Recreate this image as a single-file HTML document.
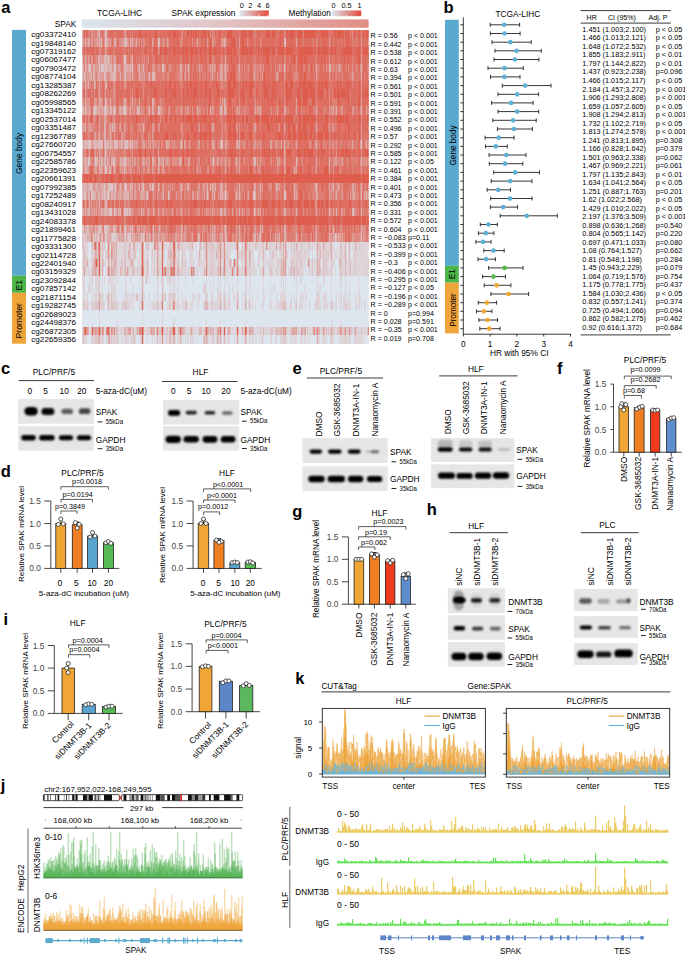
<!DOCTYPE html>
<html><head><meta charset="utf-8"><style>
html,body{margin:0;padding:0;background:#fff;}
svg{display:block;font-family:"Liberation Sans",sans-serif;}
</style></head><body>
<svg width="685" height="955" viewBox="0 0 685 955">
<defs><linearGradient id="gexp"><stop offset="0" stop-color="#dce6ee"/><stop offset="1" stop-color="#e2493a"/></linearGradient>
<linearGradient id="gspak"><stop offset="0" stop-color="#d9e5ee"/><stop offset="0.5" stop-color="#e2c2c4"/><stop offset="1" stop-color="#e08c82"/></linearGradient>
<filter id="bl" x="-30%" y="-80%" width="160%" height="260%"><feGaussianBlur stdDeviation="0.85"/></filter>
<filter id="bl2" x="-30%" y="-80%" width="160%" height="260%"><feGaussianBlur stdDeviation="1.3"/></filter></defs>
<text x="1.2" y="12.7" font-size="16.5" font-weight="bold" fill="#000">a</text>
<text x="97" y="15.8" font-size="8.4">TCGA-LIHC</text>
<text x="171.5" y="15.6" font-size="8.3">SPAK expression</text>
<text x="288.5" y="15.6" font-size="8.3">Methylation</text>
<rect x="239.5" y="10.4" width="29.2" height="5.8" fill="url(#gexp)"/>
<rect x="332" y="10.4" width="29.2" height="5.8" fill="url(#gexp)"/>
<path d="M250.1 16.2v-1.4M258.7 16.2v-1.4M267.3 16.2v-1.4M346.5 16.2v-1.4" stroke="#fff" stroke-width="0.8" fill="none"/>
<text x="241.8" y="7.9" font-size="7.3" text-anchor="middle">0</text>
<text x="250.4" y="7.9" font-size="7.3" text-anchor="middle">2</text>
<text x="259" y="7.9" font-size="7.3" text-anchor="middle">4</text>
<text x="267.6" y="7.9" font-size="7.3" text-anchor="middle">6</text>
<text x="333.5" y="7.9" font-size="7.3" text-anchor="middle">0</text>
<text x="346.5" y="7.9" font-size="7.3" text-anchor="middle">0.5</text>
<text x="359.5" y="7.9" font-size="7.3" text-anchor="middle">1</text>
<text x="76.3" y="27.3" font-size="8.3" text-anchor="end">SPAK</text>
<rect x="82" y="19.4" width="286.6" height="8.3" fill="url(#gspak)"/>
<g shape-rendering="crispEdges">
<rect x="82" y="30" width="286.6" height="8" fill="#de6e61"/>
<path d="M105 30h1v8h-1z" fill="#ddc4c6"/>
<path d="M82 30h1v8h-1zM99 30h1v8h-1zM106 30h1v8h-1z" fill="#ddb3b2"/>
<path d="M91 30h1v8h-1zM97 30h2v8h-2zM125 30h1v8h-1z" fill="#dea29e"/>
<path d="M92 30h1v8h-1zM94 30h1v8h-1zM104 30h1v8h-1zM124 30h1v8h-1zM182 30h1v8h-1zM210 30h1v8h-1zM212 30h1v8h-1zM284 30h1v8h-1zM352 30h1v8h-1zM361 30h1v8h-1z" fill="#de9089"/>
<path d="M83 30h1v8h-1zM85 30h1v8h-1zM88 30h2v8h-2zM93 30h1v8h-1zM95 30h2v8h-2zM100 30h2v8h-2zM103 30h1v8h-1zM107 30h2v8h-2zM114 30h1v8h-1zM116 30h1v8h-1zM123 30h1v8h-1zM126 30h1v8h-1zM130 30h1v8h-1zM132 30h1v8h-1zM158 30h1v8h-1zM181 30h1v8h-1zM185 30h1v8h-1zM213 30h2v8h-2zM217 30h1v8h-1zM222 30h1v8h-1zM225 30h1v8h-1zM239 30h1v8h-1zM253 30h3v8h-3zM262 30h1v8h-1zM277 30h1v8h-1zM303 30h1v8h-1zM329 30h1v8h-1zM331 30h1v8h-1zM350 30h1v8h-1zM368 30h1v8h-1z" fill="#de7f75"/>
<path d="M139 30h2v8h-2zM145 30h1v8h-1zM155 30h2v8h-2zM169 30h1v8h-1zM173 30h3v8h-3zM177 30h1v8h-1zM187 30h2v8h-2zM191 30h1v8h-1zM193 30h1v8h-1zM195 30h2v8h-2zM201 30h1v8h-1zM203 30h3v8h-3zM208 30h1v8h-1zM219 30h1v8h-1zM227 30h5v8h-5zM242 30h2v8h-2zM245 30h1v8h-1zM249 30h3v8h-3zM266 30h4v8h-4zM272 30h3v8h-3zM280 30h1v8h-1zM282 30h1v8h-1zM287 30h1v8h-1zM289 30h5v8h-5zM298 30h4v8h-4zM304 30h11v8h-11zM321 30h4v8h-4zM326 30h2v8h-2zM335 30h1v8h-1zM337 30h5v8h-5zM343 30h1v8h-1zM346 30h1v8h-1zM348 30h1v8h-1zM354 30h1v8h-1zM359 30h1v8h-1zM363 30h1v8h-1zM366 30h2v8h-2z" fill="#de5d4d"/>
<rect x="82" y="38" width="286.6" height="9" fill="#de6e61"/>
<path d="M105 38h1v9h-1zM125 38h1v9h-1zM158 38h1v9h-1zM285 38h1v9h-1z" fill="#ddc4c6"/>
<path d="M82 38h1v9h-1zM85 38h1v9h-1zM88 38h1v9h-1zM97 38h1v9h-1zM99 38h1v9h-1zM101 38h1v9h-1zM106 38h2v9h-2zM114 38h1v9h-1zM124 38h1v9h-1zM126 38h1v9h-1zM130 38h1v9h-1zM132 38h1v9h-1zM136 38h1v9h-1zM159 38h1v9h-1zM224 38h1v9h-1zM284 38h1v9h-1z" fill="#ddb3b2"/>
<path d="M83 38h1v9h-1zM89 38h1v9h-1zM92 38h1v9h-1zM100 38h1v9h-1zM110 38h1v9h-1zM115 38h1v9h-1zM122 38h1v9h-1zM127 38h1v9h-1zM152 38h1v9h-1zM163 38h1v9h-1zM167 38h1v9h-1zM197 38h1v9h-1zM207 38h1v9h-1zM212 38h1v9h-1zM222 38h1v9h-1zM225 38h1v9h-1zM239 38h1v9h-1zM296 38h1v9h-1zM329 38h1v9h-1zM361 38h1v9h-1zM368 38h1v9h-1z" fill="#dea29e"/>
<path d="M86 38h2v9h-2zM91 38h1v9h-1zM94 38h3v9h-3zM98 38h1v9h-1zM102 38h1v9h-1zM104 38h1v9h-1zM108 38h2v9h-2zM116 38h1v9h-1zM119 38h3v9h-3zM123 38h1v9h-1zM128 38h1v9h-1zM131 38h1v9h-1zM133 38h1v9h-1zM135 38h1v9h-1zM139 38h1v9h-1zM141 38h1v9h-1zM143 38h2v9h-2zM153 38h1v9h-1zM168 38h1v9h-1zM180 38h2v9h-2zM192 38h1v9h-1zM213 38h1v9h-1zM221 38h1v9h-1zM223 38h1v9h-1zM247 38h1v9h-1zM260 38h1v9h-1zM316 38h1v9h-1z" fill="#de9089"/>
<path d="M84 38h1v9h-1zM90 38h1v9h-1zM93 38h1v9h-1zM111 38h1v9h-1zM113 38h1v9h-1zM129 38h1v9h-1zM134 38h1v9h-1zM137 38h2v9h-2zM142 38h1v9h-1zM146 38h1v9h-1zM148 38h1v9h-1zM157 38h1v9h-1zM160 38h3v9h-3zM164 38h3v9h-3zM182 38h1v9h-1zM188 38h1v9h-1zM195 38h2v9h-2zM198 38h3v9h-3zM203 38h1v9h-1zM208 38h1v9h-1zM214 38h2v9h-2zM226 38h1v9h-1zM236 38h1v9h-1zM248 38h1v9h-1zM254 38h2v9h-2zM261 38h1v9h-1zM275 38h1v9h-1zM297 38h1v9h-1zM303 38h1v9h-1zM312 38h2v9h-2zM317 38h1v9h-1zM320 38h1v9h-1zM330 38h1v9h-1zM333 38h1v9h-1zM338 38h1v9h-1zM341 38h1v9h-1zM344 38h1v9h-1zM352 38h2v9h-2zM355 38h3v9h-3zM364 38h1v9h-1z" fill="#de7f75"/>
<path d="M210 38h1v9h-1zM231 38h4v9h-4zM242 38h2v9h-2zM280 38h1v9h-1zM291 38h1v9h-1zM299 38h1v9h-1zM324 38h1v9h-1zM346 38h1v9h-1zM348 38h1v9h-1z" fill="#de5d4d"/>
<rect x="82" y="47" width="286.6" height="8" fill="#de5d4d"/>
<path d="M105 47h1v8h-1z" fill="#dea29e"/>
<path d="M82 47h1v8h-1zM99 47h1v8h-1zM106 47h1v8h-1zM158 47h1v8h-1zM361 47h1v8h-1z" fill="#de9089"/>
<path d="M85 47h1v8h-1zM95 47h1v8h-1zM100 47h2v8h-2zM104 47h1v8h-1zM107 47h1v8h-1zM113 47h2v8h-2zM123 47h3v8h-3zM128 47h1v8h-1zM130 47h1v8h-1zM132 47h1v8h-1zM141 47h1v8h-1zM143 47h1v8h-1zM152 47h1v8h-1zM159 47h1v8h-1zM225 47h1v8h-1zM238 47h2v8h-2zM276 47h1v8h-1zM316 47h1v8h-1zM368 47h1v8h-1z" fill="#de7f75"/>
<path d="M83 47h2v8h-2zM86 47h6v8h-6zM93 47h2v8h-2zM96 47h3v8h-3zM102 47h2v8h-2zM108 47h5v8h-5zM115 47h8v8h-8zM126 47h2v8h-2zM129 47h1v8h-1zM131 47h1v8h-1zM133 47h8v8h-8zM142 47h1v8h-1zM144 47h1v8h-1zM146 47h6v8h-6zM153 47h1v8h-1zM157 47h1v8h-1zM162 47h2v8h-2zM167 47h3v8h-3zM171 47h2v8h-2zM176 47h1v8h-1zM178 47h1v8h-1zM180 47h2v8h-2zM184 47h1v8h-1zM188 47h2v8h-2zM194 47h1v8h-1zM197 47h3v8h-3zM202 47h2v8h-2zM206 47h3v8h-3zM212 47h2v8h-2zM217 47h2v8h-2zM220 47h3v8h-3zM224 47h1v8h-1zM226 47h1v8h-1zM232 47h1v8h-1zM236 47h2v8h-2zM240 47h1v8h-1zM248 47h1v8h-1zM253 47h5v8h-5zM259 47h2v8h-2zM262 47h1v8h-1zM270 47h2v8h-2zM275 47h1v8h-1zM277 47h1v8h-1zM284 47h2v8h-2zM293 47h6v8h-6zM313 47h2v8h-2zM317 47h1v8h-1zM321 47h1v8h-1zM328 47h2v8h-2zM333 47h1v8h-1zM336 47h5v8h-5zM342 47h1v8h-1zM352 47h4v8h-4zM357 47h1v8h-1zM360 47h1v8h-1zM362 47h1v8h-1z" fill="#de6e61"/>
<rect x="82" y="55" width="286.6" height="9" fill="#de6e61"/>
<path d="M82 55h1v9h-1zM105 55h1v9h-1zM108 55h1v9h-1zM124 55h2v9h-2z" fill="#ddc4c6"/>
<path d="M85 55h1v9h-1zM98 55h2v9h-2zM104 55h1v9h-1zM107 55h1v9h-1zM114 55h1v9h-1zM132 55h1v9h-1z" fill="#ddb3b2"/>
<path d="M88 55h1v9h-1zM91 55h1v9h-1zM101 55h2v9h-2zM106 55h1v9h-1zM109 55h1v9h-1zM111 55h1v9h-1zM225 55h1v9h-1zM329 55h1v9h-1zM361 55h1v9h-1z" fill="#dea29e"/>
<path d="M86 55h1v9h-1zM89 55h1v9h-1zM92 55h1v9h-1zM96 55h1v9h-1zM100 55h1v9h-1zM103 55h1v9h-1zM110 55h1v9h-1zM113 55h1v9h-1zM115 55h1v9h-1zM123 55h1v9h-1zM126 55h1v9h-1zM130 55h2v9h-2zM144 55h1v9h-1zM148 55h1v9h-1zM212 55h1v9h-1zM222 55h1v9h-1zM239 55h1v9h-1zM284 55h1v9h-1zM296 55h1v9h-1z" fill="#de9089"/>
<path d="M83 55h2v9h-2zM87 55h1v9h-1zM94 55h2v9h-2zM97 55h1v9h-1zM112 55h1v9h-1zM116 55h1v9h-1zM119 55h1v9h-1zM121 55h2v9h-2zM127 55h2v9h-2zM136 55h1v9h-1zM138 55h2v9h-2zM141 55h3v9h-3zM146 55h2v9h-2zM152 55h3v9h-3zM162 55h2v9h-2zM167 55h1v9h-1zM180 55h2v9h-2zM189 55h1v9h-1zM199 55h1v9h-1zM207 55h2v9h-2zM213 55h2v9h-2zM220 55h2v9h-2zM224 55h1v9h-1zM226 55h1v9h-1zM244 55h1v9h-1zM253 55h3v9h-3zM260 55h1v9h-1zM270 55h1v9h-1zM275 55h1v9h-1zM281 55h1v9h-1zM285 55h1v9h-1zM289 55h1v9h-1zM315 55h2v9h-2zM332 55h2v9h-2zM338 55h1v9h-1zM352 55h2v9h-2zM368 55h1v9h-1z" fill="#de7f75"/>
<path d="M156 55h1v9h-1zM183 55h1v9h-1zM187 55h1v9h-1zM191 55h1v9h-1zM201 55h1v9h-1zM209 55h2v9h-2zM231 55h1v9h-1zM266 55h3v9h-3zM282 55h1v9h-1zM293 55h2v9h-2zM299 55h4v9h-4zM304 55h3v9h-3zM321 55h1v9h-1zM324 55h1v9h-1zM344 55h1v9h-1zM348 55h1v9h-1zM358 55h2v9h-2z" fill="#de5d4d"/>
<rect x="82" y="64" width="286.6" height="8" fill="#de7f75"/>
<path d="M82 64h1v8h-1zM89 64h2v8h-2zM99 64h1v8h-1zM101 64h3v8h-3zM106 64h1v8h-1zM114 64h2v8h-2zM132 64h1v8h-1zM163 64h1v8h-1zM284 64h1v8h-1z" fill="#ddc4c6"/>
<path d="M85 64h1v8h-1zM88 64h1v8h-1zM93 64h2v8h-2zM104 64h2v8h-2zM107 64h1v8h-1zM109 64h3v8h-3zM124 64h2v8h-2zM127 64h1v8h-1zM130 64h1v8h-1zM139 64h1v8h-1zM143 64h1v8h-1zM162 64h1v8h-1zM180 64h2v8h-2zM188 64h1v8h-1zM225 64h1v8h-1zM239 64h1v8h-1zM316 64h1v8h-1zM329 64h2v8h-2zM339 64h1v8h-1zM361 64h1v8h-1z" fill="#ddb3b2"/>
<path d="M83 64h1v8h-1zM86 64h1v8h-1zM96 64h1v8h-1zM98 64h1v8h-1zM100 64h1v8h-1zM108 64h1v8h-1zM113 64h1v8h-1zM118 64h2v8h-2zM126 64h1v8h-1zM128 64h2v8h-2zM131 64h1v8h-1zM138 64h1v8h-1zM153 64h1v8h-1zM185 64h1v8h-1zM199 64h1v8h-1zM210 64h1v8h-1zM212 64h1v8h-1zM214 64h1v8h-1zM220 64h3v8h-3zM224 64h1v8h-1zM260 64h1v8h-1zM279 64h1v8h-1z" fill="#dea29e"/>
<path d="M87 64h1v8h-1zM91 64h2v8h-2zM95 64h1v8h-1zM97 64h1v8h-1zM112 64h1v8h-1zM116 64h2v8h-2zM120 64h1v8h-1zM123 64h1v8h-1zM137 64h1v8h-1zM141 64h2v8h-2zM144 64h1v8h-1zM146 64h1v8h-1zM152 64h1v8h-1zM154 64h1v8h-1zM158 64h2v8h-2zM164 64h2v8h-2zM169 64h2v8h-2zM187 64h1v8h-1zM189 64h1v8h-1zM201 64h1v8h-1zM208 64h1v8h-1zM211 64h1v8h-1zM213 64h1v8h-1zM215 64h1v8h-1zM226 64h2v8h-2zM238 64h1v8h-1zM244 64h1v8h-1zM248 64h1v8h-1zM253 64h3v8h-3zM257 64h1v8h-1zM263 64h1v8h-1zM275 64h1v8h-1zM281 64h1v8h-1zM285 64h1v8h-1zM296 64h1v8h-1zM309 64h1v8h-1zM323 64h1v8h-1zM326 64h1v8h-1zM333 64h1v8h-1zM336 64h1v8h-1zM338 64h1v8h-1zM340 64h1v8h-1zM348 64h1v8h-1zM352 64h1v8h-1zM356 64h1v8h-1zM360 64h1v8h-1zM368 64h1v8h-1z" fill="#de9089"/>
<path d="M136 64h1v8h-1zM145 64h1v8h-1zM148 64h2v8h-2zM151 64h1v8h-1zM166 64h2v8h-2zM173 64h1v8h-1zM175 64h1v8h-1zM190 64h2v8h-2zM194 64h2v8h-2zM203 64h1v8h-1zM205 64h2v8h-2zM216 64h2v8h-2zM229 64h4v8h-4zM234 64h2v8h-2zM243 64h1v8h-1zM245 64h1v8h-1zM250 64h3v8h-3zM264 64h6v8h-6zM272 64h3v8h-3zM276 64h1v8h-1zM282 64h1v8h-1zM286 64h1v8h-1zM289 64h3v8h-3zM294 64h1v8h-1zM297 64h4v8h-4zM302 64h1v8h-1zM305 64h3v8h-3zM310 64h1v8h-1zM312 64h1v8h-1zM314 64h1v8h-1zM320 64h3v8h-3zM324 64h2v8h-2zM343 64h2v8h-2zM347 64h1v8h-1zM349 64h1v8h-1zM351 64h1v8h-1zM354 64h1v8h-1zM358 64h2v8h-2zM363 64h4v8h-4z" fill="#de6e61"/>
<path d="M233 64h1v8h-1zM301 64h1v8h-1zM311 64h1v8h-1z" fill="#de5d4d"/>
<rect x="82" y="72" width="286.6" height="9" fill="#de6e61"/>
<path d="M82 72h1v9h-1zM104 72h1v9h-1zM114 72h1v9h-1zM153 72h1v9h-1z" fill="#ddc4c6"/>
<path d="M84 72h2v9h-2zM89 72h1v9h-1zM91 72h1v9h-1zM93 72h2v9h-2zM99 72h1v9h-1zM105 72h1v9h-1zM111 72h3v9h-3zM120 72h1v9h-1zM124 72h2v9h-2zM132 72h1v9h-1zM139 72h1v9h-1zM149 72h1v9h-1zM152 72h1v9h-1zM154 72h1v9h-1zM212 72h1v9h-1zM220 72h1v9h-1zM225 72h1v9h-1zM277 72h1v9h-1zM361 72h1v9h-1z" fill="#ddb3b2"/>
<path d="M83 72h1v9h-1zM87 72h1v9h-1zM90 72h1v9h-1zM97 72h2v9h-2zM101 72h2v9h-2zM106 72h1v9h-1zM110 72h1v9h-1zM115 72h2v9h-2zM126 72h1v9h-1zM129 72h2v9h-2zM142 72h1v9h-1zM144 72h1v9h-1zM148 72h1v9h-1zM180 72h2v9h-2zM185 72h1v9h-1zM188 72h1v9h-1zM217 72h1v9h-1zM221 72h2v9h-2zM239 72h1v9h-1zM254 72h1v9h-1zM262 72h1v9h-1zM284 72h1v9h-1zM316 72h1v9h-1zM329 72h1v9h-1zM352 72h1v9h-1z" fill="#dea29e"/>
<path d="M86 72h1v9h-1zM88 72h1v9h-1zM92 72h1v9h-1zM95 72h1v9h-1zM100 72h1v9h-1zM103 72h1v9h-1zM107 72h3v9h-3zM119 72h1v9h-1zM122 72h2v9h-2zM127 72h2v9h-2zM133 72h1v9h-1zM138 72h1v9h-1zM140 72h2v9h-2zM143 72h1v9h-1zM150 72h1v9h-1zM155 72h1v9h-1zM163 72h1v9h-1zM167 72h2v9h-2zM178 72h1v9h-1zM184 72h1v9h-1zM189 72h1v9h-1zM199 72h1v9h-1zM210 72h1v9h-1zM224 72h1v9h-1zM226 72h1v9h-1zM237 72h1v9h-1zM253 72h1v9h-1zM255 72h1v9h-1zM257 72h1v9h-1zM260 72h1v9h-1zM276 72h1v9h-1zM295 72h2v9h-2zM336 72h1v9h-1zM342 72h1v9h-1zM353 72h1v9h-1zM368 72h1v9h-1z" fill="#de9089"/>
<path d="M96 72h1v9h-1zM117 72h2v9h-2zM121 72h1v9h-1zM131 72h1v9h-1zM134 72h3v9h-3zM145 72h3v9h-3zM151 72h1v9h-1zM156 72h7v9h-7zM164 72h2v9h-2zM169 72h1v9h-1zM172 72h1v9h-1zM175 72h3v9h-3zM179 72h1v9h-1zM182 72h1v9h-1zM186 72h1v9h-1zM192 72h1v9h-1zM197 72h1v9h-1zM200 72h1v9h-1zM202 72h4v9h-4zM207 72h2v9h-2zM211 72h1v9h-1zM213 72h3v9h-3zM218 72h2v9h-2zM223 72h1v9h-1zM236 72h1v9h-1zM238 72h1v9h-1zM240 72h3v9h-3zM244 72h5v9h-5zM256 72h1v9h-1zM258 72h1v9h-1zM261 72h1v9h-1zM270 72h1v9h-1zM275 72h1v9h-1zM278 72h1v9h-1zM285 72h1v9h-1zM293 72h2v9h-2zM297 72h2v9h-2zM307 72h1v9h-1zM309 72h1v9h-1zM314 72h1v9h-1zM317 72h2v9h-2zM330 72h1v9h-1zM332 72h2v9h-2zM335 72h1v9h-1zM338 72h2v9h-2zM341 72h1v9h-1zM348 72h1v9h-1zM350 72h2v9h-2zM355 72h1v9h-1zM357 72h2v9h-2zM360 72h1v9h-1zM364 72h1v9h-1z" fill="#de7f75"/>
<path d="M230 72h2v9h-2zM233 72h2v9h-2zM264 72h1v9h-1zM282 72h1v9h-1zM289 72h1v9h-1zM300 72h1v9h-1zM304 72h2v9h-2z" fill="#de5d4d"/>
<rect x="82" y="81" width="286.6" height="8" fill="#de6e61"/>
<path d="M82 81h1v8h-1zM85 81h1v8h-1zM88 81h1v8h-1zM94 81h1v8h-1zM105 81h2v8h-2z" fill="#ddb3b2"/>
<path d="M95 81h1v8h-1zM99 81h1v8h-1zM124 81h1v8h-1z" fill="#dea29e"/>
<path d="M86 81h2v8h-2zM90 81h1v8h-1zM113 81h2v8h-2zM125 81h1v8h-1zM222 81h1v8h-1zM361 81h1v8h-1z" fill="#de9089"/>
<path d="M83 81h2v8h-2zM89 81h1v8h-1zM92 81h2v8h-2zM97 81h2v8h-2zM100 81h2v8h-2zM104 81h1v8h-1zM107 81h1v8h-1zM110 81h1v8h-1zM115 81h1v8h-1zM120 81h1v8h-1zM126 81h1v8h-1zM130 81h1v8h-1zM134 81h1v8h-1zM141 81h4v8h-4zM160 81h1v8h-1zM180 81h3v8h-3zM210 81h1v8h-1zM220 81h2v8h-2zM223 81h4v8h-4zM239 81h1v8h-1zM255 81h1v8h-1zM260 81h1v8h-1zM284 81h1v8h-1zM294 81h1v8h-1zM316 81h1v8h-1zM329 81h1v8h-1zM331 81h1v8h-1zM352 81h1v8h-1zM368 81h1v8h-1z" fill="#de7f75"/>
<path d="M151 81h1v8h-1zM169 81h2v8h-2zM175 81h1v8h-1zM187 81h1v8h-1zM190 81h2v8h-2zM193 81h1v8h-1zM195 81h2v8h-2zM201 81h1v8h-1zM205 81h2v8h-2zM216 81h2v8h-2zM228 81h3v8h-3zM233 81h3v8h-3zM243 81h1v8h-1zM245 81h2v8h-2zM249 81h4v8h-4zM263 81h3v8h-3zM267 81h1v8h-1zM269 81h1v8h-1zM272 81h1v8h-1zM274 81h1v8h-1zM286 81h2v8h-2zM290 81h3v8h-3zM299 81h2v8h-2zM302 81h4v8h-4zM307 81h6v8h-6zM319 81h1v8h-1zM321 81h2v8h-2zM324 81h4v8h-4zM337 81h1v8h-1zM340 81h1v8h-1zM346 81h1v8h-1zM348 81h2v8h-2zM359 81h1v8h-1z" fill="#de5d4d"/>
<rect x="82" y="89" width="286.6" height="9" fill="#de6e61"/>
<path d="M82 89h1v9h-1zM85 89h1v9h-1zM99 89h1v9h-1zM105 89h1v9h-1z" fill="#dea29e"/>
<path d="M94 89h1v9h-1zM98 89h1v9h-1zM113 89h3v9h-3zM132 89h1v9h-1zM143 89h1v9h-1zM329 89h1v9h-1zM361 89h1v9h-1z" fill="#de9089"/>
<path d="M86 89h2v9h-2zM91 89h2v9h-2zM100 89h2v9h-2zM104 89h1v9h-1zM107 89h2v9h-2zM110 89h3v9h-3zM124 89h1v9h-1zM130 89h1v9h-1zM148 89h1v9h-1zM181 89h1v9h-1zM212 89h1v9h-1zM220 89h1v9h-1zM225 89h1v9h-1zM239 89h1v9h-1zM253 89h3v9h-3zM260 89h1v9h-1zM281 89h1v9h-1zM284 89h1v9h-1zM316 89h1v9h-1zM325 89h1v9h-1zM332 89h1v9h-1zM350 89h1v9h-1zM368 89h1v9h-1z" fill="#de7f75"/>
<path d="M136 89h2v9h-2zM154 89h3v9h-3zM165 89h2v9h-2zM171 89h1v9h-1zM173 89h3v9h-3zM183 89h1v9h-1zM187 89h2v9h-2zM191 89h1v9h-1zM193 89h4v9h-4zM201 89h1v9h-1zM205 89h2v9h-2zM209 89h2v9h-2zM217 89h3v9h-3zM228 89h6v9h-6zM241 89h3v9h-3zM249 89h3v9h-3zM256 89h1v9h-1zM264 89h4v9h-4zM272 89h3v9h-3zM276 89h1v9h-1zM286 89h6v9h-6zM297 89h3v9h-3zM303 89h6v9h-6zM310 89h5v9h-5zM318 89h5v9h-5zM327 89h1v9h-1zM334 89h2v9h-2zM337 89h3v9h-3zM341 89h5v9h-5zM347 89h2v9h-2zM359 89h1v9h-1zM363 89h1v9h-1zM365 89h3v9h-3z" fill="#de5d4d"/>
<rect x="82" y="98" width="286.6" height="8" fill="#de6e61"/>
<path d="M105 98h1v8h-1z" fill="#ddc4c6"/>
<path d="M82 98h1v8h-1zM85 98h1v8h-1zM99 98h1v8h-1zM110 98h1v8h-1zM125 98h1v8h-1zM132 98h1v8h-1zM152 98h2v8h-2zM224 98h1v8h-1z" fill="#ddb3b2"/>
<path d="M89 98h1v8h-1zM95 98h1v8h-1zM100 98h2v8h-2zM106 98h1v8h-1zM114 98h1v8h-1zM124 98h1v8h-1zM139 98h1v8h-1zM222 98h1v8h-1zM225 98h1v8h-1zM296 98h1v8h-1zM361 98h1v8h-1z" fill="#dea29e"/>
<path d="M83 98h1v8h-1zM86 98h3v8h-3zM94 98h1v8h-1zM96 98h1v8h-1zM102 98h1v8h-1zM107 98h1v8h-1zM123 98h1v8h-1zM126 98h1v8h-1zM130 98h1v8h-1zM135 98h1v8h-1zM148 98h1v8h-1zM160 98h1v8h-1zM220 98h1v8h-1zM239 98h1v8h-1zM255 98h1v8h-1zM284 98h1v8h-1zM329 98h1v8h-1z" fill="#de9089"/>
<path d="M84 98h1v8h-1zM93 98h1v8h-1zM97 98h2v8h-2zM104 98h1v8h-1zM108 98h2v8h-2zM111 98h3v8h-3zM115 98h1v8h-1zM119 98h2v8h-2zM122 98h1v8h-1zM131 98h1v8h-1zM133 98h2v8h-2zM136 98h1v8h-1zM138 98h1v8h-1zM141 98h1v8h-1zM143 98h1v8h-1zM154 98h2v8h-2zM159 98h1v8h-1zM161 98h3v8h-3zM181 98h1v8h-1zM199 98h1v8h-1zM202 98h1v8h-1zM207 98h1v8h-1zM212 98h2v8h-2zM221 98h1v8h-1zM223 98h1v8h-1zM226 98h1v8h-1zM232 98h1v8h-1zM234 98h1v8h-1zM246 98h1v8h-1zM254 98h1v8h-1zM257 98h1v8h-1zM260 98h1v8h-1zM277 98h1v8h-1zM309 98h2v8h-2zM315 98h2v8h-2zM332 98h5v8h-5zM342 98h1v8h-1zM350 98h1v8h-1zM368 98h1v8h-1z" fill="#de7f75"/>
<path d="M145 98h1v8h-1zM170 98h1v8h-1zM193 98h1v8h-1zM209 98h1v8h-1zM216 98h1v8h-1zM229 98h2v8h-2zM243 98h1v8h-1zM268 98h1v8h-1zM271 98h2v8h-2zM279 98h1v8h-1zM287 98h1v8h-1zM289 98h1v8h-1zM298 98h3v8h-3zM303 98h4v8h-4zM312 98h3v8h-3zM338 98h1v8h-1zM348 98h1v8h-1zM358 98h2v8h-2z" fill="#de5d4d"/>
<rect x="82" y="106" width="286.6" height="9" fill="#de7f75"/>
<path d="M82 106h1v9h-1zM94 106h2v9h-2zM104 106h2v9h-2zM114 106h1v9h-1zM124 106h2v9h-2zM158 106h1v9h-1zM221 106h1v9h-1z" fill="#ddc4c6"/>
<path d="M83 106h1v9h-1zM85 106h2v9h-2zM93 106h1v9h-1zM96 106h1v9h-1zM99 106h1v9h-1zM102 106h1v9h-1zM106 106h2v9h-2zM110 106h2v9h-2zM113 106h1v9h-1zM115 106h1v9h-1zM120 106h1v9h-1zM123 106h1v9h-1zM130 106h1v9h-1zM137 106h3v9h-3zM149 106h1v9h-1zM152 106h1v9h-1zM159 106h1v9h-1zM197 106h1v9h-1zM210 106h1v9h-1zM220 106h1v9h-1zM224 106h2v9h-2zM260 106h1v9h-1zM284 106h1v9h-1zM336 106h1v9h-1zM361 106h1v9h-1z" fill="#ddb3b2"/>
<path d="M88 106h3v9h-3zM97 106h2v9h-2zM101 106h1v9h-1zM109 106h1v9h-1zM119 106h1v9h-1zM122 106h1v9h-1zM126 106h1v9h-1zM148 106h1v9h-1zM153 106h1v9h-1zM160 106h2v9h-2zM181 106h1v9h-1zM187 106h1v9h-1zM212 106h1v9h-1zM226 106h1v9h-1zM237 106h1v9h-1zM239 106h1v9h-1zM255 106h1v9h-1zM257 106h1v9h-1zM277 106h1v9h-1zM285 106h1v9h-1zM296 106h1v9h-1zM316 106h1v9h-1zM329 106h1v9h-1zM331 106h1v9h-1zM333 106h1v9h-1zM342 106h1v9h-1zM353 106h1v9h-1zM366 106h1v9h-1z" fill="#dea29e"/>
<path d="M84 106h1v9h-1zM87 106h1v9h-1zM100 106h1v9h-1zM103 106h1v9h-1zM108 106h1v9h-1zM112 106h1v9h-1zM121 106h1v9h-1zM127 106h1v9h-1zM129 106h1v9h-1zM132 106h3v9h-3zM136 106h1v9h-1zM141 106h3v9h-3zM155 106h1v9h-1zM163 106h1v9h-1zM168 106h2v9h-2zM176 106h1v9h-1zM180 106h1v9h-1zM182 106h1v9h-1zM185 106h1v9h-1zM188 106h1v9h-1zM192 106h1v9h-1zM198 106h3v9h-3zM207 106h1v9h-1zM213 106h1v9h-1zM222 106h1v9h-1zM236 106h1v9h-1zM244 106h1v9h-1zM254 106h1v9h-1zM258 106h2v9h-2zM271 106h1v9h-1zM301 106h1v9h-1zM317 106h1v9h-1zM332 106h1v9h-1zM335 106h1v9h-1zM341 106h1v9h-1zM352 106h1v9h-1zM360 106h1v9h-1zM368 106h1v9h-1z" fill="#de9089"/>
<path d="M91 106h1v9h-1zM145 106h1v9h-1zM156 106h1v9h-1zM166 106h2v9h-2zM171 106h1v9h-1zM173 106h2v9h-2zM183 106h1v9h-1zM191 106h1v9h-1zM194 106h2v9h-2zM201 106h1v9h-1zM205 106h1v9h-1zM208 106h2v9h-2zM215 106h1v9h-1zM217 106h1v9h-1zM227 106h5v9h-5zM233 106h2v9h-2zM249 106h5v9h-5zM262 106h8v9h-8zM272 106h1v9h-1zM274 106h1v9h-1zM279 106h5v9h-5zM289 106h6v9h-6zM298 106h3v9h-3zM302 106h1v9h-1zM305 106h2v9h-2zM308 106h2v9h-2zM311 106h2v9h-2zM318 106h5v9h-5zM327 106h2v9h-2zM338 106h1v9h-1zM343 106h1v9h-1zM345 106h7v9h-7zM354 106h1v9h-1zM358 106h2v9h-2zM363 106h2v9h-2z" fill="#de6e61"/>
<path d="M310 106h1v9h-1z" fill="#de5d4d"/>
<rect x="82" y="115" width="286.6" height="8" fill="#de6e61"/>
<path d="M105 115h1v8h-1z" fill="#ddb3b2"/>
<path d="M94 115h1v8h-1zM99 115h1v8h-1zM104 115h1v8h-1z" fill="#dea29e"/>
<path d="M82 115h1v8h-1zM85 115h1v8h-1zM88 115h1v8h-1zM106 115h1v8h-1zM113 115h2v8h-2zM160 115h1v8h-1zM361 115h1v8h-1z" fill="#de9089"/>
<path d="M86 115h1v8h-1zM89 115h1v8h-1zM93 115h1v8h-1zM95 115h1v8h-1zM100 115h4v8h-4zM107 115h3v8h-3zM112 115h1v8h-1zM116 115h1v8h-1zM120 115h2v8h-2zM124 115h3v8h-3zM130 115h1v8h-1zM141 115h1v8h-1zM144 115h1v8h-1zM146 115h1v8h-1zM163 115h1v8h-1zM168 115h1v8h-1zM220 115h3v8h-3zM225 115h1v8h-1zM244 115h1v8h-1zM260 115h1v8h-1zM294 115h1v8h-1zM316 115h1v8h-1zM329 115h1v8h-1zM368 115h1v8h-1z" fill="#de7f75"/>
<path d="M91 115h1v8h-1zM136 115h2v8h-2zM150 115h2v8h-2zM155 115h2v8h-2zM165 115h2v8h-2zM170 115h1v8h-1zM175 115h1v8h-1zM183 115h1v8h-1zM186 115h6v8h-6zM194 115h3v8h-3zM201 115h1v8h-1zM203 115h4v8h-4zM209 115h1v8h-1zM215 115h1v8h-1zM227 115h5v8h-5zM233 115h3v8h-3zM242 115h2v8h-2zM246 115h2v8h-2zM251 115h1v8h-1zM256 115h3v8h-3zM262 115h7v8h-7zM271 115h2v8h-2zM274 115h1v8h-1zM276 115h1v8h-1zM278 115h3v8h-3zM286 115h7v8h-7zM299 115h2v8h-2zM303 115h7v8h-7zM311 115h4v8h-4zM318 115h1v8h-1zM321 115h1v8h-1zM325 115h3v8h-3zM337 115h7v8h-7zM345 115h4v8h-4zM354 115h1v8h-1zM358 115h2v8h-2zM367 115h1v8h-1z" fill="#de5d4d"/>
<rect x="82" y="123" width="286.6" height="9" fill="#de6e61"/>
<path d="M85 123h1v9h-1zM104 123h2v9h-2zM112 123h1v9h-1zM114 123h1v9h-1zM143 123h1v9h-1z" fill="#ddb3b2"/>
<path d="M82 123h2v9h-2zM89 123h1v9h-1zM91 123h1v9h-1zM99 123h1v9h-1zM109 123h2v9h-2zM113 123h1v9h-1zM120 123h1v9h-1zM124 123h1v9h-1zM153 123h1v9h-1zM199 123h1v9h-1zM212 123h2v9h-2zM254 123h2v9h-2zM284 123h1v9h-1zM316 123h1v9h-1zM329 123h1v9h-1zM361 123h1v9h-1z" fill="#dea29e"/>
<path d="M84 123h1v9h-1zM88 123h1v9h-1zM90 123h1v9h-1zM93 123h1v9h-1zM111 123h1v9h-1zM115 123h1v9h-1zM119 123h1v9h-1zM125 123h1v9h-1zM130 123h1v9h-1zM132 123h1v9h-1zM139 123h1v9h-1zM141 123h1v9h-1zM144 123h1v9h-1zM152 123h1v9h-1zM158 123h2v9h-2zM181 123h2v9h-2zM222 123h1v9h-1zM225 123h1v9h-1zM236 123h2v9h-2zM239 123h1v9h-1zM279 123h1v9h-1zM296 123h1v9h-1zM332 123h2v9h-2zM368 123h1v9h-1z" fill="#de9089"/>
<path d="M86 123h2v9h-2zM92 123h1v9h-1zM94 123h3v9h-3zM98 123h1v9h-1zM100 123h4v9h-4zM106 123h3v9h-3zM116 123h2v9h-2zM121 123h1v9h-1zM123 123h1v9h-1zM126 123h2v9h-2zM131 123h1v9h-1zM137 123h2v9h-2zM140 123h1v9h-1zM142 123h1v9h-1zM150 123h1v9h-1zM154 123h1v9h-1zM165 123h1v9h-1zM180 123h1v9h-1zM185 123h1v9h-1zM188 123h1v9h-1zM198 123h1v9h-1zM202 123h2v9h-2zM211 123h1v9h-1zM214 123h1v9h-1zM221 123h1v9h-1zM224 123h1v9h-1zM226 123h1v9h-1zM241 123h1v9h-1zM244 123h1v9h-1zM247 123h1v9h-1zM253 123h1v9h-1zM256 123h1v9h-1zM260 123h1v9h-1zM278 123h1v9h-1zM285 123h1v9h-1zM315 123h1v9h-1zM317 123h1v9h-1zM328 123h1v9h-1zM331 123h1v9h-1zM334 123h3v9h-3zM342 123h1v9h-1z" fill="#de7f75"/>
<path d="M191 123h2v9h-2zM201 123h1v9h-1zM209 123h1v9h-1zM229 123h2v9h-2zM233 123h2v9h-2zM250 123h1v9h-1zM267 123h3v9h-3zM281 123h1v9h-1zM288 123h2v9h-2zM293 123h2v9h-2zM299 123h2v9h-2zM303 123h3v9h-3zM311 123h2v9h-2zM324 123h2v9h-2zM327 123h1v9h-1zM338 123h1v9h-1zM348 123h2v9h-2zM359 123h1v9h-1z" fill="#de5d4d"/>
<rect x="82" y="132" width="286.6" height="8" fill="#de6e61"/>
<path d="M99 132h1v8h-1zM104 132h2v8h-2z" fill="#ddb3b2"/>
<path d="M82 132h1v8h-1zM95 132h1v8h-1zM110 132h1v8h-1zM122 132h1v8h-1zM152 132h1v8h-1zM361 132h1v8h-1z" fill="#dea29e"/>
<path d="M88 132h1v8h-1zM94 132h1v8h-1zM98 132h1v8h-1zM103 132h1v8h-1zM108 132h2v8h-2zM111 132h1v8h-1zM114 132h1v8h-1zM121 132h1v8h-1zM124 132h1v8h-1zM141 132h1v8h-1zM143 132h1v8h-1zM148 132h1v8h-1zM182 132h1v8h-1zM222 132h1v8h-1zM239 132h1v8h-1z" fill="#de9089"/>
<path d="M85 132h1v8h-1zM87 132h1v8h-1zM89 132h2v8h-2zM93 132h1v8h-1zM96 132h2v8h-2zM100 132h3v8h-3zM106 132h2v8h-2zM113 132h1v8h-1zM115 132h1v8h-1zM117 132h1v8h-1zM123 132h1v8h-1zM125 132h1v8h-1zM130 132h3v8h-3zM134 132h1v8h-1zM137 132h2v8h-2zM142 132h1v8h-1zM149 132h2v8h-2zM153 132h1v8h-1zM181 132h1v8h-1zM212 132h1v8h-1zM214 132h1v8h-1zM220 132h2v8h-2zM225 132h2v8h-2zM237 132h1v8h-1zM246 132h1v8h-1zM253 132h3v8h-3zM284 132h1v8h-1zM316 132h1v8h-1zM329 132h1v8h-1zM357 132h1v8h-1zM364 132h1v8h-1zM366 132h1v8h-1zM368 132h1v8h-1z" fill="#de7f75"/>
<path d="M145 132h1v8h-1zM156 132h1v8h-1zM165 132h3v8h-3zM173 132h1v8h-1zM175 132h1v8h-1zM187 132h2v8h-2zM194 132h2v8h-2zM200 132h2v8h-2zM203 132h4v8h-4zM209 132h2v8h-2zM228 132h4v8h-4zM233 132h3v8h-3zM241 132h3v8h-3zM249 132h3v8h-3zM263 132h2v8h-2zM276 132h1v8h-1zM278 132h3v8h-3zM282 132h1v8h-1zM288 132h3v8h-3zM293 132h3v8h-3zM299 132h4v8h-4zM304 132h3v8h-3zM310 132h2v8h-2zM314 132h1v8h-1zM318 132h5v8h-5zM325 132h3v8h-3zM335 132h1v8h-1zM338 132h1v8h-1zM345 132h1v8h-1zM348 132h1v8h-1zM354 132h1v8h-1zM359 132h1v8h-1z" fill="#de5d4d"/>
<rect x="82" y="140" width="286.6" height="9" fill="#de7f75"/>
<path d="M82 140h1v9h-1z" fill="#ddd5da"/>
<path d="M85 140h1v9h-1zM88 140h3v9h-3zM94 140h1v9h-1zM99 140h1v9h-1zM101 140h1v9h-1zM105 140h1v9h-1zM114 140h1v9h-1zM116 140h1v9h-1zM125 140h1v9h-1zM127 140h1v9h-1zM130 140h1v9h-1zM181 140h1v9h-1zM221 140h1v9h-1zM361 140h1v9h-1z" fill="#ddc4c6"/>
<path d="M83 140h1v9h-1zM86 140h2v9h-2zM95 140h4v9h-4zM100 140h1v9h-1zM102 140h1v9h-1zM104 140h1v9h-1zM106 140h3v9h-3zM110 140h2v9h-2zM115 140h1v9h-1zM117 140h1v9h-1zM121 140h2v9h-2zM124 140h1v9h-1zM126 140h1v9h-1zM132 140h1v9h-1zM153 140h1v9h-1zM166 140h1v9h-1zM212 140h1v9h-1zM220 140h1v9h-1zM222 140h1v9h-1zM225 140h1v9h-1zM237 140h1v9h-1zM239 140h1v9h-1zM281 140h1v9h-1zM284 140h1v9h-1zM316 140h1v9h-1zM366 140h1v9h-1z" fill="#ddb3b2"/>
<path d="M84 140h1v9h-1zM91 140h3v9h-3zM109 140h1v9h-1zM112 140h1v9h-1zM119 140h2v9h-2zM128 140h1v9h-1zM131 140h1v9h-1zM134 140h1v9h-1zM136 140h1v9h-1zM143 140h2v9h-2zM150 140h1v9h-1zM167 140h2v9h-2zM174 140h1v9h-1zM180 140h1v9h-1zM184 140h2v9h-2zM199 140h1v9h-1zM213 140h1v9h-1zM236 140h1v9h-1zM255 140h1v9h-1zM260 140h1v9h-1zM270 140h2v9h-2zM275 140h1v9h-1zM296 140h1v9h-1zM329 140h1v9h-1zM352 140h1v9h-1zM360 140h1v9h-1zM368 140h1v9h-1z" fill="#dea29e"/>
<path d="M113 140h1v9h-1zM118 140h1v9h-1zM123 140h1v9h-1zM129 140h1v9h-1zM133 140h1v9h-1zM135 140h1v9h-1zM137 140h1v9h-1zM141 140h2v9h-2zM146 140h1v9h-1zM148 140h2v9h-2zM152 140h1v9h-1zM155 140h2v9h-2zM158 140h2v9h-2zM161 140h1v9h-1zM169 140h1v9h-1zM172 140h1v9h-1zM182 140h1v9h-1zM188 140h2v9h-2zM198 140h1v9h-1zM207 140h1v9h-1zM214 140h1v9h-1zM226 140h2v9h-2zM238 140h1v9h-1zM243 140h2v9h-2zM253 140h2v9h-2zM257 140h1v9h-1zM276 140h2v9h-2zM285 140h1v9h-1zM287 140h2v9h-2zM309 140h2v9h-2zM315 140h1v9h-1zM323 140h1v9h-1zM332 140h2v9h-2zM336 140h1v9h-1zM353 140h1v9h-1z" fill="#de9089"/>
<path d="M140 140h1v9h-1zM160 140h1v9h-1zM164 140h1v9h-1zM183 140h1v9h-1zM186 140h2v9h-2zM191 140h2v9h-2zM194 140h2v9h-2zM200 140h1v9h-1zM205 140h2v9h-2zM209 140h2v9h-2zM216 140h1v9h-1zM229 140h7v9h-7zM246 140h2v9h-2zM250 140h3v9h-3zM262 140h3v9h-3zM266 140h2v9h-2zM269 140h1v9h-1zM274 140h1v9h-1zM282 140h1v9h-1zM290 140h1v9h-1zM293 140h1v9h-1zM298 140h11v9h-11zM312 140h2v9h-2zM320 140h3v9h-3zM327 140h2v9h-2zM338 140h1v9h-1zM343 140h1v9h-1zM345 140h2v9h-2zM354 140h1v9h-1zM358 140h2v9h-2zM363 140h1v9h-1z" fill="#de6e61"/>
<rect x="82" y="149" width="286.6" height="8" fill="#de6e61"/>
<path d="M82 149h1v8h-1zM105 149h1v8h-1z" fill="#ddc4c6"/>
<path d="M284 149h1v8h-1z" fill="#ddb3b2"/>
<path d="M89 149h1v8h-1zM95 149h1v8h-1zM99 149h1v8h-1zM106 149h1v8h-1zM158 149h1v8h-1z" fill="#dea29e"/>
<path d="M84 149h2v8h-2zM97 149h1v8h-1zM100 149h2v8h-2zM104 149h1v8h-1zM107 149h1v8h-1zM109 149h2v8h-2zM112 149h1v8h-1zM114 149h1v8h-1zM124 149h1v8h-1zM132 149h1v8h-1zM336 149h1v8h-1zM361 149h1v8h-1z" fill="#de9089"/>
<path d="M83 149h1v8h-1zM88 149h1v8h-1zM94 149h1v8h-1zM96 149h1v8h-1zM98 149h1v8h-1zM102 149h1v8h-1zM108 149h1v8h-1zM111 149h1v8h-1zM113 149h1v8h-1zM115 149h6v8h-6zM122 149h2v8h-2zM125 149h2v8h-2zM130 149h2v8h-2zM143 149h1v8h-1zM148 149h1v8h-1zM152 149h2v8h-2zM210 149h1v8h-1zM212 149h2v8h-2zM215 149h1v8h-1zM222 149h1v8h-1zM225 149h2v8h-2zM239 149h1v8h-1zM254 149h1v8h-1zM260 149h1v8h-1zM276 149h1v8h-1zM285 149h1v8h-1zM293 149h1v8h-1zM316 149h1v8h-1zM329 149h1v8h-1zM333 149h1v8h-1zM368 149h1v8h-1z" fill="#de7f75"/>
<path d="M92 149h1v8h-1zM139 149h2v8h-2zM145 149h1v8h-1zM155 149h1v8h-1zM169 149h3v8h-3zM175 149h1v8h-1zM177 149h1v8h-1zM183 149h1v8h-1zM187 149h2v8h-2zM191 149h2v8h-2zM194 149h1v8h-1zM219 149h1v8h-1zM228 149h1v8h-1zM230 149h3v8h-3zM234 149h1v8h-1zM242 149h2v8h-2zM251 149h1v8h-1zM263 149h3v8h-3zM268 149h2v8h-2zM272 149h1v8h-1zM274 149h1v8h-1zM280 149h1v8h-1zM282 149h1v8h-1zM287 149h4v8h-4zM298 149h3v8h-3zM302 149h1v8h-1zM304 149h2v8h-2zM307 149h6v8h-6zM318 149h1v8h-1zM321 149h2v8h-2zM324 149h1v8h-1zM338 149h1v8h-1zM341 149h3v8h-3zM345 149h5v8h-5zM354 149h1v8h-1zM359 149h1v8h-1zM365 149h3v8h-3z" fill="#de5d4d"/>
<rect x="82" y="157" width="286.6" height="9" fill="#de7f75"/>
<path d="M82 157h1v9h-1zM88 157h2v9h-2zM95 157h1v9h-1zM105 157h1v9h-1zM113 157h2v9h-2zM125 157h1v9h-1zM213 157h1v9h-1zM254 157h1v9h-1z" fill="#ddc4c6"/>
<path d="M84 157h2v9h-2zM96 157h2v9h-2zM99 157h1v9h-1zM101 157h2v9h-2zM104 157h1v9h-1zM107 157h1v9h-1zM111 157h1v9h-1zM120 157h1v9h-1zM123 157h2v9h-2zM143 157h1v9h-1zM152 157h2v9h-2zM158 157h2v9h-2zM163 157h1v9h-1zM180 157h1v9h-1zM188 157h1v9h-1zM217 157h1v9h-1zM236 157h1v9h-1zM255 157h1v9h-1zM284 157h1v9h-1zM296 157h1v9h-1zM329 157h1v9h-1zM361 157h1v9h-1z" fill="#ddb3b2"/>
<path d="M86 157h2v9h-2zM94 157h1v9h-1zM100 157h1v9h-1zM108 157h1v9h-1zM112 157h1v9h-1zM121 157h2v9h-2zM126 157h1v9h-1zM128 157h1v9h-1zM130 157h1v9h-1zM132 157h1v9h-1zM135 157h1v9h-1zM144 157h1v9h-1zM146 157h1v9h-1zM149 157h1v9h-1zM161 157h2v9h-2zM166 157h2v9h-2zM179 157h1v9h-1zM181 157h1v9h-1zM212 157h1v9h-1zM225 157h1v9h-1zM229 157h1v9h-1zM239 157h1v9h-1zM257 157h1v9h-1zM260 157h1v9h-1zM277 157h1v9h-1zM279 157h1v9h-1zM316 157h1v9h-1zM335 157h2v9h-2zM342 157h1v9h-1zM366 157h1v9h-1zM368 157h1v9h-1z" fill="#dea29e"/>
<path d="M83 157h1v9h-1zM90 157h2v9h-2zM98 157h1v9h-1zM103 157h1v9h-1zM106 157h1v9h-1zM109 157h1v9h-1zM115 157h2v9h-2zM119 157h1v9h-1zM127 157h1v9h-1zM129 157h1v9h-1zM133 157h2v9h-2zM137 157h2v9h-2zM141 157h2v9h-2zM147 157h2v9h-2zM154 157h2v9h-2zM160 157h1v9h-1zM165 157h1v9h-1zM168 157h2v9h-2zM172 157h5v9h-5zM178 157h1v9h-1zM185 157h1v9h-1zM189 157h1v9h-1zM197 157h1v9h-1zM199 157h1v9h-1zM210 157h1v9h-1zM214 157h1v9h-1zM218 157h1v9h-1zM220 157h3v9h-3zM224 157h1v9h-1zM226 157h1v9h-1zM235 157h1v9h-1zM237 157h1v9h-1zM244 157h1v9h-1zM253 157h1v9h-1zM271 157h1v9h-1zM278 157h1v9h-1zM285 157h1v9h-1zM297 157h1v9h-1zM302 157h1v9h-1zM333 157h2v9h-2zM338 157h1v9h-1zM341 157h1v9h-1zM360 157h1v9h-1zM363 157h2v9h-2z" fill="#de9089"/>
<path d="M140 157h1v9h-1zM150 157h2v9h-2zM157 157h1v9h-1zM171 157h1v9h-1zM182 157h1v9h-1zM191 157h2v9h-2zM194 157h3v9h-3zM200 157h2v9h-2zM203 157h1v9h-1zM205 157h1v9h-1zM208 157h2v9h-2zM230 157h5v9h-5zM241 157h2v9h-2zM246 157h1v9h-1zM249 157h2v9h-2zM265 157h5v9h-5zM272 157h1v9h-1zM274 157h1v9h-1zM282 157h1v9h-1zM286 157h6v9h-6zM293 157h2v9h-2zM299 157h2v9h-2zM303 157h3v9h-3zM307 157h8v9h-8zM318 157h1v9h-1zM320 157h4v9h-4zM325 157h3v9h-3zM344 157h2v9h-2zM349 157h2v9h-2zM358 157h2v9h-2z" fill="#de6e61"/>
<path d="M183 157h1v9h-1z" fill="#de5d4d"/>
<rect x="82" y="166" width="286.6" height="8" fill="#de6e61"/>
<path d="M82 166h1v8h-1zM105 166h2v8h-2z" fill="#ddc4c6"/>
<path d="M85 166h2v8h-2zM99 166h1v8h-1zM101 166h1v8h-1zM109 166h2v8h-2zM114 166h1v8h-1zM124 166h1v8h-1zM158 166h1v8h-1zM329 166h1v8h-1z" fill="#ddb3b2"/>
<path d="M87 166h1v8h-1zM95 166h2v8h-2zM100 166h1v8h-1zM104 166h1v8h-1zM120 166h1v8h-1zM122 166h1v8h-1zM125 166h1v8h-1zM130 166h1v8h-1zM148 166h1v8h-1zM152 166h1v8h-1zM163 166h1v8h-1zM197 166h1v8h-1zM225 166h1v8h-1zM239 166h1v8h-1zM284 166h1v8h-1zM294 166h1v8h-1zM296 166h1v8h-1zM316 166h1v8h-1zM361 166h1v8h-1z" fill="#dea29e"/>
<path d="M83 166h2v8h-2zM88 166h2v8h-2zM94 166h1v8h-1zM102 166h1v8h-1zM107 166h2v8h-2zM111 166h1v8h-1zM113 166h1v8h-1zM115 166h1v8h-1zM123 166h1v8h-1zM126 166h1v8h-1zM128 166h1v8h-1zM131 166h1v8h-1zM134 166h1v8h-1zM137 166h1v8h-1zM139 166h1v8h-1zM143 166h2v8h-2zM147 166h1v8h-1zM153 166h1v8h-1zM159 166h1v8h-1zM162 166h1v8h-1zM200 166h1v8h-1zM207 166h2v8h-2zM212 166h1v8h-1zM236 166h1v8h-1zM254 166h1v8h-1zM258 166h2v8h-2zM277 166h1v8h-1zM285 166h1v8h-1zM295 166h1v8h-1zM333 166h1v8h-1z" fill="#de9089"/>
<path d="M93 166h1v8h-1zM97 166h2v8h-2zM103 166h1v8h-1zM119 166h1v8h-1zM121 166h1v8h-1zM127 166h1v8h-1zM129 166h1v8h-1zM132 166h2v8h-2zM138 166h1v8h-1zM141 166h2v8h-2zM146 166h1v8h-1zM149 166h2v8h-2zM154 166h2v8h-2zM157 166h1v8h-1zM161 166h1v8h-1zM164 166h2v8h-2zM168 166h2v8h-2zM180 166h2v8h-2zM187 166h3v8h-3zM193 166h1v8h-1zM196 166h1v8h-1zM198 166h2v8h-2zM213 166h2v8h-2zM221 166h2v8h-2zM224 166h1v8h-1zM226 166h1v8h-1zM229 166h1v8h-1zM237 166h2v8h-2zM241 166h1v8h-1zM248 166h1v8h-1zM253 166h1v8h-1zM255 166h1v8h-1zM257 166h1v8h-1zM260 166h1v8h-1zM275 166h1v8h-1zM278 166h1v8h-1zM293 166h1v8h-1zM303 166h1v8h-1zM312 166h1v8h-1zM315 166h1v8h-1zM332 166h1v8h-1zM339 166h3v8h-3zM347 166h1v8h-1zM352 166h2v8h-2zM357 166h1v8h-1zM360 166h1v8h-1zM364 166h2v8h-2zM368 166h1v8h-1z" fill="#de7f75"/>
<path d="M91 166h1v8h-1zM219 166h1v8h-1zM231 166h1v8h-1zM250 166h2v8h-2zM263 166h1v8h-1zM267 166h1v8h-1zM282 166h1v8h-1zM287 166h3v8h-3zM300 166h1v8h-1zM308 166h2v8h-2zM324 166h4v8h-4zM337 166h1v8h-1z" fill="#de5d4d"/>
<rect x="82" y="174" width="286.6" height="9" fill="#de5d4d"/>
<path d="M82 174h1v9h-1zM99 174h1v9h-1z" fill="#de7f75"/>
<path d="M83 174h1v9h-1zM85 174h1v9h-1zM88 174h1v9h-1zM92 174h2v9h-2zM96 174h3v9h-3zM100 174h3v9h-3zM104 174h2v9h-2zM108 174h2v9h-2zM114 174h4v9h-4zM122 174h5v9h-5zM130 174h3v9h-3zM137 174h1v9h-1zM141 174h3v9h-3zM153 174h2v9h-2zM221 174h2v9h-2zM225 174h1v9h-1zM260 174h1v9h-1zM284 174h1v9h-1zM329 174h1v9h-1zM333 174h1v9h-1zM361 174h1v9h-1zM368 174h1v9h-1z" fill="#de6e61"/>
<rect x="82" y="183" width="286.6" height="8" fill="#de7f75"/>
<path d="M82 183h1v8h-1zM90 183h2v8h-2zM104 183h1v8h-1zM109 183h4v8h-4zM115 183h1v8h-1zM125 183h2v8h-2zM143 183h1v8h-1zM152 183h1v8h-1z" fill="#ddc4c6"/>
<path d="M83 183h4v8h-4zM88 183h2v8h-2zM92 183h1v8h-1zM96 183h2v8h-2zM101 183h1v8h-1zM103 183h1v8h-1zM105 183h1v8h-1zM107 183h2v8h-2zM114 183h1v8h-1zM120 183h1v8h-1zM124 183h1v8h-1zM130 183h1v8h-1zM132 183h1v8h-1zM139 183h1v8h-1zM142 183h1v8h-1zM150 183h1v8h-1zM153 183h1v8h-1zM158 183h1v8h-1zM181 183h1v8h-1zM188 183h1v8h-1zM207 183h1v8h-1zM210 183h1v8h-1zM212 183h1v8h-1zM215 183h1v8h-1zM220 183h2v8h-2zM225 183h1v8h-1zM239 183h1v8h-1zM254 183h1v8h-1zM260 183h1v8h-1zM276 183h2v8h-2zM294 183h1v8h-1zM315 183h2v8h-2zM333 183h1v8h-1zM338 183h1v8h-1zM353 183h1v8h-1zM361 183h1v8h-1z" fill="#ddb3b2"/>
<path d="M87 183h1v8h-1zM94 183h2v8h-2zM99 183h2v8h-2zM102 183h1v8h-1zM113 183h1v8h-1zM116 183h1v8h-1zM119 183h1v8h-1zM121 183h1v8h-1zM131 183h1v8h-1zM135 183h1v8h-1zM149 183h1v8h-1zM163 183h1v8h-1zM180 183h1v8h-1zM187 183h1v8h-1zM199 183h1v8h-1zM203 183h2v8h-2zM213 183h1v8h-1zM222 183h1v8h-1zM255 183h1v8h-1zM262 183h1v8h-1zM279 183h1v8h-1zM284 183h1v8h-1zM329 183h1v8h-1zM332 183h1v8h-1zM342 183h1v8h-1zM352 183h1v8h-1zM368 183h1v8h-1z" fill="#dea29e"/>
<path d="M93 183h1v8h-1zM98 183h1v8h-1zM106 183h1v8h-1zM123 183h1v8h-1zM127 183h3v8h-3zM134 183h1v8h-1zM137 183h2v8h-2zM141 183h1v8h-1zM144 183h1v8h-1zM146 183h1v8h-1zM151 183h1v8h-1zM154 183h1v8h-1zM159 183h1v8h-1zM162 183h1v8h-1zM168 183h1v8h-1zM170 183h1v8h-1zM172 183h1v8h-1zM174 183h1v8h-1zM182 183h1v8h-1zM185 183h1v8h-1zM189 183h1v8h-1zM198 183h1v8h-1zM202 183h1v8h-1zM206 183h1v8h-1zM211 183h1v8h-1zM214 183h1v8h-1zM226 183h1v8h-1zM237 183h1v8h-1zM242 183h1v8h-1zM259 183h1v8h-1zM268 183h1v8h-1zM270 183h2v8h-2zM275 183h1v8h-1zM295 183h2v8h-2zM317 183h1v8h-1zM331 183h1v8h-1zM336 183h2v8h-2zM339 183h1v8h-1zM355 183h1v8h-1zM360 183h1v8h-1zM365 183h1v8h-1z" fill="#de9089"/>
<path d="M156 183h1v8h-1zM160 183h1v8h-1zM175 183h3v8h-3zM191 183h1v8h-1zM193 183h1v8h-1zM195 183h1v8h-1zM201 183h1v8h-1zM227 183h2v8h-2zM230 183h4v8h-4zM245 183h1v8h-1zM249 183h1v8h-1zM251 183h2v8h-2zM263 183h5v8h-5zM272 183h3v8h-3zM282 183h1v8h-1zM286 183h4v8h-4zM291 183h2v8h-2zM298 183h8v8h-8zM307 183h1v8h-1zM309 183h1v8h-1zM318 183h1v8h-1zM321 183h1v8h-1zM323 183h1v8h-1zM325 183h3v8h-3zM343 183h6v8h-6zM358 183h2v8h-2zM363 183h1v8h-1zM366 183h2v8h-2z" fill="#de6e61"/>
<path d="M322 183h1v8h-1z" fill="#de5d4d"/>
<rect x="82" y="191" width="286.6" height="9" fill="#de7f75"/>
<path d="M82 191h1v9h-1zM84 191h2v9h-2zM91 191h2v9h-2zM104 191h1v9h-1zM107 191h2v9h-2zM147 191h1v9h-1zM168 191h1v9h-1zM207 191h1v9h-1zM225 191h1v9h-1zM253 191h2v9h-2zM284 191h2v9h-2z" fill="#ddc4c6"/>
<path d="M88 191h2v9h-2zM93 191h3v9h-3zM98 191h2v9h-2zM101 191h3v9h-3zM105 191h1v9h-1zM109 191h1v9h-1zM111 191h2v9h-2zM114 191h2v9h-2zM120 191h1v9h-1zM124 191h5v9h-5zM141 191h1v9h-1zM146 191h1v9h-1zM163 191h1v9h-1zM197 191h1v9h-1zM214 191h1v9h-1zM220 191h1v9h-1zM222 191h1v9h-1zM236 191h1v9h-1zM239 191h1v9h-1zM255 191h1v9h-1zM294 191h1v9h-1zM316 191h1v9h-1zM336 191h1v9h-1zM353 191h1v9h-1zM361 191h1v9h-1zM366 191h1v9h-1zM368 191h1v9h-1z" fill="#ddb3b2"/>
<path d="M83 191h1v9h-1zM86 191h1v9h-1zM97 191h1v9h-1zM106 191h1v9h-1zM113 191h1v9h-1zM118 191h2v9h-2zM122 191h2v9h-2zM130 191h3v9h-3zM134 191h2v9h-2zM142 191h3v9h-3zM153 191h1v9h-1zM169 191h1v9h-1zM176 191h1v9h-1zM181 191h1v9h-1zM192 191h2v9h-2zM204 191h1v9h-1zM208 191h1v9h-1zM212 191h1v9h-1zM221 191h1v9h-1zM224 191h1v9h-1zM226 191h1v9h-1zM248 191h1v9h-1zM260 191h1v9h-1zM296 191h1v9h-1zM317 191h1v9h-1zM329 191h1v9h-1zM350 191h1v9h-1zM354 191h1v9h-1zM364 191h1v9h-1z" fill="#dea29e"/>
<path d="M87 191h1v9h-1zM96 191h1v9h-1zM100 191h1v9h-1zM110 191h1v9h-1zM116 191h2v9h-2zM121 191h1v9h-1zM129 191h1v9h-1zM136 191h1v9h-1zM139 191h2v9h-2zM148 191h1v9h-1zM157 191h2v9h-2zM161 191h2v9h-2zM180 191h1v9h-1zM184 191h1v9h-1zM188 191h1v9h-1zM198 191h2v9h-2zM202 191h1v9h-1zM206 191h1v9h-1zM213 191h1v9h-1zM218 191h1v9h-1zM223 191h1v9h-1zM227 191h1v9h-1zM235 191h1v9h-1zM237 191h2v9h-2zM240 191h1v9h-1zM244 191h1v9h-1zM247 191h1v9h-1zM258 191h1v9h-1zM276 191h2v9h-2zM295 191h1v9h-1zM297 191h1v9h-1zM313 191h1v9h-1zM330 191h2v9h-2zM333 191h1v9h-1zM335 191h1v9h-1zM341 191h2v9h-2zM352 191h1v9h-1zM355 191h1v9h-1zM357 191h1v9h-1zM360 191h1v9h-1zM365 191h1v9h-1zM367 191h1v9h-1z" fill="#de9089"/>
<path d="M149 191h3v9h-3zM156 191h1v9h-1zM171 191h1v9h-1zM173 191h2v9h-2zM182 191h2v9h-2zM191 191h1v9h-1zM209 191h2v9h-2zM216 191h1v9h-1zM229 191h6v9h-6zM243 191h1v9h-1zM245 191h2v9h-2zM250 191h2v9h-2zM263 191h4v9h-4zM268 191h2v9h-2zM272 191h1v9h-1zM274 191h1v9h-1zM279 191h1v9h-1zM282 191h1v9h-1zM287 191h6v9h-6zM298 191h2v9h-2zM302 191h1v9h-1zM304 191h4v9h-4zM311 191h1v9h-1zM324 191h1v9h-1zM326 191h3v9h-3zM344 191h2v9h-2zM349 191h1v9h-1zM359 191h1v9h-1zM362 191h1v9h-1z" fill="#de6e61"/>
<path d="M300 191h2v9h-2z" fill="#de5d4d"/>
<rect x="82" y="200" width="286.6" height="8" fill="#de6e61"/>
<path d="M89 200h1v8h-1zM99 200h1v8h-1zM105 200h2v8h-2z" fill="#ddb3b2"/>
<path d="M82 200h1v8h-1zM85 200h1v8h-1zM91 200h1v8h-1z" fill="#dea29e"/>
<path d="M94 200h1v8h-1zM96 200h2v8h-2zM104 200h1v8h-1zM107 200h1v8h-1zM114 200h1v8h-1zM119 200h1v8h-1zM124 200h2v8h-2zM128 200h1v8h-1zM315 200h2v8h-2zM361 200h1v8h-1z" fill="#de9089"/>
<path d="M84 200h1v8h-1zM86 200h1v8h-1zM88 200h1v8h-1zM90 200h1v8h-1zM92 200h2v8h-2zM95 200h1v8h-1zM98 200h1v8h-1zM100 200h2v8h-2zM110 200h2v8h-2zM115 200h1v8h-1zM126 200h2v8h-2zM129 200h2v8h-2zM141 200h1v8h-1zM144 200h1v8h-1zM146 200h1v8h-1zM152 200h2v8h-2zM158 200h1v8h-1zM181 200h1v8h-1zM210 200h1v8h-1zM212 200h2v8h-2zM224 200h2v8h-2zM235 200h1v8h-1zM239 200h1v8h-1zM254 200h2v8h-2zM260 200h1v8h-1zM284 200h1v8h-1zM329 200h1v8h-1zM338 200h1v8h-1zM352 200h1v8h-1zM354 200h1v8h-1zM368 200h1v8h-1z" fill="#de7f75"/>
<path d="M136 200h1v8h-1zM150 200h1v8h-1zM156 200h1v8h-1zM166 200h2v8h-2zM170 200h2v8h-2zM191 200h1v8h-1zM193 200h4v8h-4zM201 200h1v8h-1zM204 200h2v8h-2zM209 200h1v8h-1zM219 200h1v8h-1zM228 200h4v8h-4zM243 200h1v8h-1zM245 200h1v8h-1zM249 200h4v8h-4zM262 200h6v8h-6zM272 200h3v8h-3zM278 200h2v8h-2zM286 200h1v8h-1zM289 200h4v8h-4zM298 200h3v8h-3zM304 200h5v8h-5zM311 200h3v8h-3zM318 200h2v8h-2zM321 200h2v8h-2zM326 200h2v8h-2zM331 200h1v8h-1zM340 200h1v8h-1zM349 200h2v8h-2zM359 200h1v8h-1zM366 200h1v8h-1z" fill="#de5d4d"/>
<rect x="82" y="208" width="286.6" height="8" fill="#de7f75"/>
<path d="M82 208h1v8h-1zM109 208h3v8h-3zM114 208h1v8h-1zM124 208h2v8h-2zM127 208h1v8h-1zM129 208h1v8h-1zM254 208h1v8h-1zM353 208h1v8h-1z" fill="#ddc4c6"/>
<path d="M85 208h1v8h-1zM88 208h2v8h-2zM101 208h1v8h-1zM104 208h4v8h-4zM115 208h1v8h-1zM118 208h1v8h-1zM120 208h1v8h-1zM126 208h1v8h-1zM130 208h1v8h-1zM141 208h1v8h-1zM153 208h1v8h-1zM220 208h2v8h-2zM225 208h1v8h-1zM239 208h1v8h-1zM284 208h2v8h-2zM296 208h1v8h-1zM329 208h1v8h-1zM336 208h1v8h-1zM352 208h1v8h-1zM361 208h1v8h-1z" fill="#ddb3b2"/>
<path d="M83 208h1v8h-1zM87 208h1v8h-1zM92 208h1v8h-1zM94 208h1v8h-1zM96 208h1v8h-1zM99 208h1v8h-1zM102 208h2v8h-2zM108 208h1v8h-1zM116 208h1v8h-1zM119 208h1v8h-1zM128 208h1v8h-1zM132 208h1v8h-1zM143 208h1v8h-1zM148 208h1v8h-1zM158 208h1v8h-1zM163 208h1v8h-1zM172 208h1v8h-1zM181 208h1v8h-1zM206 208h1v8h-1zM212 208h1v8h-1zM222 208h1v8h-1zM224 208h1v8h-1zM232 208h1v8h-1zM236 208h1v8h-1zM242 208h1v8h-1zM255 208h1v8h-1zM258 208h1v8h-1zM260 208h1v8h-1zM316 208h1v8h-1zM333 208h1v8h-1zM341 208h1v8h-1z" fill="#dea29e"/>
<path d="M84 208h1v8h-1zM86 208h1v8h-1zM90 208h2v8h-2zM93 208h1v8h-1zM95 208h1v8h-1zM98 208h1v8h-1zM100 208h1v8h-1zM112 208h2v8h-2zM117 208h1v8h-1zM123 208h1v8h-1zM131 208h1v8h-1zM138 208h2v8h-2zM142 208h1v8h-1zM144 208h1v8h-1zM147 208h1v8h-1zM149 208h1v8h-1zM154 208h1v8h-1zM159 208h1v8h-1zM162 208h1v8h-1zM166 208h1v8h-1zM176 208h1v8h-1zM180 208h1v8h-1zM182 208h1v8h-1zM188 208h1v8h-1zM197 208h3v8h-3zM202 208h1v8h-1zM207 208h2v8h-2zM210 208h1v8h-1zM213 208h2v8h-2zM217 208h1v8h-1zM244 208h1v8h-1zM247 208h2v8h-2zM257 208h1v8h-1zM259 208h1v8h-1zM263 208h1v8h-1zM275 208h2v8h-2zM289 208h1v8h-1zM303 208h1v8h-1zM330 208h1v8h-1zM342 208h1v8h-1zM344 208h1v8h-1zM354 208h2v8h-2zM368 208h1v8h-1z" fill="#de9089"/>
<path d="M122 208h1v8h-1zM145 208h1v8h-1zM156 208h1v8h-1zM174 208h2v8h-2zM183 208h1v8h-1zM187 208h1v8h-1zM190 208h3v8h-3zM194 208h1v8h-1zM200 208h2v8h-2zM203 208h1v8h-1zM230 208h2v8h-2zM234 208h2v8h-2zM245 208h1v8h-1zM250 208h3v8h-3zM261 208h1v8h-1zM264 208h2v8h-2zM267 208h3v8h-3zM271 208h4v8h-4zM278 208h3v8h-3zM290 208h2v8h-2zM298 208h5v8h-5zM304 208h2v8h-2zM308 208h2v8h-2zM311 208h4v8h-4zM318 208h1v8h-1zM320 208h2v8h-2zM323 208h2v8h-2zM326 208h2v8h-2zM339 208h2v8h-2zM345 208h5v8h-5zM351 208h1v8h-1zM359 208h1v8h-1zM366 208h1v8h-1z" fill="#de6e61"/>
<rect x="82" y="216" width="286.6" height="9" fill="#de5d4d"/>
<path d="M82 216h1v9h-1zM124 216h1v9h-1z" fill="#de9089"/>
<path d="M99 216h1v9h-1zM105 216h1v9h-1zM125 216h1v9h-1zM361 216h1v9h-1z" fill="#de7f75"/>
<path d="M83 216h1v9h-1zM85 216h10v9h-10zM98 216h1v9h-1zM100 216h5v9h-5zM106 216h10v9h-10zM117 216h1v9h-1zM119 216h5v9h-5zM126 216h3v9h-3zM130 216h3v9h-3zM135 216h2v9h-2zM141 216h1v9h-1zM147 216h2v9h-2zM157 216h4v9h-4zM163 216h1v9h-1zM167 216h2v9h-2zM181 216h2v9h-2zM188 216h1v9h-1zM210 216h1v9h-1zM212 216h1v9h-1zM220 216h3v9h-3zM225 216h2v9h-2zM236 216h2v9h-2zM239 216h1v9h-1zM242 216h1v9h-1zM247 216h1v9h-1zM253 216h3v9h-3zM260 216h3v9h-3zM275 216h1v9h-1zM277 216h1v9h-1zM284 216h2v9h-2zM294 216h3v9h-3zM316 216h1v9h-1zM318 216h1v9h-1zM328 216h5v9h-5zM336 216h1v9h-1zM340 216h3v9h-3zM353 216h1v9h-1zM366 216h1v9h-1zM368 216h1v9h-1z" fill="#de6e61"/>
<rect x="82" y="225" width="286.6" height="8" fill="#de7f75"/>
<path d="M82 225h2v8h-2zM87 225h1v8h-1zM99 225h2v8h-2zM104 225h4v8h-4zM114 225h1v8h-1zM125 225h1v8h-1zM225 225h1v8h-1z" fill="#ddc4c6"/>
<path d="M85 225h1v8h-1zM88 225h1v8h-1zM91 225h1v8h-1zM95 225h1v8h-1zM98 225h1v8h-1zM101 225h1v8h-1zM108 225h1v8h-1zM113 225h1v8h-1zM120 225h1v8h-1zM124 225h1v8h-1zM130 225h1v8h-1zM132 225h1v8h-1zM153 225h1v8h-1zM159 225h1v8h-1zM181 225h1v8h-1zM214 225h1v8h-1zM239 225h1v8h-1zM260 225h1v8h-1zM284 225h2v8h-2zM333 225h1v8h-1zM361 225h1v8h-1z" fill="#ddb3b2"/>
<path d="M86 225h1v8h-1zM89 225h1v8h-1zM96 225h2v8h-2zM109 225h2v8h-2zM115 225h2v8h-2zM126 225h1v8h-1zM128 225h1v8h-1zM131 225h1v8h-1zM137 225h1v8h-1zM139 225h1v8h-1zM144 225h1v8h-1zM182 225h1v8h-1zM185 225h1v8h-1zM210 225h1v8h-1zM212 225h1v8h-1zM224 225h1v8h-1zM244 225h1v8h-1zM255 225h1v8h-1zM262 225h1v8h-1zM316 225h1v8h-1zM329 225h1v8h-1z" fill="#dea29e"/>
<path d="M84 225h1v8h-1zM90 225h1v8h-1zM92 225h3v8h-3zM102 225h1v8h-1zM111 225h2v8h-2zM119 225h1v8h-1zM121 225h1v8h-1zM123 225h1v8h-1zM127 225h1v8h-1zM129 225h1v8h-1zM133 225h2v8h-2zM138 225h1v8h-1zM141 225h3v8h-3zM145 225h2v8h-2zM148 225h2v8h-2zM152 225h1v8h-1zM155 225h1v8h-1zM158 225h1v8h-1zM160 225h1v8h-1zM166 225h1v8h-1zM176 225h1v8h-1zM178 225h1v8h-1zM180 225h1v8h-1zM184 225h1v8h-1zM197 225h1v8h-1zM199 225h1v8h-1zM202 225h3v8h-3zM207 225h1v8h-1zM213 225h1v8h-1zM215 225h1v8h-1zM217 225h1v8h-1zM221 225h2v8h-2zM226 225h1v8h-1zM236 225h2v8h-2zM254 225h1v8h-1zM261 225h1v8h-1zM270 225h1v8h-1zM277 225h1v8h-1zM281 225h1v8h-1zM294 225h1v8h-1zM296 225h1v8h-1zM301 225h1v8h-1zM315 225h1v8h-1zM332 225h1v8h-1zM340 225h2v8h-2zM358 225h1v8h-1zM362 225h4v8h-4zM368 225h1v8h-1z" fill="#de9089"/>
<path d="M122 225h1v8h-1zM135 225h1v8h-1zM150 225h2v8h-2zM169 225h5v8h-5zM175 225h1v8h-1zM183 225h1v8h-1zM191 225h1v8h-1zM194 225h3v8h-3zM201 225h1v8h-1zM208 225h2v8h-2zM216 225h1v8h-1zM219 225h1v8h-1zM227 225h2v8h-2zM230 225h1v8h-1zM232 225h3v8h-3zM242 225h2v8h-2zM246 225h1v8h-1zM250 225h3v8h-3zM258 225h1v8h-1zM264 225h6v8h-6zM272 225h3v8h-3zM280 225h1v8h-1zM288 225h3v8h-3zM298 225h3v8h-3zM304 225h3v8h-3zM308 225h4v8h-4zM314 225h1v8h-1zM319 225h6v8h-6zM326 225h1v8h-1zM328 225h1v8h-1zM331 225h1v8h-1zM335 225h1v8h-1zM338 225h1v8h-1zM343 225h1v8h-1zM345 225h2v8h-2zM348 225h2v8h-2zM351 225h1v8h-1zM354 225h1v8h-1zM359 225h1v8h-1zM366 225h2v8h-2z" fill="#de6e61"/>
<path d="M231 225h1v8h-1zM307 225h1v8h-1zM327 225h1v8h-1z" fill="#de5d4d"/>
<rect x="82" y="233" width="286.6" height="9" fill="#de7f75"/>
<path d="M112 233h1v9h-1zM114 233h1v9h-1zM129 233h1v9h-1z" fill="#ddd5da"/>
<path d="M82 233h5v9h-5zM93 233h1v9h-1zM95 233h1v9h-1zM97 233h2v9h-2zM101 233h1v9h-1zM105 233h2v9h-2zM111 233h1v9h-1zM113 233h1v9h-1zM115 233h2v9h-2zM124 233h2v9h-2zM128 233h1v9h-1zM130 233h1v9h-1zM141 233h1v9h-1zM143 233h1v9h-1zM335 233h1v9h-1z" fill="#ddc4c6"/>
<path d="M87 233h4v9h-4zM94 233h1v9h-1zM96 233h1v9h-1zM99 233h1v9h-1zM102 233h1v9h-1zM107 233h1v9h-1zM109 233h1v9h-1zM117 233h2v9h-2zM120 233h1v9h-1zM122 233h1v9h-1zM126 233h2v9h-2zM132 233h1v9h-1zM134 233h1v9h-1zM142 233h1v9h-1zM144 233h1v9h-1zM147 233h1v9h-1zM149 233h1v9h-1zM153 233h1v9h-1zM158 233h1v9h-1zM163 233h1v9h-1zM181 233h1v9h-1zM198 233h2v9h-2zM212 233h1v9h-1zM214 233h1v9h-1zM220 233h1v9h-1zM222 233h1v9h-1zM225 233h2v9h-2zM239 233h1v9h-1zM254 233h2v9h-2zM259 233h2v9h-2zM275 233h1v9h-1zM279 233h1v9h-1zM284 233h2v9h-2zM296 233h1v9h-1zM316 233h1v9h-1zM329 233h1v9h-1zM336 233h1v9h-1zM338 233h1v9h-1zM361 233h1v9h-1z" fill="#ddb3b2"/>
<path d="M92 233h1v9h-1zM104 233h1v9h-1zM108 233h1v9h-1zM110 233h1v9h-1zM119 233h1v9h-1zM121 233h1v9h-1zM131 233h1v9h-1zM133 233h1v9h-1zM136 233h1v9h-1zM138 233h3v9h-3zM146 233h1v9h-1zM150 233h1v9h-1zM152 233h1v9h-1zM154 233h1v9h-1zM159 233h1v9h-1zM161 233h1v9h-1zM175 233h2v9h-2zM178 233h1v9h-1zM180 233h1v9h-1zM184 233h2v9h-2zM192 233h1v9h-1zM197 233h1v9h-1zM202 233h1v9h-1zM210 233h1v9h-1zM213 233h1v9h-1zM221 233h1v9h-1zM236 233h1v9h-1zM253 233h1v9h-1zM257 233h1v9h-1zM270 233h1v9h-1zM277 233h1v9h-1zM301 233h1v9h-1zM331 233h1v9h-1zM333 233h2v9h-2zM340 233h1v9h-1zM342 233h1v9h-1zM352 233h1v9h-1zM360 233h1v9h-1zM363 233h1v9h-1zM368 233h1v9h-1z" fill="#dea29e"/>
<path d="M100 233h1v9h-1zM103 233h1v9h-1zM123 233h1v9h-1zM135 233h1v9h-1zM137 233h1v9h-1zM148 233h1v9h-1zM155 233h3v9h-3zM160 233h1v9h-1zM162 233h1v9h-1zM164 233h4v9h-4zM169 233h1v9h-1zM172 233h1v9h-1zM174 233h1v9h-1zM177 233h1v9h-1zM182 233h2v9h-2zM191 233h1v9h-1zM207 233h2v9h-2zM211 233h1v9h-1zM215 233h1v9h-1zM217 233h1v9h-1zM224 233h1v9h-1zM232 233h2v9h-2zM237 233h1v9h-1zM240 233h1v9h-1zM244 233h1v9h-1zM248 233h1v9h-1zM258 233h1v9h-1zM261 233h1v9h-1zM278 233h1v9h-1zM286 233h1v9h-1zM295 233h1v9h-1zM297 233h1v9h-1zM310 233h2v9h-2zM315 233h1v9h-1zM330 233h1v9h-1zM332 233h1v9h-1zM337 233h1v9h-1zM339 233h1v9h-1zM341 233h1v9h-1zM344 233h1v9h-1zM353 233h3v9h-3zM357 233h1v9h-1zM359 233h1v9h-1zM364 233h2v9h-2z" fill="#de9089"/>
<path d="M194 233h3v9h-3zM201 233h1v9h-1zM205 233h1v9h-1zM229 233h3v9h-3zM245 233h2v9h-2zM249 233h3v9h-3zM262 233h3v9h-3zM266 233h4v9h-4zM271 233h1v9h-1zM299 233h2v9h-2zM308 233h2v9h-2zM312 233h1v9h-1zM321 233h2v9h-2zM324 233h4v9h-4zM345 233h2v9h-2zM348 233h2v9h-2z" fill="#de6e61"/>
<rect x="82" y="242" width="286.6" height="8" fill="#ddd5da"/>
<path d="M88 242h3v8h-3zM106 242h1v8h-1zM144 242h1v8h-1zM150 242h1v8h-1zM194 242h1v8h-1zM197 242h2v8h-2zM239 242h2v8h-2zM287 242h1v8h-1zM289 242h1v8h-1zM335 242h2v8h-2zM338 242h1v8h-1zM347 242h1v8h-1zM351 242h1v8h-1z" fill="#dde6ee"/>
<path d="M82 242h3v8h-3zM93 242h1v8h-1zM97 242h1v8h-1zM100 242h1v8h-1zM104 242h1v8h-1zM107 242h1v8h-1zM109 242h1v8h-1zM115 242h1v8h-1zM124 242h2v8h-2zM130 242h1v8h-1zM146 242h3v8h-3zM156 242h1v8h-1zM161 242h1v8h-1zM169 242h4v8h-4zM175 242h1v8h-1zM177 242h1v8h-1zM179 242h2v8h-2zM182 242h1v8h-1zM189 242h1v8h-1zM191 242h1v8h-1zM199 242h1v8h-1zM204 242h2v8h-2zM207 242h2v8h-2zM210 242h4v8h-4zM217 242h1v8h-1zM219 242h1v8h-1zM221 242h1v8h-1zM223 242h1v8h-1zM238 242h1v8h-1zM242 242h1v8h-1zM244 242h1v8h-1zM247 242h1v8h-1zM249 242h1v8h-1zM255 242h2v8h-2zM262 242h2v8h-2zM270 242h1v8h-1zM279 242h1v8h-1zM281 242h1v8h-1zM284 242h1v8h-1zM286 242h1v8h-1zM291 242h1v8h-1zM294 242h1v8h-1zM297 242h1v8h-1zM301 242h1v8h-1zM308 242h2v8h-2zM318 242h3v8h-3zM324 242h1v8h-1zM326 242h1v8h-1zM340 242h2v8h-2zM356 242h1v8h-1zM359 242h1v8h-1z" fill="#ddc4c6"/>
<path d="M92 242h1v8h-1zM102 242h1v8h-1zM112 242h3v8h-3zM129 242h1v8h-1zM133 242h1v8h-1zM141 242h1v8h-1zM143 242h1v8h-1zM158 242h1v8h-1zM163 242h1v8h-1zM192 242h1v8h-1zM200 242h1v8h-1zM218 242h1v8h-1zM236 242h1v8h-1zM267 242h1v8h-1zM280 242h1v8h-1zM283 242h1v8h-1zM296 242h1v8h-1zM330 242h2v8h-2zM345 242h1v8h-1zM349 242h1v8h-1zM355 242h1v8h-1z" fill="#ddb3b2"/>
<path d="M96 242h1v8h-1zM111 242h1v8h-1zM116 242h1v8h-1zM134 242h1v8h-1zM178 242h1v8h-1zM246 242h1v8h-1zM276 242h1v8h-1zM285 242h1v8h-1zM317 242h1v8h-1zM323 242h1v8h-1z" fill="#dea29e"/>
<path d="M94 242h1v8h-1zM98 242h1v8h-1zM154 242h2v8h-2zM157 242h1v8h-1zM206 242h1v8h-1zM220 242h1v8h-1zM224 242h1v8h-1zM266 242h1v8h-1z" fill="#de9089"/>
<path d="M108 242h1v8h-1zM173 242h1v8h-1zM245 242h1v8h-1z" fill="#de7f75"/>
<path d="M95 242h1v8h-1zM237 242h1v8h-1z" fill="#de6e61"/>
<path d="M99 242h1v8h-1zM142 242h1v8h-1zM162 242h1v8h-1zM174 242h1v8h-1z" fill="#de5d4d"/>
<rect x="82" y="250" width="286.6" height="9" fill="#ddd5da"/>
<path d="M82 250h1v9h-1zM88 250h3v9h-3zM104 250h1v9h-1zM137 250h2v9h-2zM145 250h1v9h-1zM149 250h2v9h-2zM165 250h2v9h-2zM180 250h1v9h-1zM186 250h3v9h-3zM194 250h2v9h-2zM197 250h1v9h-1zM202 250h1v9h-1zM231 250h5v9h-5zM254 250h4v9h-4zM266 250h3v9h-3zM278 250h1v9h-1zM288 250h2v9h-2zM310 250h2v9h-2zM313 250h3v9h-3zM333 250h1v9h-1zM338 250h1v9h-1zM347 250h1v9h-1zM351 250h2v9h-2zM368 250h1v9h-1z" fill="#dde6ee"/>
<path d="M83 250h1v9h-1zM92 250h1v9h-1zM94 250h1v9h-1zM97 250h1v9h-1zM100 250h1v9h-1zM102 250h1v9h-1zM106 250h2v9h-2zM109 250h1v9h-1zM113 250h1v9h-1zM115 250h1v9h-1zM124 250h2v9h-2zM130 250h1v9h-1zM133 250h3v9h-3zM152 250h1v9h-1zM158 250h1v9h-1zM161 250h1v9h-1zM163 250h1v9h-1zM169 250h1v9h-1zM172 250h1v9h-1zM178 250h1v9h-1zM182 250h1v9h-1zM205 250h1v9h-1zM207 250h1v9h-1zM211 250h1v9h-1zM213 250h1v9h-1zM217 250h3v9h-3zM221 250h1v9h-1zM223 250h1v9h-1zM225 250h1v9h-1zM227 250h1v9h-1zM238 250h1v9h-1zM241 250h2v9h-2zM244 250h1v9h-1zM272 250h2v9h-2zM281 250h1v9h-1zM284 250h1v9h-1zM294 250h1v9h-1zM296 250h1v9h-1zM298 250h2v9h-2zM301 250h1v9h-1zM305 250h1v9h-1zM319 250h1v9h-1zM323 250h2v9h-2zM326 250h1v9h-1zM328 250h1v9h-1zM340 250h2v9h-2zM344 250h1v9h-1zM349 250h1v9h-1zM355 250h1v9h-1zM361 250h1v9h-1z" fill="#ddc4c6"/>
<path d="M84 250h1v9h-1zM96 250h1v9h-1zM114 250h1v9h-1zM116 250h1v9h-1zM128 250h2v9h-2zM141 250h1v9h-1zM143 250h1v9h-1zM168 250h1v9h-1zM170 250h2v9h-2zM175 250h1v9h-1zM199 250h1v9h-1zM216 250h1v9h-1zM246 250h1v9h-1zM249 250h2v9h-2zM263 250h1v9h-1zM283 250h1v9h-1zM285 250h2v9h-2zM317 250h1v9h-1zM320 250h1v9h-1zM345 250h1v9h-1z" fill="#ddb3b2"/>
<path d="M95 250h1v9h-1zM98 250h1v9h-1zM112 250h1v9h-1zM157 250h1v9h-1zM331 250h1v9h-1z" fill="#dea29e"/>
<path d="M108 250h1v9h-1zM111 250h1v9h-1zM173 250h1v9h-1zM206 250h1v9h-1zM220 250h1v9h-1zM224 250h1v9h-1zM237 250h1v9h-1zM245 250h1v9h-1z" fill="#de9089"/>
<path d="M174 250h1v9h-1z" fill="#de7f75"/>
<path d="M99 250h1v9h-1zM162 250h1v9h-1z" fill="#de6e61"/>
<path d="M142 250h1v9h-1z" fill="#de5d4d"/>
<rect x="82" y="259" width="286.6" height="8" fill="#ddd5da"/>
<path d="M89 259h2v8h-2zM106 259h1v8h-1zM135 259h2v8h-2zM149 259h2v8h-2zM164 259h2v8h-2zM180 259h1v8h-1zM187 259h2v8h-2zM195 259h2v8h-2zM222 259h1v8h-1zM232 259h1v8h-1zM239 259h2v8h-2zM255 259h2v8h-2zM260 259h2v8h-2zM265 259h1v8h-1zM275 259h1v8h-1zM287 259h3v8h-3zM306 259h1v8h-1zM321 259h1v8h-1zM329 259h1v8h-1zM335 259h3v8h-3z" fill="#dde6ee"/>
<path d="M83 259h4v8h-4zM92 259h2v8h-2zM100 259h1v8h-1zM103 259h1v8h-1zM109 259h1v8h-1zM112 259h2v8h-2zM116 259h1v8h-1zM121 259h2v8h-2zM124 259h2v8h-2zM130 259h1v8h-1zM132 259h2v8h-2zM158 259h1v8h-1zM161 259h1v8h-1zM163 259h1v8h-1zM171 259h2v8h-2zM175 259h1v8h-1zM177 259h2v8h-2zM185 259h1v8h-1zM199 259h1v8h-1zM207 259h1v8h-1zM211 259h1v8h-1zM213 259h1v8h-1zM218 259h2v8h-2zM223 259h1v8h-1zM225 259h1v8h-1zM229 259h1v8h-1zM233 259h1v8h-1zM235 259h2v8h-2zM250 259h1v8h-1zM263 259h1v8h-1zM278 259h1v8h-1zM282 259h1v8h-1zM284 259h1v8h-1zM291 259h2v8h-2zM294 259h1v8h-1zM296 259h1v8h-1zM300 259h2v8h-2zM309 259h1v8h-1zM312 259h1v8h-1zM316 259h1v8h-1zM318 259h1v8h-1zM323 259h2v8h-2zM326 259h1v8h-1zM331 259h1v8h-1zM339 259h1v8h-1zM341 259h1v8h-1zM349 259h2v8h-2zM355 259h1v8h-1zM368 259h1v8h-1z" fill="#ddc4c6"/>
<path d="M87 259h1v8h-1zM98 259h1v8h-1zM102 259h1v8h-1zM111 259h1v8h-1zM114 259h1v8h-1zM141 259h1v8h-1zM143 259h1v8h-1zM147 259h1v8h-1zM170 259h1v8h-1zM182 259h1v8h-1zM246 259h1v8h-1zM249 259h1v8h-1zM281 259h1v8h-1zM317 259h1v8h-1zM319 259h1v8h-1zM340 259h1v8h-1zM345 259h1v8h-1z" fill="#ddb3b2"/>
<path d="M94 259h1v8h-1zM97 259h1v8h-1zM108 259h1v8h-1zM115 259h1v8h-1zM131 259h1v8h-1zM157 259h1v8h-1zM230 259h1v8h-1zM283 259h1v8h-1z" fill="#dea29e"/>
<path d="M95 259h1v8h-1zM173 259h2v8h-2zM206 259h1v8h-1zM220 259h1v8h-1zM237 259h1v8h-1zM245 259h1v8h-1zM285 259h1v8h-1zM308 259h1v8h-1z" fill="#de9089"/>
<path d="M224 259h1v8h-1z" fill="#de7f75"/>
<path d="M162 259h1v8h-1zM234 259h1v8h-1z" fill="#de6e61"/>
<path d="M96 259h1v8h-1zM99 259h1v8h-1zM142 259h1v8h-1z" fill="#de5d4d"/>
<rect x="82" y="267" width="286.6" height="9" fill="#ddd5da"/>
<path d="M104 267h2v9h-2zM149 267h2v9h-2zM199 267h1v9h-1zM201 267h1v9h-1zM257 267h2v9h-2zM266 267h2v9h-2zM274 267h1v9h-1zM287 267h1v9h-1zM304 267h1v9h-1zM306 267h2v9h-2zM314 267h1v9h-1zM333 267h2v9h-2zM336 267h3v9h-3z" fill="#dde6ee"/>
<path d="M83 267h1v9h-1zM97 267h1v9h-1zM100 267h1v9h-1zM107 267h1v9h-1zM115 267h2v9h-2zM121 267h2v9h-2zM124 267h1v9h-1zM126 267h1v9h-1zM128 267h1v9h-1zM132 267h1v9h-1zM134 267h1v9h-1zM137 267h1v9h-1zM140 267h1v9h-1zM154 267h1v9h-1zM161 267h1v9h-1zM166 267h4v9h-4zM175 267h1v9h-1zM179 267h2v9h-2zM182 267h1v9h-1zM190 267h1v9h-1zM194 267h1v9h-1zM205 267h1v9h-1zM207 267h1v9h-1zM210 267h2v9h-2zM213 267h1v9h-1zM217 267h1v9h-1zM219 267h1v9h-1zM221 267h1v9h-1zM225 267h1v9h-1zM231 267h1v9h-1zM233 267h2v9h-2zM236 267h1v9h-1zM242 267h1v9h-1zM244 267h1v9h-1zM249 267h1v9h-1zM270 267h2v9h-2zM276 267h1v9h-1zM280 267h1v9h-1zM290 267h4v9h-4zM296 267h3v9h-3zM301 267h1v9h-1zM312 267h1v9h-1zM318 267h1v9h-1zM320 267h1v9h-1zM323 267h2v9h-2zM326 267h1v9h-1zM331 267h1v9h-1zM340 267h2v9h-2zM349 267h2v9h-2zM355 267h1v9h-1zM366 267h1v9h-1z" fill="#ddc4c6"/>
<path d="M92 267h3v9h-3zM96 267h1v9h-1zM98 267h1v9h-1zM102 267h1v9h-1zM112 267h3v9h-3zM120 267h1v9h-1zM125 267h1v9h-1zM133 267h1v9h-1zM147 267h1v9h-1zM158 267h1v9h-1zM163 267h1v9h-1zM177 267h2v9h-2zM192 267h1v9h-1zM204 267h1v9h-1zM218 267h1v9h-1zM223 267h1v9h-1zM238 267h1v9h-1zM281 267h4v9h-4zM294 267h1v9h-1zM319 267h1v9h-1zM345 267h1v9h-1z" fill="#ddb3b2"/>
<path d="M84 267h1v9h-1zM95 267h1v9h-1zM109 267h1v9h-1zM111 267h1v9h-1zM127 267h1v9h-1zM141 267h1v9h-1zM157 267h1v9h-1zM164 267h1v9h-1zM170 267h1v9h-1zM172 267h1v9h-1zM246 267h1v9h-1zM263 267h1v9h-1zM285 267h1v9h-1zM317 267h1v9h-1z" fill="#dea29e"/>
<path d="M143 267h1v9h-1zM220 267h1v9h-1zM224 267h1v9h-1z" fill="#de9089"/>
<path d="M108 267h1v9h-1zM174 267h1v9h-1zM191 267h1v9h-1zM193 267h1v9h-1zM206 267h1v9h-1zM232 267h1v9h-1zM237 267h1v9h-1zM245 267h1v9h-1z" fill="#de7f75"/>
<path d="M165 267h1v9h-1zM171 267h1v9h-1zM173 267h1v9h-1z" fill="#de6e61"/>
<path d="M99 267h1v9h-1zM142 267h1v9h-1zM162 267h1v9h-1z" fill="#de5d4d"/>
<rect x="82" y="276" width="286.6" height="8" fill="#dde6ee"/>
<path d="M82 276h3v8h-3zM89 276h1v8h-1zM91 276h2v8h-2zM95 276h4v8h-4zM102 276h1v8h-1zM104 276h1v8h-1zM108 276h5v8h-5zM114 276h1v8h-1zM116 276h1v8h-1zM118 276h1v8h-1zM125 276h1v8h-1zM130 276h1v8h-1zM139 276h1v8h-1zM141 276h1v8h-1zM143 276h1v8h-1zM145 276h1v8h-1zM147 276h1v8h-1zM149 276h1v8h-1zM157 276h2v8h-2zM161 276h1v8h-1zM163 276h1v8h-1zM167 276h5v8h-5zM173 276h2v8h-2zM178 276h1v8h-1zM185 276h1v8h-1zM192 276h1v8h-1zM206 276h1v8h-1zM213 276h1v8h-1zM218 276h1v8h-1zM220 276h1v8h-1zM224 276h1v8h-1zM227 276h1v8h-1zM237 276h1v8h-1zM245 276h2v8h-2zM249 276h2v8h-2zM263 276h1v8h-1zM281 276h1v8h-1zM283 276h1v8h-1zM285 276h1v8h-1zM294 276h1v8h-1zM296 276h1v8h-1zM300 276h2v8h-2zM317 276h1v8h-1zM323 276h2v8h-2zM331 276h1v8h-1zM340 276h2v8h-2zM345 276h1v8h-1zM358 276h1v8h-1z" fill="#ddd5da"/>
<path d="M99 276h1v8h-1zM146 276h1v8h-1zM162 276h1v8h-1z" fill="#ddc4c6"/>
<path d="M142 276h1v8h-1z" fill="#ddb3b2"/>
<rect x="82" y="284" width="286.6" height="9" fill="#dde6ee"/>
<path d="M83 284h2v9h-2zM88 284h3v9h-3zM92 284h1v9h-1zM95 284h4v9h-4zM102 284h1v9h-1zM108 284h1v9h-1zM111 284h5v9h-5zM125 284h2v9h-2zM133 284h1v9h-1zM141 284h1v9h-1zM143 284h1v9h-1zM157 284h1v9h-1zM163 284h1v9h-1zM170 284h1v9h-1zM173 284h2v9h-2zM177 284h1v9h-1zM203 284h1v9h-1zM205 284h2v9h-2zM210 284h1v9h-1zM213 284h1v9h-1zM217 284h2v9h-2zM220 284h1v9h-1zM224 284h1v9h-1zM229 284h1v9h-1zM232 284h1v9h-1zM237 284h1v9h-1zM245 284h2v9h-2zM249 284h1v9h-1zM263 284h1v9h-1zM270 284h1v9h-1zM273 284h2v9h-2zM281 284h1v9h-1zM283 284h1v9h-1zM285 284h1v9h-1zM296 284h1v9h-1zM304 284h1v9h-1zM317 284h1v9h-1zM319 284h2v9h-2zM331 284h1v9h-1zM340 284h1v9h-1zM345 284h1v9h-1zM349 284h1v9h-1zM359 284h1v9h-1z" fill="#ddd5da"/>
<path d="M99 284h1v9h-1zM162 284h1v9h-1zM204 284h1v9h-1z" fill="#ddc4c6"/>
<path d="M142 284h1v9h-1z" fill="#ddb3b2"/>
<rect x="82" y="293" width="286.6" height="8" fill="#dde6ee"/>
<path d="M83 293h2v8h-2zM86 293h2v8h-2zM92 293h1v8h-1zM94 293h5v8h-5zM101 293h3v8h-3zM106 293h2v8h-2zM109 293h2v8h-2zM112 293h5v8h-5zM124 293h5v8h-5zM130 293h4v8h-4zM135 293h1v8h-1zM138 293h1v8h-1zM140 293h2v8h-2zM143 293h2v8h-2zM149 293h1v8h-1zM154 293h1v8h-1zM157 293h2v8h-2zM161 293h1v8h-1zM163 293h1v8h-1zM168 293h2v8h-2zM171 293h2v8h-2zM175 293h1v8h-1zM178 293h1v8h-1zM182 293h1v8h-1zM185 293h1v8h-1zM192 293h2v8h-2zM195 293h1v8h-1zM198 293h2v8h-2zM205 293h1v8h-1zM207 293h1v8h-1zM211 293h3v8h-3zM217 293h3v8h-3zM221 293h1v8h-1zM223 293h1v8h-1zM225 293h1v8h-1zM228 293h2v8h-2zM233 293h2v8h-2zM236 293h1v8h-1zM238 293h1v8h-1zM242 293h1v8h-1zM244 293h1v8h-1zM246 293h1v8h-1zM249 293h1v8h-1zM252 293h1v8h-1zM257 293h1v8h-1zM263 293h2v8h-2zM270 293h1v8h-1zM276 293h1v8h-1zM280 293h6v8h-6zM291 293h1v8h-1zM294 293h1v8h-1zM296 293h1v8h-1zM300 293h4v8h-4zM305 293h2v8h-2zM316 293h1v8h-1zM318 293h2v8h-2zM322 293h5v8h-5zM331 293h1v8h-1zM336 293h1v8h-1zM338 293h1v8h-1zM340 293h2v8h-2zM343 293h3v8h-3zM348 293h2v8h-2zM355 293h1v8h-1zM358 293h3v8h-3z" fill="#ddd5da"/>
<path d="M100 293h1v8h-1zM111 293h1v8h-1zM136 293h2v8h-2zM164 293h2v8h-2zM170 293h1v8h-1zM173 293h2v8h-2zM206 293h1v8h-1zM220 293h1v8h-1zM224 293h1v8h-1zM237 293h1v8h-1zM245 293h1v8h-1zM317 293h1v8h-1z" fill="#ddc4c6"/>
<path d="M99 293h1v8h-1zM108 293h1v8h-1zM162 293h1v8h-1z" fill="#ddb3b2"/>
<path d="M142 293h1v8h-1z" fill="#dea29e"/>
<rect x="82" y="301" width="286.6" height="9" fill="#ddd5da"/>
<path d="M82 301h1v9h-1zM89 301h2v9h-2zM105 301h2v9h-2zM119 301h2v9h-2zM131 301h1v9h-1zM134 301h5v9h-5zM144 301h3v9h-3zM148 301h1v9h-1zM150 301h1v9h-1zM164 301h3v9h-3zM180 301h2v9h-2zM188 301h2v9h-2zM193 301h4v9h-4zM199 301h4v9h-4zM209 301h1v9h-1zM222 301h1v9h-1zM231 301h5v9h-5zM239 301h3v9h-3zM243 301h1v9h-1zM247 301h1v9h-1zM251 301h1v9h-1zM253 301h2v9h-2zM256 301h6v9h-6zM264 301h5v9h-5zM272 301h1v9h-1zM274 301h2v9h-2zM287 301h3v9h-3zM292 301h2v9h-2zM297 301h2v9h-2zM303 301h2v9h-2zM306 301h3v9h-3zM310 301h4v9h-4zM321 301h2v9h-2zM328 301h2v9h-2zM334 301h1v9h-1zM337 301h3v9h-3zM342 301h1v9h-1zM351 301h4v9h-4zM357 301h1v9h-1zM360 301h1v9h-1zM362 301h2v9h-2zM366 301h3v9h-3z" fill="#dde6ee"/>
<path d="M83 301h2v9h-2zM87 301h1v9h-1zM92 301h1v9h-1zM95 301h4v9h-4zM102 301h1v9h-1zM111 301h4v9h-4zM116 301h1v9h-1zM123 301h1v9h-1zM125 301h2v9h-2zM141 301h1v9h-1zM143 301h1v9h-1zM161 301h1v9h-1zM169 301h2v9h-2zM185 301h2v9h-2zM204 301h2v9h-2zM207 301h1v9h-1zM211 301h1v9h-1zM221 301h1v9h-1zM246 301h1v9h-1zM249 301h1v9h-1zM281 301h1v9h-1zM284 301h2v9h-2zM290 301h1v9h-1zM296 301h1v9h-1zM317 301h1v9h-1zM331 301h1v9h-1zM345 301h1v9h-1z" fill="#ddc4c6"/>
<path d="M108 301h1v9h-1zM157 301h1v9h-1zM220 301h1v9h-1zM224 301h1v9h-1zM245 301h1v9h-1zM283 301h1v9h-1z" fill="#ddb3b2"/>
<path d="M174 301h1v9h-1zM206 301h1v9h-1zM237 301h1v9h-1z" fill="#dea29e"/>
<path d="M99 301h1v9h-1z" fill="#de9089"/>
<path d="M162 301h1v9h-1zM173 301h1v9h-1z" fill="#de7f75"/>
<path d="M142 301h1v9h-1z" fill="#de6e61"/>
<rect x="82" y="310" width="286.6" height="8" fill="#dde6ee"/>
<path d="M99 310h1v8h-1zM142 310h1v8h-1zM162 310h1v8h-1z" fill="#ddd5da"/>
<rect x="82" y="318" width="286.6" height="9" fill="#dde6ee"/>
<path d="M99 318h1v9h-1zM117 318h1v9h-1zM142 318h1v9h-1zM162 318h1v9h-1zM173 318h2v9h-2zM206 318h1v9h-1zM220 318h1v9h-1zM245 318h1v9h-1zM331 318h1v9h-1zM340 318h1v9h-1z" fill="#ddd5da"/>
<rect x="82" y="327" width="286.6" height="8" fill="#ddd5da"/>
<path d="M101 327h1v8h-1zM110 327h1v8h-1zM115 327h1v8h-1zM117 327h1v8h-1zM121 327h1v8h-1zM132 327h1v8h-1zM136 327h1v8h-1zM138 327h1v8h-1zM147 327h1v8h-1zM149 327h2v8h-2zM156 327h1v8h-1zM159 327h2v8h-2zM166 327h2v8h-2zM169 327h1v8h-1zM175 327h1v8h-1zM184 327h2v8h-2zM190 327h1v8h-1zM192 327h1v8h-1zM201 327h1v8h-1zM204 327h1v8h-1zM209 327h1v8h-1zM212 327h1v8h-1zM216 327h1v8h-1zM221 327h1v8h-1zM223 327h1v8h-1zM225 327h1v8h-1zM227 327h1v8h-1zM230 327h1v8h-1zM236 327h1v8h-1zM243 327h2v8h-2zM251 327h1v8h-1zM253 327h1v8h-1zM260 327h1v8h-1zM270 327h3v8h-3zM275 327h1v8h-1zM277 327h1v8h-1zM279 327h1v8h-1zM282 327h1v8h-1zM286 327h1v8h-1zM298 327h1v8h-1zM303 327h1v8h-1zM307 327h1v8h-1zM312 327h1v8h-1zM315 327h1v8h-1zM322 327h1v8h-1zM328 327h1v8h-1zM330 327h1v8h-1zM332 327h2v8h-2zM337 327h3v8h-3zM342 327h2v8h-2zM346 327h1v8h-1zM348 327h1v8h-1zM350 327h2v8h-2zM354 327h1v8h-1zM356 327h1v8h-1zM361 327h1v8h-1zM367 327h1v8h-1z" fill="#ddc4c6"/>
<path d="M83 327h1v8h-1zM88 327h1v8h-1zM91 327h1v8h-1zM94 327h1v8h-1zM97 327h1v8h-1zM113 327h1v8h-1zM116 327h1v8h-1zM124 327h1v8h-1zM127 327h1v8h-1zM133 327h1v8h-1zM152 327h1v8h-1zM154 327h1v8h-1zM158 327h1v8h-1zM163 327h1v8h-1zM170 327h3v8h-3zM178 327h2v8h-2zM182 327h2v8h-2zM199 327h2v8h-2zM208 327h1v8h-1zM210 327h2v8h-2zM213 327h1v8h-1zM217 327h1v8h-1zM219 327h1v8h-1zM229 327h1v8h-1zM238 327h1v8h-1zM263 327h1v8h-1zM276 327h1v8h-1zM278 327h1v8h-1zM280 327h2v8h-2zM284 327h1v8h-1zM291 327h2v8h-2zM295 327h1v8h-1zM304 327h1v8h-1zM313 327h1v8h-1zM316 327h1v8h-1zM318 327h2v8h-2zM324 327h1v8h-1zM326 327h1v8h-1zM344 327h1v8h-1z" fill="#ddb3b2"/>
<path d="M86 327h1v8h-1zM93 327h1v8h-1zM96 327h1v8h-1zM100 327h1v8h-1zM103 327h1v8h-1zM109 327h1v8h-1zM112 327h1v8h-1zM125 327h1v8h-1zM128 327h3v8h-3zM137 327h1v8h-1zM153 327h1v8h-1zM161 327h1v8h-1zM191 327h1v8h-1zM205 327h1v8h-1zM207 327h1v8h-1zM228 327h1v8h-1zM242 327h1v8h-1zM249 327h2v8h-2zM252 327h1v8h-1zM293 327h2v8h-2zM296 327h1v8h-1zM301 327h2v8h-2zM305 327h1v8h-1zM323 327h1v8h-1zM331 327h1v8h-1zM341 327h1v8h-1zM355 327h1v8h-1z" fill="#dea29e"/>
<path d="M87 327h1v8h-1zM95 327h1v8h-1zM98 327h1v8h-1zM102 327h1v8h-1zM106 327h1v8h-1zM111 327h1v8h-1zM114 327h1v8h-1zM140 327h2v8h-2zM143 327h1v8h-1zM151 327h1v8h-1zM181 327h1v8h-1zM218 327h1v8h-1zM283 327h1v8h-1zM285 327h1v8h-1zM340 327h1v8h-1zM345 327h1v8h-1zM349 327h1v8h-1zM368 327h1v8h-1z" fill="#de9089"/>
<path d="M84 327h1v8h-1zM139 327h1v8h-1zM157 327h1v8h-1zM246 327h1v8h-1zM314 327h1v8h-1zM317 327h1v8h-1z" fill="#de7f75"/>
<path d="M107 327h1v8h-1zM180 327h1v8h-1zM220 327h1v8h-1z" fill="#de6e61"/>
<path d="M85 327h1v8h-1zM92 327h1v8h-1zM99 327h1v8h-1zM108 327h1v8h-1zM142 327h1v8h-1zM162 327h1v8h-1zM173 327h2v8h-2zM206 327h1v8h-1zM224 327h1v8h-1zM237 327h1v8h-1zM245 327h1v8h-1z" fill="#de5d4d"/>
<rect x="82" y="335" width="286.6" height="9" fill="#ddd5da"/>
<path d="M87 335h4v9h-4zM104 335h2v9h-2zM119 335h2v9h-2zM123 335h1v9h-1zM129 335h1v9h-1zM136 335h4v9h-4zM144 335h3v9h-3zM148 335h4v9h-4zM153 335h1v9h-1zM155 335h1v9h-1zM164 335h1v9h-1zM176 335h1v9h-1zM183 335h2v9h-2zM186 335h1v9h-1zM189 335h1v9h-1zM194 335h3v9h-3zM198 335h5v9h-5zM209 335h1v9h-1zM215 335h1v9h-1zM222 335h1v9h-1zM226 335h1v9h-1zM230 335h4v9h-4zM235 335h1v9h-1zM239 335h3v9h-3zM243 335h1v9h-1zM247 335h2v9h-2zM251 335h1v9h-1zM254 335h1v9h-1zM257 335h2v9h-2zM260 335h1v9h-1zM264 335h6v9h-6zM272 335h3v9h-3zM277 335h3v9h-3zM287 335h3v9h-3zM293 335h1v9h-1zM297 335h3v9h-3zM303 335h1v9h-1zM306 335h1v9h-1zM308 335h1v9h-1zM310 335h6v9h-6zM320 335h2v9h-2zM327 335h3v9h-3zM334 335h4v9h-4zM339 335h1v9h-1zM351 335h3v9h-3zM363 335h1v9h-1zM365 335h4v9h-4z" fill="#dde6ee"/>
<path d="M83 335h1v9h-1zM92 335h1v9h-1zM95 335h4v9h-4zM102 335h1v9h-1zM111 335h1v9h-1zM114 335h1v9h-1zM117 335h1v9h-1zM133 335h2v9h-2zM141 335h1v9h-1zM143 335h1v9h-1zM157 335h1v9h-1zM169 335h1v9h-1zM203 335h1v9h-1zM205 335h1v9h-1zM207 335h1v9h-1zM213 335h1v9h-1zM218 335h1v9h-1zM246 335h1v9h-1zM283 335h1v9h-1zM285 335h1v9h-1zM331 335h1v9h-1zM345 335h1v9h-1z" fill="#ddc4c6"/>
<path d="M108 335h1v9h-1zM170 335h1v9h-1zM173 335h2v9h-2zM180 335h1v9h-1zM204 335h1v9h-1zM206 335h1v9h-1zM217 335h1v9h-1zM220 335h1v9h-1zM224 335h1v9h-1zM237 335h1v9h-1zM245 335h1v9h-1zM317 335h1v9h-1z" fill="#ddb3b2"/>
<path d="M99 335h1v9h-1zM109 335h1v9h-1z" fill="#dea29e"/>
<path d="M162 335h1v9h-1z" fill="#de9089"/>
<path d="M142 335h1v9h-1z" fill="#de6e61"/>
</g>
<text x="76" y="37" font-size="8.1" text-anchor="end" textLength="44.7" lengthAdjust="spacingAndGlyphs">cg03372410</text>
<text x="370.6" y="38.4" font-size="7.1">R = 0.56</text>
<text x="408" y="38.4" font-size="7.1">p &lt; 0.001</text>
<text x="76" y="45.5" font-size="8.1" text-anchor="end" textLength="44.7" lengthAdjust="spacingAndGlyphs">cg19848140</text>
<text x="370.6" y="46.8" font-size="7.1">R = 0.442</text>
<text x="408" y="46.8" font-size="7.1">p &lt; 0.001</text>
<text x="76" y="54" font-size="8.1" text-anchor="end" textLength="44.7" lengthAdjust="spacingAndGlyphs">cg07319162</text>
<text x="370.6" y="55.2" font-size="7.1">R = 0.538</text>
<text x="408" y="55.2" font-size="7.1">p &lt; 0.001</text>
<text x="76" y="62.4" font-size="8.1" text-anchor="end" textLength="44.7" lengthAdjust="spacingAndGlyphs">cg06067477</text>
<text x="370.6" y="63.6" font-size="7.1">R = 0.612</text>
<text x="408" y="63.6" font-size="7.1">p &lt; 0.001</text>
<text x="76" y="70.9" font-size="8.1" text-anchor="end" textLength="44.7" lengthAdjust="spacingAndGlyphs">cg07903472</text>
<text x="370.6" y="72" font-size="7.1">R = 0.63</text>
<text x="408" y="72" font-size="7.1">p &lt; 0.001</text>
<text x="76" y="79.4" font-size="8.1" text-anchor="end" textLength="44.7" lengthAdjust="spacingAndGlyphs">cg08774104</text>
<text x="370.6" y="80.4" font-size="7.1">R = 0.394</text>
<text x="408" y="80.4" font-size="7.1">p &lt; 0.001</text>
<text x="76" y="87.9" font-size="8.1" text-anchor="end" textLength="44.7" lengthAdjust="spacingAndGlyphs">cg13285387</text>
<text x="370.6" y="88.8" font-size="7.1">R = 0.561</text>
<text x="408" y="88.8" font-size="7.1">p &lt; 0.001</text>
<text x="76" y="96.4" font-size="8.1" text-anchor="end" textLength="44.7" lengthAdjust="spacingAndGlyphs">cg08262269</text>
<text x="370.6" y="97.2" font-size="7.1">R = 0.501</text>
<text x="408" y="97.2" font-size="7.1">p &lt; 0.001</text>
<text x="76" y="104.8" font-size="8.1" text-anchor="end" textLength="44.7" lengthAdjust="spacingAndGlyphs">cg05998565</text>
<text x="370.6" y="105.6" font-size="7.1">R = 0.591</text>
<text x="408" y="105.6" font-size="7.1">p &lt; 0.001</text>
<text x="76" y="113.3" font-size="8.1" text-anchor="end" textLength="44.7" lengthAdjust="spacingAndGlyphs">cg13345122</text>
<text x="370.6" y="114" font-size="7.1">R = 0.391</text>
<text x="408" y="114" font-size="7.1">p &lt; 0.001</text>
<text x="76" y="121.8" font-size="8.1" text-anchor="end" textLength="44.7" lengthAdjust="spacingAndGlyphs">cg02537014</text>
<text x="370.6" y="122.4" font-size="7.1">R = 0.552</text>
<text x="408" y="122.4" font-size="7.1">p &lt; 0.001</text>
<text x="76" y="130.3" font-size="8.1" text-anchor="end" textLength="44.7" lengthAdjust="spacingAndGlyphs">cg03351487</text>
<text x="370.6" y="130.8" font-size="7.1">R = 0.496</text>
<text x="408" y="130.8" font-size="7.1">p &lt; 0.001</text>
<text x="76" y="138.8" font-size="8.1" text-anchor="end" textLength="44.7" lengthAdjust="spacingAndGlyphs">cg12367789</text>
<text x="370.6" y="139.2" font-size="7.1">R = 0.57</text>
<text x="408" y="139.2" font-size="7.1">p &lt; 0.001</text>
<text x="76" y="147.2" font-size="8.1" text-anchor="end" textLength="44.7" lengthAdjust="spacingAndGlyphs">cg27660720</text>
<text x="370.6" y="147.6" font-size="7.1">R = 0.292</text>
<text x="408" y="147.6" font-size="7.1">p &lt; 0.001</text>
<text x="76" y="155.7" font-size="8.1" text-anchor="end" textLength="44.7" lengthAdjust="spacingAndGlyphs">cg06754557</text>
<text x="370.6" y="156" font-size="7.1">R = 0.585</text>
<text x="408" y="156" font-size="7.1">p &lt; 0.001</text>
<text x="76" y="164.2" font-size="8.1" text-anchor="end" textLength="44.7" lengthAdjust="spacingAndGlyphs">cg22585786</text>
<text x="370.6" y="164.4" font-size="7.1">R = 0.122</text>
<text x="408" y="164.4" font-size="7.1">p &lt; 0.05</text>
<text x="76" y="172.7" font-size="8.1" text-anchor="end" textLength="44.7" lengthAdjust="spacingAndGlyphs">cg22359623</text>
<text x="370.6" y="172.8" font-size="7.1">R = 0.461</text>
<text x="408" y="172.8" font-size="7.1">p &lt; 0.001</text>
<text x="76" y="181.2" font-size="8.1" text-anchor="end" textLength="44.7" lengthAdjust="spacingAndGlyphs">cg20661391</text>
<text x="370.6" y="181.2" font-size="7.1">R = 0.384</text>
<text x="408" y="181.2" font-size="7.1">p &lt; 0.001</text>
<text x="76" y="189.6" font-size="8.1" text-anchor="end" textLength="44.7" lengthAdjust="spacingAndGlyphs">cg07992385</text>
<text x="370.6" y="189.6" font-size="7.1">R = 0.401</text>
<text x="408" y="189.6" font-size="7.1">p &lt; 0.001</text>
<text x="76" y="198.1" font-size="8.1" text-anchor="end" textLength="44.7" lengthAdjust="spacingAndGlyphs">cg17252489</text>
<text x="370.6" y="198" font-size="7.1">R = 0.473</text>
<text x="408" y="198" font-size="7.1">p &lt; 0.001</text>
<text x="76" y="206.6" font-size="8.1" text-anchor="end" textLength="44.7" lengthAdjust="spacingAndGlyphs">cg08240917</text>
<text x="370.6" y="206.4" font-size="7.1">R = 0.356</text>
<text x="408" y="206.4" font-size="7.1">p &lt; 0.001</text>
<text x="76" y="215.1" font-size="8.1" text-anchor="end" textLength="44.7" lengthAdjust="spacingAndGlyphs">cg13431028</text>
<text x="370.6" y="214.8" font-size="7.1">R = 0.331</text>
<text x="408" y="214.8" font-size="7.1">p &lt; 0.001</text>
<text x="76" y="223.6" font-size="8.1" text-anchor="end" textLength="44.7" lengthAdjust="spacingAndGlyphs">cg24083378</text>
<text x="370.6" y="223.2" font-size="7.1">R = 0.572</text>
<text x="408" y="223.2" font-size="7.1">p &lt; 0.001</text>
<text x="76" y="232" font-size="8.1" text-anchor="end" textLength="44.7" lengthAdjust="spacingAndGlyphs">cg21899461</text>
<text x="370.6" y="231.6" font-size="7.1">R = 0.604</text>
<text x="408" y="231.6" font-size="7.1">p &lt; 0.001</text>
<text x="76" y="240.5" font-size="8.1" text-anchor="end" textLength="44.7" lengthAdjust="spacingAndGlyphs">cg11775828</text>
<text x="370.6" y="240" font-size="7.1">R = −0.083</text>
<text x="408" y="240" font-size="7.1">p=0.11</text>
<text x="76" y="249" font-size="8.1" text-anchor="end" textLength="44.7" lengthAdjust="spacingAndGlyphs">cg03331300</text>
<text x="370.6" y="248.4" font-size="7.1">R = −0.533</text>
<text x="408" y="248.4" font-size="7.1">p &lt; 0.001</text>
<text x="76" y="257.5" font-size="8.1" text-anchor="end" textLength="44.7" lengthAdjust="spacingAndGlyphs">cg02114728</text>
<text x="370.6" y="256.8" font-size="7.1">R = −0.399</text>
<text x="408" y="256.8" font-size="7.1">p &lt; 0.001</text>
<text x="76" y="266" font-size="8.1" text-anchor="end" textLength="44.7" lengthAdjust="spacingAndGlyphs">cg22401940</text>
<text x="370.6" y="265.2" font-size="7.1">R = −0.3</text>
<text x="408" y="265.2" font-size="7.1">p &lt; 0.001</text>
<text x="76" y="274.4" font-size="8.1" text-anchor="end" textLength="44.7" lengthAdjust="spacingAndGlyphs">cg03159329</text>
<text x="370.6" y="273.6" font-size="7.1">R = −0.406</text>
<text x="408" y="273.6" font-size="7.1">p &lt; 0.001</text>
<text x="76" y="282.9" font-size="8.1" text-anchor="end" textLength="44.7" lengthAdjust="spacingAndGlyphs">cg23092844</text>
<text x="370.6" y="282" font-size="7.1">R = −0.295</text>
<text x="408" y="282" font-size="7.1">p &lt; 0.001</text>
<text x="76" y="291.4" font-size="8.1" text-anchor="end" textLength="44.7" lengthAdjust="spacingAndGlyphs">cg07857142</text>
<text x="370.6" y="290.4" font-size="7.1">R = −0.127</text>
<text x="408" y="290.4" font-size="7.1">p &lt; 0.05</text>
<text x="76" y="299.9" font-size="8.1" text-anchor="end" textLength="44.7" lengthAdjust="spacingAndGlyphs">cg21871154</text>
<text x="370.6" y="298.8" font-size="7.1">R = −0.196</text>
<text x="408" y="298.8" font-size="7.1">p &lt; 0.001</text>
<text x="76" y="308.4" font-size="8.1" text-anchor="end" textLength="44.7" lengthAdjust="spacingAndGlyphs">cg19282745</text>
<text x="370.6" y="307.2" font-size="7.1">R = −0.289</text>
<text x="408" y="307.2" font-size="7.1">p &lt; 0.001</text>
<text x="76" y="316.8" font-size="8.1" text-anchor="end" textLength="44.7" lengthAdjust="spacingAndGlyphs">cg02689023</text>
<text x="370.6" y="315.6" font-size="7.1">R = 0</text>
<text x="408" y="315.6" font-size="7.1">p=0.994</text>
<text x="76" y="325.3" font-size="8.1" text-anchor="end" textLength="44.7" lengthAdjust="spacingAndGlyphs">cg24498376</text>
<text x="370.6" y="324" font-size="7.1">R = 0.028</text>
<text x="408" y="324" font-size="7.1">p=0.591</text>
<text x="76" y="333.8" font-size="8.1" text-anchor="end" textLength="44.7" lengthAdjust="spacingAndGlyphs">cg26872305</text>
<text x="370.6" y="332.4" font-size="7.1">R = −0.35</text>
<text x="408" y="332.4" font-size="7.1">p &lt; 0.001</text>
<text x="76" y="342.3" font-size="8.1" text-anchor="end" textLength="44.7" lengthAdjust="spacingAndGlyphs">cg22659356</text>
<text x="370.6" y="340.8" font-size="7.1">R = 0.019</text>
<text x="408" y="340.8" font-size="7.1">p=0.708</text>
<rect x="12" y="29.9" width="14" height="245.9" fill="#5aaad0"/>
<rect x="12" y="275.8" width="14" height="17" fill="#4cb648"/>
<rect x="12" y="292.8" width="14" height="50.9" fill="#f0a53a"/>
<text x="22.4" y="153.4" font-size="8.4" text-anchor="middle" transform="rotate(-90 22.4 153.4)">Gene body</text>
<text x="22.4" y="285.3" font-size="8.5" text-anchor="middle" transform="rotate(-90 22.4 285.3)">E1</text>
<text x="22.4" y="320.7" font-size="8.6" text-anchor="middle" transform="rotate(-90 22.4 320.7)">Promoter</text>
<text x="443.5" y="12.8" font-size="16.5" font-weight="bold" fill="#000">b</text>
<text x="495.5" y="17.2" font-size="8.3">TCGA-LIHC</text>
<rect x="445" y="19.8" width="13.8" height="246" fill="#5aaad0"/>
<rect x="445" y="265.8" width="13.8" height="16.9" fill="#4cb648"/>
<rect x="445" y="282.7" width="13.8" height="50.7" fill="#f0a53a"/>
<text x="455.5" y="145.5" font-size="8.2" text-anchor="middle" transform="rotate(-90 455.5 145.5)">Gene body</text>
<text x="455.5" y="274.2" font-size="8.2" text-anchor="middle" transform="rotate(-90 455.5 274.2)">E1</text>
<text x="455.5" y="310" font-size="8.2" text-anchor="middle" transform="rotate(-90 455.5 310)">Promoter</text>
<path d="M463.3 17.3V334.2H570.8M460.3 24.8h3M460.3 33.5h3M460.3 42.2h3M460.3 50.8h3M460.3 59.5h3M460.3 68.2h3M460.3 76.9h3M460.3 85.6h3M460.3 94.3h3M460.3 102.9h3M460.3 111.6h3M460.3 120.3h3M460.3 129h3M460.3 137.7h3M460.3 146.4h3M460.3 155h3M460.3 163.7h3M460.3 172.4h3M460.3 181.1h3M460.3 189.8h3M460.3 198.5h3M460.3 207.1h3M460.3 215.8h3M460.3 224.5h3M460.3 233.2h3M460.3 241.9h3M460.3 250.6h3M460.3 259.2h3M460.3 267.9h3M460.3 276.6h3M460.3 285.3h3M460.3 294h3M460.3 302.7h3M460.3 311.3h3M460.3 320h3M460.3 328.7h3M463.3 334.2v2.3M490.1 334.2v2.3M516.9 334.2v2.3M543.7 334.2v2.3M570.5 334.2v2.3" stroke="#222" stroke-width="0.9" fill="none"/>
<text x="463.3" y="346.9" font-size="8.3" text-anchor="middle">0</text>
<text x="490.1" y="346.9" font-size="8.3" text-anchor="middle">1</text>
<text x="516.9" y="346.9" font-size="8.3" text-anchor="middle">2</text>
<text x="543.7" y="346.9" font-size="8.3" text-anchor="middle">3</text>
<text x="570.5" y="346.9" font-size="8.3" text-anchor="middle">4</text>
<text x="519.2" y="356.4" font-size="8.3" text-anchor="middle">HR with 95% CI</text>
<path d="M490.2 24.8H519.6M490.2 22.8v4M519.6 22.8v4M490.4 33.5H520.1M490.4 31.5v4M520.1 31.5v4M492 42.2H531.2M492 40.2v4M531.2 40.2v4M495 50.8H541.3M495 48.8v4M541.3 48.8v4M494 59.5H538.9M494 57.5v4M538.9 57.5v4M488 68.2H523.3M488 66.2v4M523.3 66.2v4M490.5 76.9H520M490.5 74.9v4M520 74.9v4M502.3 85.6H551M502.3 83.6v4M551 83.6v4M498 94.3H538.6M498 92.3v4M538.6 92.3v4M491.6 102.9H533.1M491.6 100.9v4M533.1 100.9v4M498 111.6H538.7M498 109.6v4M538.7 109.6v4M492.8 120.3H536.2M492.8 118.3v4M536.2 118.3v4M497.4 129H532.4M497.4 127v4M532.4 127v4M485.1 137.7H514.1M485.1 135.7v4M514.1 135.7v4M485.5 146.4H507.3M485.5 144.4v4M507.3 144.4v4M489.1 155H526M489.1 153v4M526 153v4M489.3 163.7H522.8M489.3 161.7v4M522.8 161.7v4M493.7 172.4H539.5M493.7 170.4v4M539.5 170.4v4M491.2 181.1H532M491.2 179.1v4M532 179.1v4M487.1 189.8H510.5M487.1 187.8v4M510.5 187.8v4M490.7 198.5H532.1M490.7 196.5v4M532.1 196.5v4M490.4 207.1H517.5M490.4 205.1v4M517.5 205.1v4M500.2 215.8H557.3M500.2 213.8v4M557.3 213.8v4M480.3 224.5H497.3M480.3 222.5v4M497.3 222.5v4M478.4 233.2H493.9M478.4 231.2v4M493.9 231.2v4M475.9 241.9H491M475.9 239.9v4M491 239.9v4M483.8 250.6H504.2M483.8 248.6v4M504.2 248.6v4M478 259.2H495.4M478 257.2v4M495.4 257.2v4M488.6 267.9H523M488.6 265.9v4M523 265.9v4M482.6 276.6H505.5M482.6 274.6v4M505.5 274.6v4M484.2 285.3H510.9M484.2 283.3v4M510.9 283.3v4M490.9 294H528.6M490.9 292v4M528.6 292v4M478.2 302.7H496.6M478.2 300.7v4M496.6 300.7v4M476.5 311.3H491.9M476.5 309.3v4M491.9 309.3v4M478.9 320H497.5M478.9 318v4M497.5 318v4M479.8 328.7H500.1M479.8 326.7v4M500.1 326.7v4" stroke="#2a2a2a" stroke-width="0.95" fill="none"/>
<circle cx="504.1" cy="24.8" r="2.35" fill="#5fb0d6"/>
<circle cx="504.5" cy="33.5" r="2.35" fill="#5fb0d6"/>
<circle cx="510.4" cy="42.2" r="2.35" fill="#5fb0d6"/>
<circle cx="516.6" cy="50.8" r="2.35" fill="#5fb0d6"/>
<circle cx="514.9" cy="59.5" r="2.35" fill="#5fb0d6"/>
<circle cx="504.5" cy="68.2" r="2.35" fill="#5fb0d6"/>
<circle cx="504.5" cy="76.9" r="2.35" fill="#5fb0d6"/>
<circle cx="525.2" cy="85.6" r="2.35" fill="#5fb0d6"/>
<circle cx="517.1" cy="94.3" r="2.35" fill="#5fb0d6"/>
<circle cx="511" cy="102.9" r="2.35" fill="#5fb0d6"/>
<circle cx="517.2" cy="111.6" r="2.35" fill="#5fb0d6"/>
<circle cx="513.1" cy="120.3" r="2.35" fill="#5fb0d6"/>
<circle cx="514" cy="129" r="2.35" fill="#5fb0d6"/>
<circle cx="498.7" cy="137.7" r="2.35" fill="#5fb0d6"/>
<circle cx="495.8" cy="146.4" r="2.35" fill="#5fb0d6"/>
<circle cx="506.3" cy="155" r="2.35" fill="#5fb0d6"/>
<circle cx="505" cy="163.7" r="2.35" fill="#5fb0d6"/>
<circle cx="515.1" cy="172.4" r="2.35" fill="#5fb0d6"/>
<circle cx="510.3" cy="181.1" r="2.35" fill="#5fb0d6"/>
<circle cx="498.2" cy="189.8" r="2.35" fill="#5fb0d6"/>
<circle cx="510" cy="198.5" r="2.35" fill="#5fb0d6"/>
<circle cx="503.2" cy="207.1" r="2.35" fill="#5fb0d6"/>
<circle cx="526.8" cy="215.8" r="2.35" fill="#5fb0d6"/>
<circle cx="488.4" cy="224.5" r="2.35" fill="#5fb0d6"/>
<circle cx="485.8" cy="233.2" r="2.35" fill="#5fb0d6"/>
<circle cx="483" cy="241.9" r="2.35" fill="#5fb0d6"/>
<circle cx="493.5" cy="250.6" r="2.35" fill="#5fb0d6"/>
<circle cx="486.2" cy="259.2" r="2.35" fill="#5fb0d6"/>
<circle cx="504.7" cy="267.9" r="2.35" fill="#55bb4f"/>
<circle cx="493.4" cy="276.6" r="2.35" fill="#55bb4f"/>
<circle cx="496.7" cy="285.3" r="2.35" fill="#f0a834"/>
<circle cx="508.5" cy="294" r="2.35" fill="#f0a834"/>
<circle cx="486.9" cy="302.7" r="2.35" fill="#f0a834"/>
<circle cx="483.8" cy="311.3" r="2.35" fill="#f0a834"/>
<circle cx="487.6" cy="320" r="2.35" fill="#f0a834"/>
<circle cx="489.3" cy="328.7" r="2.35" fill="#f0a834"/>
<path d="M580.6 10.6H670.7M580.6 23.1H670.7M580.6 334.9H670.7" stroke="#222" stroke-width="0.9" fill="none"/>
<text x="586.6" y="19.6" font-size="7.1">HR</text>
<text x="608" y="19.6" font-size="7.1">CI (95%)</text>
<text x="648.5" y="19.6" font-size="7.1">Adj. P</text>
<text x="582.3" y="31.9" font-size="7.3">1.451 (1.003;2.100)</text>
<text x="655.7" y="31.9" font-size="7.3">p &lt; 0.05</text>
<text x="582.3" y="40.4" font-size="7.3">1.466 (1.013;2.121)</text>
<text x="655.7" y="40.4" font-size="7.3">p &lt; 0.05</text>
<text x="582.3" y="48.9" font-size="7.3">1.648 (1.072;2.532)</text>
<text x="655.7" y="48.9" font-size="7.3">p &lt; 0.05</text>
<text x="582.3" y="57.4" font-size="7.3">1.855 (1.183;2.911)</text>
<text x="655.7" y="57.4" font-size="7.3">p &lt; 0.01</text>
<text x="582.3" y="65.9" font-size="7.3">1.797 (1.144;2.822)</text>
<text x="655.7" y="65.9" font-size="7.3">p &lt; 0.01</text>
<text x="582.3" y="74.4" font-size="7.3">1.437 (0.923;2.238)</text>
<text x="655.7" y="74.4" font-size="7.3">p=0.096</text>
<text x="582.3" y="83" font-size="7.3">1.466 (1.015;2.117)</text>
<text x="655.7" y="83" font-size="7.3">p &lt; 0.05</text>
<text x="582.3" y="91.5" font-size="7.3">2.184 (1.457;3.272)</text>
<text x="655.7" y="91.5" font-size="7.3">p &lt; 0.001</text>
<text x="582.3" y="100" font-size="7.3">1.906 (1.293;2.808)</text>
<text x="655.7" y="100" font-size="7.3">p &lt; 0.001</text>
<text x="582.3" y="108.5" font-size="7.3">1.659 (1.057;2.605)</text>
<text x="655.7" y="108.5" font-size="7.3">p &lt; 0.05</text>
<text x="582.3" y="117" font-size="7.3">1.908 (1.294;2.813)</text>
<text x="655.7" y="117" font-size="7.3">p &lt; 0.001</text>
<text x="582.3" y="125.5" font-size="7.3">1.732 (1.102;2.719)</text>
<text x="655.7" y="125.5" font-size="7.3">p &lt; 0.05</text>
<text x="582.3" y="134" font-size="7.3">1.813 (1.274;2.578)</text>
<text x="655.7" y="134" font-size="7.3">p &lt; 0.001</text>
<text x="582.3" y="142.5" font-size="7.3">1.241 (0.813;1.895)</text>
<text x="655.7" y="142.5" font-size="7.3">p=0.308</text>
<text x="582.3" y="151" font-size="7.3">1.166 (0.828;1.642)</text>
<text x="655.7" y="151" font-size="7.3">p=0.379</text>
<text x="582.3" y="159.5" font-size="7.3">1.501 (0.963;2.338)</text>
<text x="655.7" y="159.5" font-size="7.3">p=0.062</text>
<text x="582.3" y="168.1" font-size="7.3">1.467 (0.969;2.221)</text>
<text x="655.7" y="168.1" font-size="7.3">p=0.061</text>
<text x="582.3" y="176.6" font-size="7.3">1.797 (1.135;2.843)</text>
<text x="655.7" y="176.6" font-size="7.3">p &lt; 0.01</text>
<text x="582.3" y="185.1" font-size="7.3">1.634 (1.041;2.564)</text>
<text x="655.7" y="185.1" font-size="7.3">p &lt; 0.05</text>
<text x="582.3" y="193.6" font-size="7.3">1.251 (0.887;1.763)</text>
<text x="655.7" y="193.6" font-size="7.3">p=0.201</text>
<text x="582.3" y="202.1" font-size="7.3">1.62 (1.022;2.568)</text>
<text x="655.7" y="202.1" font-size="7.3">p &lt; 0.05</text>
<text x="582.3" y="210.6" font-size="7.3">1.429 (1.010;2.022)</text>
<text x="655.7" y="210.6" font-size="7.3">p &lt; 0.05</text>
<text x="582.3" y="219.1" font-size="7.3">2.197 (1.376;3.509)</text>
<text x="655.7" y="219.1" font-size="7.3">p &lt; 0.001</text>
<text x="582.3" y="227.6" font-size="7.3">0.898 (0.636;1.268)</text>
<text x="655.7" y="227.6" font-size="7.3">p=0.540</text>
<text x="582.3" y="236.1" font-size="7.3">0.804 (0.565;1.142)</text>
<text x="655.7" y="236.1" font-size="7.3">p=0.220</text>
<text x="582.3" y="244.7" font-size="7.3">0.697 (0.471;1.033)</text>
<text x="655.7" y="244.7" font-size="7.3">p=0.080</text>
<text x="582.3" y="253.2" font-size="7.3">1.08 (0.764;1.527)</text>
<text x="655.7" y="253.2" font-size="7.3">p=0.662</text>
<text x="582.3" y="261.7" font-size="7.3">0.81 (0.548;1.198)</text>
<text x="655.7" y="261.7" font-size="7.3">p=0.284</text>
<text x="582.3" y="270.2" font-size="7.3">1.45 (0.943;2.229)</text>
<text x="655.7" y="270.2" font-size="7.3">p=0.079</text>
<text x="582.3" y="278.7" font-size="7.3">1.064 (0.719;1.576)</text>
<text x="655.7" y="278.7" font-size="7.3">p=0.754</text>
<text x="582.3" y="287.2" font-size="7.3">1.175 (0.778;1.775)</text>
<text x="655.7" y="287.2" font-size="7.3">p=0.437</text>
<text x="582.3" y="295.7" font-size="7.3">1.584 (1.030;2.436)</text>
<text x="655.7" y="295.7" font-size="7.3">p &lt; 0.05</text>
<text x="582.3" y="304.2" font-size="7.3">0.832 (0.557;1.241)</text>
<text x="655.7" y="304.2" font-size="7.3">p=0.374</text>
<text x="582.3" y="312.7" font-size="7.3">0.725 (0.494;1.066)</text>
<text x="655.7" y="312.7" font-size="7.3">p=0.094</text>
<text x="582.3" y="321.2" font-size="7.3">0.862 (0.582;1.275)</text>
<text x="655.7" y="321.2" font-size="7.3">p=0.462</text>
<text x="582.3" y="329.8" font-size="7.3">0.92 (0.616;1.372)</text>
<text x="655.7" y="329.8" font-size="7.3">p=0.684</text>
<text x="1" y="374" font-size="16.5" font-weight="bold" fill="#000">c</text>
<text x="32.7" y="374.6" font-size="8.4">PLC/PRF/5</text>
<path d="M18.7 380.6L94.1 380.6" stroke="#222" stroke-width="0.9"/>
<text x="29.9" y="394" font-size="8.3" text-anchor="middle">0</text>
<text x="45.5" y="394" font-size="8.3" text-anchor="middle">5</text>
<text x="64.2" y="394" font-size="8.3" text-anchor="middle">10</text>
<text x="81.8" y="394" font-size="8.3" text-anchor="middle">20</text>
<text x="95.8" y="394" font-size="8.3">5-aza-dC(uM)</text>
<rect x="18.1" y="398.9" width="75.7" height="24.8" fill="#e6e6e6"/>
<rect x="24.4" y="407.1" width="13.4" height="8.4" rx="4.2" fill="#000" opacity="1" filter="url(#bl)"/>
<rect x="41.4" y="407.9" width="13" height="7.2" rx="3.6" fill="#000" opacity="0.97" filter="url(#bl)"/>
<rect x="61.4" y="408.7" width="11.6" height="5.4" rx="2.7" fill="#000" opacity="0.6" filter="url(#bl)"/>
<rect x="78.8" y="408.3" width="11.6" height="5.8" rx="2.9" fill="#000" opacity="0.7" filter="url(#bl)"/>
<rect x="18.1" y="426.2" width="75.7" height="24.3" fill="#e6e6e6"/>
<rect x="21.2" y="435" width="14.6" height="5.4" rx="2.7" fill="#000" opacity="1" filter="url(#bl)"/>
<rect x="39.1" y="435" width="15.6" height="5.4" rx="2.7" fill="#000" opacity="1" filter="url(#bl)"/>
<rect x="58.9" y="435.2" width="14.2" height="5" rx="2.5" fill="#000" opacity="1" filter="url(#bl)"/>
<rect x="76.9" y="435.2" width="14.2" height="5" rx="2.5" fill="#000" opacity="1" filter="url(#bl)"/>
<text x="95.8" y="414.7" font-size="9" textLength="21.5" lengthAdjust="spacingAndGlyphs">SPAK</text>
<path d="M97.6 421.9L102.4 421.9" stroke="#222" stroke-width="1.0"/>
<text x="105.7" y="424.1" font-size="6.4" textLength="17.3" lengthAdjust="spacingAndGlyphs">55kDa</text>
<text x="95.8" y="442.7" font-size="9" textLength="29.6" lengthAdjust="spacingAndGlyphs">GAPDH</text>
<path d="M97.6 448.7L102.4 448.7" stroke="#222" stroke-width="1.0"/>
<text x="105.7" y="450.9" font-size="6.4" textLength="17.3" lengthAdjust="spacingAndGlyphs">35kDa</text>
<text x="192.6" y="374.6" font-size="8.4">HLF</text>
<path d="M162.1 381.5L237.6 381.5" stroke="#222" stroke-width="0.9"/>
<text x="173.4" y="394.4" font-size="8.3" text-anchor="middle">0</text>
<text x="189" y="394.4" font-size="8.3" text-anchor="middle">5</text>
<text x="206" y="394.4" font-size="8.3" text-anchor="middle">10</text>
<text x="225.9" y="394.4" font-size="8.3" text-anchor="middle">20</text>
<text x="240.6" y="394.4" font-size="8.3">5-aza-dC(uM)</text>
<rect x="163" y="399.9" width="76.3" height="24.6" fill="#e6e6e6"/>
<rect x="168" y="410.1" width="12.2" height="5.6" rx="2.8" fill="#000" opacity="1" filter="url(#bl)"/>
<rect x="185.7" y="410.8" width="11.2" height="3.6" rx="1.8" fill="#000" opacity="0.85" filter="url(#bl)"/>
<rect x="204.6" y="410.9" width="10.6" height="3.7" rx="1.9" fill="#000" opacity="0.85" filter="url(#bl)"/>
<rect x="222" y="411.3" width="10.6" height="3.4" rx="1.7" fill="#000" opacity="0.55" filter="url(#bl)"/>
<rect x="163" y="426.2" width="76.3" height="24.3" fill="#e6e6e6"/>
<rect x="165.5" y="435.7" width="15.4" height="7.2" rx="3.6" fill="#000" opacity="1" filter="url(#bl)"/>
<rect x="183.5" y="436" width="15.4" height="6.6" rx="3.3" fill="#000" opacity="1" filter="url(#bl)"/>
<rect x="202.5" y="435.9" width="14.9" height="6.8" rx="3.4" fill="#000" opacity="1" filter="url(#bl)"/>
<rect x="220.7" y="436" width="14.8" height="6.6" rx="3.3" fill="#000" opacity="1" filter="url(#bl)"/>
<text x="240.6" y="415.2" font-size="9" textLength="21.5" lengthAdjust="spacingAndGlyphs">SPAK</text>
<path d="M242 421.2L246.8 421.2" stroke="#222" stroke-width="1.0"/>
<text x="250.1" y="423.4" font-size="6.4" textLength="17.3" lengthAdjust="spacingAndGlyphs">55kDa</text>
<text x="240.6" y="442.7" font-size="9" textLength="29.6" lengthAdjust="spacingAndGlyphs">GAPDH</text>
<path d="M242 448.5L246.8 448.5" stroke="#222" stroke-width="1.0"/>
<text x="250.1" y="450.7" font-size="6.4" textLength="17.3" lengthAdjust="spacingAndGlyphs">35kDa</text>
<text x="292.5" y="374" font-size="16.5" font-weight="bold" fill="#000">e</text>
<text x="319.7" y="374.1" font-size="8.4">PLC/PRF/5</text>
<path d="M306.8 378L383 378" stroke="#222" stroke-width="0.9"/>
<text x="322.2" y="436.6" font-size="8.4" transform="rotate(-90 322.2 436.6)">DMSO</text>
<text x="339.7" y="436.6" font-size="8.4" transform="rotate(-90 339.7 436.6)">GSK-3685032</text>
<text x="358.9" y="436.6" font-size="8.4" transform="rotate(-90 358.9 436.6)">DNMT3A-IN-1</text>
<text x="377.6" y="436.6" font-size="8.4" transform="rotate(-90 377.6 436.6)">Nanaomycin A</text>
<rect x="302.4" y="438.1" width="85.4" height="24.8" fill="#e6e6e6"/>
<rect x="309.6" y="449.5" width="12.4" height="4.2" rx="2.1" fill="#000" opacity="1" filter="url(#bl)"/>
<rect x="328" y="449.5" width="13.6" height="4.2" rx="2.1" fill="#000" opacity="1" filter="url(#bl)"/>
<rect x="347.8" y="449.5" width="12.8" height="4.2" rx="2.1" fill="#000" opacity="1" filter="url(#bl)"/>
<rect x="371" y="450.3" width="8" height="3" rx="1.5" fill="#000" opacity="0.55" filter="url(#bl)"/>
<rect x="366" y="450.6" width="6" height="2.4" rx="1.2" fill="#000" opacity="0.22" filter="url(#bl)"/>
<rect x="302.4" y="466.3" width="85.4" height="24.8" fill="#e6e6e6"/>
<rect x="308.3" y="475.8" width="16.4" height="6.4" rx="3.2" fill="#000" opacity="1" filter="url(#bl)"/>
<rect x="327.6" y="475.8" width="17.4" height="6.4" rx="3.2" fill="#000" opacity="1" filter="url(#bl)"/>
<rect x="347.9" y="475.8" width="15.4" height="6.4" rx="3.2" fill="#000" opacity="1" filter="url(#bl)"/>
<rect x="366.9" y="475.9" width="15.4" height="6.2" rx="3.1" fill="#000" opacity="1" filter="url(#bl)"/>
<text x="390" y="454.9" font-size="9" textLength="21.5" lengthAdjust="spacingAndGlyphs">SPAK</text>
<path d="M391.5 461.8L396.3 461.8" stroke="#222" stroke-width="1.0"/>
<text x="399.6" y="464" font-size="6.4" textLength="17.3" lengthAdjust="spacingAndGlyphs">55kDa</text>
<text x="390" y="482.4" font-size="9" textLength="29.6" lengthAdjust="spacingAndGlyphs">GAPDH</text>
<path d="M391.5 488.5L396.3 488.5" stroke="#222" stroke-width="1.0"/>
<text x="399.6" y="490.7" font-size="6.4" textLength="17.3" lengthAdjust="spacingAndGlyphs">35kDa</text>
<text x="467.9" y="372.2" font-size="8.4">HLF</text>
<path d="M439.2 375.9L517.6 375.9" stroke="#222" stroke-width="0.9"/>
<text x="450.6" y="434.3" font-size="8.4" transform="rotate(-90 450.6 434.3)">DMSO</text>
<text x="469" y="434.3" font-size="8.4" transform="rotate(-90 469 434.3)">GSK-3685032</text>
<text x="487.2" y="434.3" font-size="8.4" transform="rotate(-90 487.2 434.3)">DNMT3A-IN-1</text>
<text x="505.9" y="434.3" font-size="8.4" transform="rotate(-90 505.9 434.3)">Nanaomycin A</text>
<rect x="431.1" y="438.1" width="83.2" height="23.8" fill="#e6e6e6"/>
<rect x="437.7" y="447.2" width="15" height="4.6" rx="2.3" fill="#000" opacity="1" filter="url(#bl)"/>
<rect x="459" y="447.4" width="13.4" height="4.2" rx="2.1" fill="#000" opacity="0.97" filter="url(#bl)"/>
<rect x="478.6" y="447.6" width="13.2" height="3.8" rx="1.9" fill="#000" opacity="0.95" filter="url(#bl)"/>
<rect x="498.1" y="448.2" width="12" height="2.6" rx="1.3" fill="#000" opacity="0.22" filter="url(#bl)"/>
<rect x="437.7" y="439.8" width="15" height="8" rx="4" fill="#000" opacity="0.2" filter="url(#bl2)"/>
<rect x="458.7" y="440.5" width="14" height="7" rx="3.5" fill="#000" opacity="0.13" filter="url(#bl2)"/>
<rect x="478.2" y="440.5" width="14" height="7" rx="3.5" fill="#000" opacity="0.16" filter="url(#bl2)"/>
<rect x="431.1" y="464.4" width="83.2" height="23.8" fill="#e6e6e6"/>
<rect x="438" y="472.6" width="17" height="6.2" rx="3.1" fill="#000" opacity="1" filter="url(#bl)"/>
<rect x="456.3" y="473" width="16.4" height="5.8" rx="2.9" fill="#000" opacity="1" filter="url(#bl)"/>
<rect x="474.8" y="472.6" width="16.4" height="6.2" rx="3.1" fill="#000" opacity="1" filter="url(#bl)"/>
<rect x="492.8" y="472.2" width="16.4" height="6.6" rx="3.3" fill="#000" opacity="1" filter="url(#bl)"/>
<text x="516.2" y="453.4" font-size="9" textLength="21.5" lengthAdjust="spacingAndGlyphs">SPAK</text>
<path d="M517.6 459.3L522.4 459.3" stroke="#222" stroke-width="1.0"/>
<text x="525.7" y="461.5" font-size="6.4" textLength="17.3" lengthAdjust="spacingAndGlyphs">55kDa</text>
<text x="516.2" y="478.9" font-size="9" textLength="29.6" lengthAdjust="spacingAndGlyphs">GAPDH</text>
<path d="M517.6 486.4L522.4 486.4" stroke="#222" stroke-width="1.0"/>
<text x="525.7" y="488.6" font-size="6.4" textLength="17.3" lengthAdjust="spacingAndGlyphs">35kDa</text>
<text x="557" y="373.5" font-size="16.5" font-weight="bold" fill="#000">f</text>
<text x="645" y="362.8" font-size="8.4" text-anchor="middle">PLC/PRF/5</text>
<text x="589.7" y="418.3" font-size="8.2" text-anchor="middle" transform="rotate(-90 589.7 418.3)">Relative SPAK mRNA level</text>
<text x="606.3" y="455.2" font-size="8.3" text-anchor="end" fill="#444">0.0</text>
<text x="606.3" y="432.5" font-size="8.3" text-anchor="end" fill="#444">0.5</text>
<text x="606.3" y="409.8" font-size="8.3" text-anchor="end" fill="#444">1.0</text>
<text x="606.3" y="387.1" font-size="8.3" text-anchor="end" fill="#444">1.5</text>
<path d="M613.5 384.1V452.2H681.8M610.4 452.2h3.1M610.4 429.5h3.1M610.4 406.8h3.1M610.4 384.1h3.1M623.8 452.2v4.4M639.2 452.2v4.4M655.1 452.2v4.4M671.2 452.2v4.4" stroke="#333" stroke-width="0.9" fill="none"/>
<rect x="619" y="406.8" width="9.5" height="45.4" fill="#f0a535" stroke="#222" stroke-width="0.8"/>
<path d="M623.8 406.8V403.2M621.8 403.2h4M621.8 403.2h4" stroke="#222" stroke-width="0.8" fill="none"/>
<circle cx="621.8" cy="403.6" r="2" fill="#fff" stroke="#222" stroke-width="0.75"/>
<circle cx="625.8" cy="404.5" r="2" fill="#fff" stroke="#222" stroke-width="0.75"/>
<circle cx="623.8" cy="410" r="2" fill="#fff" stroke="#222" stroke-width="0.75"/>
<circle cx="620.8" cy="406.8" r="2" fill="#fff" stroke="#222" stroke-width="0.75"/>
<rect x="634.2" y="407.7" width="9.9" height="44.5" fill="#ef7f22" stroke="#222" stroke-width="0.8"/>
<path d="M639.2 407.7V406.3M637.2 406.3h4M637.2 406.3h4" stroke="#222" stroke-width="0.8" fill="none"/>
<circle cx="636.7" cy="409.1" r="2" fill="#fff" stroke="#222" stroke-width="0.75"/>
<circle cx="639.7" cy="407.3" r="2" fill="#fff" stroke="#222" stroke-width="0.75"/>
<circle cx="642.2" cy="406.3" r="2" fill="#fff" stroke="#222" stroke-width="0.75"/>
<rect x="650.5" y="410" width="9.3" height="42.2" fill="#f03a1c" stroke="#222" stroke-width="0.8"/>
<path d="M655.1 410V409.1M653.1 409.1h4M653.1 409.1h4" stroke="#222" stroke-width="0.8" fill="none"/>
<circle cx="652.6" cy="410" r="2" fill="#fff" stroke="#222" stroke-width="0.75"/>
<circle cx="655.1" cy="410.4" r="2" fill="#fff" stroke="#222" stroke-width="0.75"/>
<circle cx="657.6" cy="410" r="2" fill="#fff" stroke="#222" stroke-width="0.75"/>
<rect x="666.6" y="418.6" width="9.3" height="33.6" fill="#5f8ecf" stroke="#222" stroke-width="0.8"/>
<path d="M671.2 418.6V417.7M669.2 417.7h4M669.2 417.7h4" stroke="#222" stroke-width="0.8" fill="none"/>
<circle cx="668.7" cy="419.5" r="2" fill="#fff" stroke="#222" stroke-width="0.75"/>
<circle cx="671.2" cy="418.1" r="2" fill="#fff" stroke="#222" stroke-width="0.75"/>
<circle cx="673.7" cy="417.7" r="2" fill="#fff" stroke="#222" stroke-width="0.75"/>
<path d="M624.3 379.1V376.1H671.2V379.1" stroke="#333" stroke-width="0.8" fill="none"/>
<text x="645.5" y="371.5" font-size="7.2" text-anchor="middle">p=0.0099</text>
<path d="M624.3 388.6V385.6H656.2V388.6" stroke="#333" stroke-width="0.8" fill="none"/>
<text x="645.5" y="382.3" font-size="7.2" text-anchor="middle">p=0.2682</text>
<path d="M624.3 398.5V395.5H641.4V398.5" stroke="#333" stroke-width="0.8" fill="none"/>
<text x="634" y="392.8" font-size="7.2" text-anchor="middle">p=0.68</text>
<text x="626.7" y="456.8" font-size="8.4" text-anchor="end" transform="rotate(-90 626.7 456.8)">DMSO</text>
<text x="641.5" y="456.8" font-size="8.4" text-anchor="end" transform="rotate(-90 641.5 456.8)">GSK-3685032</text>
<text x="657.6" y="456.8" font-size="8.4" text-anchor="end" transform="rotate(-90 657.6 456.8)">DNMT3A-IN-1</text>
<text x="673.4" y="456.8" font-size="8.4" text-anchor="end" transform="rotate(-90 673.4 456.8)">Nanaomycin A</text>
<text x="0.8" y="477" font-size="16.5" font-weight="bold" fill="#000">d</text>
<text x="82.5" y="476" font-size="8.4" text-anchor="middle">PLC/PRF/5</text>
<text x="24.3" y="534" font-size="8" text-anchor="middle" transform="rotate(-90 24.3 534)">Relative SPAK mRNA level</text>
<text x="40.8" y="571.4" font-size="8.3" text-anchor="end" fill="#444">0.0</text>
<text x="40.8" y="548.9" font-size="8.3" text-anchor="end" fill="#444">0.5</text>
<text x="40.8" y="526.5" font-size="8.3" text-anchor="end" fill="#444">1.0</text>
<text x="40.8" y="504" font-size="8.3" text-anchor="end" fill="#444">1.5</text>
<path d="M50.8 501V568.4H119.3M44.3 568.4h6.5M44.3 545.9h6.5M44.3 523.5h6.5M44.3 501h6.5M60.8 568.4v4.4M77.2 568.4v4.4M92.5 568.4v4.4M108.4 568.4v4.4" stroke="#333" stroke-width="0.9" fill="none"/>
<rect x="55.8" y="523.5" width="9.9" height="44.9" fill="#f0a535" stroke="#222" stroke-width="0.8"/>
<path d="M60.8 523.5V519M58.8 519h4M58.8 519h4" stroke="#222" stroke-width="0.8" fill="none"/>
<circle cx="58.3" cy="524.4" r="2" fill="#fff" stroke="#222" stroke-width="0.75"/>
<circle cx="63.3" cy="523.9" r="2" fill="#fff" stroke="#222" stroke-width="0.75"/>
<circle cx="60.8" cy="519" r="2" fill="#fff" stroke="#222" stroke-width="0.75"/>
<rect x="72.3" y="524.8" width="9.8" height="43.6" fill="#ef7f22" stroke="#222" stroke-width="0.8"/>
<path d="M77.2 524.8V522.2M75.2 522.2h4M75.2 522.2h4" stroke="#222" stroke-width="0.8" fill="none"/>
<circle cx="75.2" cy="522.6" r="2" fill="#fff" stroke="#222" stroke-width="0.75"/>
<circle cx="79.2" cy="524.4" r="2" fill="#fff" stroke="#222" stroke-width="0.75"/>
<circle cx="77.2" cy="528" r="2" fill="#fff" stroke="#222" stroke-width="0.75"/>
<rect x="87.6" y="536.1" width="9.8" height="32.3" fill="#5aa6d2" stroke="#222" stroke-width="0.8"/>
<path d="M92.5 536.1V532.5M90.5 532.5h4M90.5 532.5h4" stroke="#222" stroke-width="0.8" fill="none"/>
<circle cx="90" cy="537" r="2" fill="#fff" stroke="#222" stroke-width="0.75"/>
<circle cx="95" cy="536.1" r="2" fill="#fff" stroke="#222" stroke-width="0.75"/>
<circle cx="92.5" cy="532.5" r="2" fill="#fff" stroke="#222" stroke-width="0.75"/>
<rect x="103.4" y="542.8" width="10" height="25.6" fill="#55b955" stroke="#222" stroke-width="0.8"/>
<path d="M108.4 542.8V541.5M106.4 541.5h4M106.4 541.5h4" stroke="#222" stroke-width="0.8" fill="none"/>
<circle cx="105.9" cy="542.8" r="2" fill="#fff" stroke="#222" stroke-width="0.75"/>
<circle cx="108.4" cy="541.5" r="2" fill="#fff" stroke="#222" stroke-width="0.75"/>
<circle cx="110.9" cy="543.3" r="2" fill="#fff" stroke="#222" stroke-width="0.75"/>
<path d="M60.9 489.7V486.7H108.4V489.7" stroke="#333" stroke-width="0.8" fill="none"/>
<text x="87" y="484.4" font-size="7.2" text-anchor="middle">p=0.0018</text>
<path d="M60.9 502.4V499.4H92.4V502.4" stroke="#333" stroke-width="0.8" fill="none"/>
<text x="77.7" y="497" font-size="7.2" text-anchor="middle">p=0.0194</text>
<path d="M60.9 514V511H77.1V514" stroke="#333" stroke-width="0.8" fill="none"/>
<text x="70" y="508.8" font-size="7.2" text-anchor="middle">p=0.3849</text>
<text x="59.8" y="585.5" font-size="8.3" text-anchor="middle">0</text>
<text x="76.2" y="585.5" font-size="8.3" text-anchor="middle">5</text>
<text x="92" y="585.5" font-size="8.3" text-anchor="middle">10</text>
<text x="108.4" y="585.5" font-size="8.3" text-anchor="middle">20</text>
<text x="83.9" y="596" font-size="8" text-anchor="middle">5-aza-dC incubation (uM)</text>
<text x="227" y="476" font-size="8.4" text-anchor="middle">HLF</text>
<text x="164.6" y="535" font-size="8" text-anchor="middle" transform="rotate(-90 164.6 535)">Relative SPAK mRNA level</text>
<text x="183.1" y="571.4" font-size="8.3" text-anchor="end" fill="#444">0.0</text>
<text x="183.1" y="548.9" font-size="8.3" text-anchor="end" fill="#444">0.5</text>
<text x="183.1" y="526.5" font-size="8.3" text-anchor="end" fill="#444">1.0</text>
<text x="183.1" y="504" font-size="8.3" text-anchor="end" fill="#444">1.5</text>
<path d="M193.1 501V568.4H261.7M186.6 568.4h6.5M186.6 545.9h6.5M186.6 523.5h6.5M186.6 501h6.5M203.5 568.4v4.4M219 568.4v4.4M234.8 568.4v4.4M250.3 568.4v4.4" stroke="#333" stroke-width="0.9" fill="none"/>
<rect x="198.2" y="523.5" width="10.5" height="44.9" fill="#f0a535" stroke="#222" stroke-width="0.8"/>
<path d="M203.5 523.5V519.9M201.5 519.9h4M201.5 519.9h4" stroke="#222" stroke-width="0.8" fill="none"/>
<circle cx="201" cy="523.5" r="2" fill="#fff" stroke="#222" stroke-width="0.75"/>
<circle cx="206" cy="523.5" r="2" fill="#fff" stroke="#222" stroke-width="0.75"/>
<circle cx="203.5" cy="519" r="2" fill="#fff" stroke="#222" stroke-width="0.75"/>
<rect x="213.9" y="540.6" width="10.1" height="27.8" fill="#ef7f22" stroke="#222" stroke-width="0.8"/>
<path d="M219 540.6V538.8M217 538.8h4M217 538.8h4" stroke="#222" stroke-width="0.8" fill="none"/>
<circle cx="216.5" cy="540.1" r="2" fill="#fff" stroke="#222" stroke-width="0.75"/>
<circle cx="221.5" cy="541.5" r="2" fill="#fff" stroke="#222" stroke-width="0.75"/>
<circle cx="219" cy="542.4" r="2" fill="#fff" stroke="#222" stroke-width="0.75"/>
<rect x="229.9" y="563" width="9.9" height="5.4" fill="#5aa6d2" stroke="#222" stroke-width="0.8"/>
<path d="M234.8 563V562.1M232.8 562.1h4M232.8 562.1h4" stroke="#222" stroke-width="0.8" fill="none"/>
<circle cx="232.3" cy="562.6" r="2" fill="#fff" stroke="#222" stroke-width="0.75"/>
<circle cx="234.8" cy="562.1" r="2" fill="#fff" stroke="#222" stroke-width="0.75"/>
<circle cx="237.3" cy="562.6" r="2" fill="#fff" stroke="#222" stroke-width="0.75"/>
<rect x="245.2" y="562.6" width="10.3" height="5.8" fill="#55b955" stroke="#222" stroke-width="0.8"/>
<path d="M250.3 562.6V561.2M248.3 561.2h4M248.3 561.2h4" stroke="#222" stroke-width="0.8" fill="none"/>
<circle cx="247.8" cy="562.1" r="2" fill="#fff" stroke="#222" stroke-width="0.75"/>
<circle cx="250.3" cy="561.7" r="2" fill="#fff" stroke="#222" stroke-width="0.75"/>
<circle cx="252.8" cy="563" r="2" fill="#fff" stroke="#222" stroke-width="0.75"/>
<path d="M203.6 491.9V488.9H250.7V491.9" stroke="#333" stroke-width="0.8" fill="none"/>
<text x="228.2" y="486.6" font-size="7.2" text-anchor="middle">p&lt;0.0001</text>
<path d="M203.6 503V500H235V503" stroke="#333" stroke-width="0.8" fill="none"/>
<text x="222" y="497.6" font-size="7.2" text-anchor="middle">p&lt;0.0001</text>
<path d="M203.6 514.9V511.9H219.6V514.9" stroke="#333" stroke-width="0.8" fill="none"/>
<text x="213.2" y="509.2" font-size="7.2" text-anchor="middle">p=0.0012</text>
<text x="203" y="585.5" font-size="8.3" text-anchor="middle">0</text>
<text x="218.5" y="585.5" font-size="8.3" text-anchor="middle">5</text>
<text x="235" y="585.5" font-size="8.3" text-anchor="middle">10</text>
<text x="250.3" y="585.5" font-size="8.3" text-anchor="middle">20</text>
<text x="235.4" y="596" font-size="8" text-anchor="middle">5-aza-dC incubation (uM)</text>
<text x="292.2" y="517" font-size="16.5" font-weight="bold" fill="#000">g</text>
<text x="379.5" y="516.2" font-size="8.4" text-anchor="middle">HLF</text>
<text x="319.2" y="569" font-size="8.2" text-anchor="middle" transform="rotate(-90 319.2 569)">Relative SPAK mRNA level</text>
<text x="338.4" y="607.2" font-size="8.3" text-anchor="end" fill="#444">0.0</text>
<text x="338.4" y="584.8" font-size="8.3" text-anchor="end" fill="#444">0.5</text>
<text x="338.4" y="562.3" font-size="8.3" text-anchor="end" fill="#444">1.0</text>
<text x="338.4" y="539.9" font-size="8.3" text-anchor="end" fill="#444">1.5</text>
<path d="M348.4 536.9V604.2H415.8M341.9 604.2h6.5M341.9 581.8h6.5M341.9 559.3h6.5M341.9 536.9h6.5M358.9 604.2v4.4M374.4 604.2v4.4M390.2 604.2v4.4M405.8 604.2v4.4" stroke="#333" stroke-width="0.9" fill="none"/>
<rect x="354.1" y="559.3" width="9.6" height="44.9" fill="#f0a535" stroke="#222" stroke-width="0.8"/>
<path d="M358.9 559.3V558.9M356.9 558.9h4M356.9 558.9h4" stroke="#222" stroke-width="0.8" fill="none"/>
<circle cx="356.1" cy="559.3" r="2" fill="#fff" stroke="#222" stroke-width="0.75"/>
<circle cx="358.9" cy="559.3" r="2" fill="#fff" stroke="#222" stroke-width="0.75"/>
<circle cx="361.7" cy="559.3" r="2" fill="#fff" stroke="#222" stroke-width="0.75"/>
<rect x="369.4" y="554.8" width="10" height="49.4" fill="#ef7f22" stroke="#222" stroke-width="0.8"/>
<path d="M374.4 554.8V552.6M372.4 552.6h4M372.4 552.6h4" stroke="#222" stroke-width="0.8" fill="none"/>
<circle cx="371.6" cy="553.9" r="2" fill="#fff" stroke="#222" stroke-width="0.75"/>
<circle cx="374.4" cy="557.1" r="2" fill="#fff" stroke="#222" stroke-width="0.75"/>
<circle cx="377.2" cy="554.8" r="2" fill="#fff" stroke="#222" stroke-width="0.75"/>
<rect x="385.4" y="561.1" width="9.5" height="43.1" fill="#f03a1c" stroke="#222" stroke-width="0.8"/>
<path d="M390.2 561.1V560.2M388.2 560.2h4M388.2 560.2h4" stroke="#222" stroke-width="0.8" fill="none"/>
<circle cx="387.7" cy="560.6" r="2" fill="#fff" stroke="#222" stroke-width="0.75"/>
<circle cx="390.2" cy="562.9" r="2" fill="#fff" stroke="#222" stroke-width="0.75"/>
<circle cx="392.7" cy="560.2" r="2" fill="#fff" stroke="#222" stroke-width="0.75"/>
<rect x="401.1" y="576.4" width="9.4" height="27.8" fill="#5f8ecf" stroke="#222" stroke-width="0.8"/>
<path d="M405.8 576.4V573.2M403.8 573.2h4M403.8 573.2h4" stroke="#222" stroke-width="0.8" fill="none"/>
<circle cx="403.3" cy="574.6" r="2" fill="#fff" stroke="#222" stroke-width="0.75"/>
<circle cx="405.8" cy="578.6" r="2" fill="#fff" stroke="#222" stroke-width="0.75"/>
<circle cx="408.3" cy="573.7" r="2" fill="#fff" stroke="#222" stroke-width="0.75"/>
<path d="M358.6 529.6V526.6H406V529.6" stroke="#333" stroke-width="0.8" fill="none"/>
<text x="388.4" y="524" font-size="7.2" text-anchor="middle">p=0.0023</text>
<path d="M358.6 539.8V536.8H390.3V539.8" stroke="#333" stroke-width="0.8" fill="none"/>
<text x="376" y="534.6" font-size="7.2" text-anchor="middle">p=0.19</text>
<path d="M358.6 550V547H374.9V550" stroke="#333" stroke-width="0.8" fill="none"/>
<text x="374" y="544.8" font-size="7.2" text-anchor="middle">p=0.062</text>
<text x="361.6" y="612.6" font-size="8.4" text-anchor="end" transform="rotate(-90 361.6 612.6)">DMSO</text>
<text x="377.3" y="612.6" font-size="8.4" text-anchor="end" transform="rotate(-90 377.3 612.6)">GSK-3685032</text>
<text x="393.3" y="612.6" font-size="8.4" text-anchor="end" transform="rotate(-90 393.3 612.6)">DNMT3A-IN-1</text>
<text x="409" y="612.6" font-size="8.4" text-anchor="end" transform="rotate(-90 409 612.6)">Nanaomycin A</text>
<text x="426.8" y="515.3" font-size="16.5" font-weight="bold" fill="#000">h</text>
<text x="476.2" y="529" font-size="8.4" text-anchor="middle">HLF</text>
<path d="M449.6 532.7L507.9 532.7" stroke="#222" stroke-width="0.9"/>
<text x="462.3" y="585.8" font-size="8.4" transform="rotate(-90 462.3 585.8)">siNC</text>
<text x="479.8" y="585.8" font-size="8.4" transform="rotate(-90 479.8 585.8)">siDNMT3B-1</text>
<text x="498" y="585.8" font-size="8.4" transform="rotate(-90 498 585.8)">siDNMT3B-2</text>
<rect x="447.9" y="588.3" width="57" height="24.8" fill="#e6e6e6"/>
<rect x="452.9" y="596.7" width="11.5" height="6.6" rx="3.3" fill="#000" opacity="1" filter="url(#bl)"/>
<rect x="453.7" y="590.5" width="10" height="20" rx="5" fill="#000" opacity="0.3" filter="url(#bl2)"/>
<rect x="458" y="598.2" width="8" height="4" rx="2" fill="#000" opacity="0.8" filter="url(#bl)"/>
<rect x="471" y="598.3" width="11" height="4.2" rx="2.1" fill="#000" opacity="0.9" filter="url(#bl)"/>
<rect x="489.3" y="598.3" width="11" height="4.2" rx="2.1" fill="#000" opacity="0.85" filter="url(#bl)"/>
<rect x="471" y="593" width="11" height="14" rx="5.5" fill="#000" opacity="0.08" filter="url(#bl2)"/>
<rect x="489.3" y="593" width="11" height="14" rx="5.5" fill="#000" opacity="0.08" filter="url(#bl2)"/>
<rect x="447.9" y="615.3" width="57" height="24.4" fill="#e6e6e6"/>
<rect x="453.7" y="626.1" width="11.4" height="4.4" rx="2.2" fill="#000" opacity="1" filter="url(#bl)"/>
<rect x="472" y="626.7" width="11.4" height="3.8" rx="1.9" fill="#000" opacity="0.75" filter="url(#bl)"/>
<rect x="489.9" y="626.8" width="10.8" height="3.6" rx="1.8" fill="#000" opacity="0.58" filter="url(#bl)"/>
<rect x="447.9" y="642" width="57" height="24.7" fill="#e6e6e6"/>
<rect x="451.4" y="652.7" width="15" height="7.6" rx="3.8" fill="#000" opacity="1" filter="url(#bl)"/>
<rect x="468.2" y="652.8" width="15.5" height="7.4" rx="3.7" fill="#000" opacity="1" filter="url(#bl)"/>
<rect x="486.6" y="652.6" width="15.5" height="7.4" rx="3.7" fill="#000" opacity="1" filter="url(#bl)"/>
<text x="508.3" y="604.5" font-size="9" textLength="34.3" lengthAdjust="spacingAndGlyphs">DNMT3B</text>
<path d="M507.5 611.4L512.3 611.4" stroke="#222" stroke-width="1.0"/>
<text x="515.6" y="613.6" font-size="6.4" textLength="17.3" lengthAdjust="spacingAndGlyphs">70kDa</text>
<text x="508.3" y="631.6" font-size="9" textLength="21.5" lengthAdjust="spacingAndGlyphs">SPAK</text>
<path d="M507.5 638L512.3 638" stroke="#222" stroke-width="1.0"/>
<text x="515.6" y="640.2" font-size="6.4" textLength="17.3" lengthAdjust="spacingAndGlyphs">55kDa</text>
<text x="508.3" y="659.6" font-size="9" textLength="29.6" lengthAdjust="spacingAndGlyphs">GAPDH</text>
<path d="M507.5 664.5L512.3 664.5" stroke="#222" stroke-width="1.0"/>
<text x="515.6" y="666.7" font-size="6.4" textLength="17.3" lengthAdjust="spacingAndGlyphs">35kDa</text>
<text x="607.3" y="528.4" font-size="8.4" text-anchor="middle">PLC</text>
<path d="M580.8 532.7L638.6 532.7" stroke="#222" stroke-width="0.9"/>
<text x="593.9" y="585.4" font-size="8.4" transform="rotate(-90 593.9 585.4)">siNC</text>
<text x="612.6" y="585.4" font-size="8.4" transform="rotate(-90 612.6 585.4)">siDNMT3B-1</text>
<text x="631.4" y="585.4" font-size="8.4" transform="rotate(-90 631.4 585.4)">siDNMT3B-2</text>
<rect x="574" y="589" width="63.8" height="22.1" fill="#e6e6e6"/>
<rect x="579.2" y="598.2" width="12.6" height="5.6" rx="2.8" fill="#000" opacity="0.6" filter="url(#bl2)"/>
<rect x="597.5" y="599.1" width="12.2" height="4.6" rx="2.3" fill="#000" opacity="0.28" filter="url(#bl2)"/>
<rect x="616" y="599.2" width="14" height="4.4" rx="2.2" fill="#000" opacity="0.32" filter="url(#bl2)"/>
<rect x="626.8" y="598" width="3.6" height="5" rx="1.8" fill="#000" opacity="0.6" filter="url(#bl)"/>
<rect x="574" y="616.1" width="63.8" height="21.7" fill="#e6e6e6"/>
<rect x="579.8" y="625.6" width="12.2" height="4" rx="2" fill="#000" opacity="1" filter="url(#bl)"/>
<rect x="598.1" y="625.9" width="12.8" height="3.5" rx="1.8" fill="#000" opacity="0.72" filter="url(#bl)"/>
<rect x="619.1" y="626" width="11.8" height="3.3" rx="1.6" fill="#000" opacity="0.52" filter="url(#bl)"/>
<rect x="574" y="643.1" width="63.8" height="21.8" fill="#e6e6e6"/>
<rect x="577.3" y="650.5" width="16.4" height="7.4" rx="3.7" fill="#000" opacity="1" filter="url(#bl)"/>
<rect x="596" y="651.5" width="15.4" height="5.8" rx="2.9" fill="#000" opacity="0.9" filter="url(#bl)"/>
<rect x="614.3" y="649.5" width="18.4" height="7.8" rx="3.9" fill="#000" opacity="1" filter="url(#bl)"/>
<text x="639.4" y="604.5" font-size="9" textLength="34.3" lengthAdjust="spacingAndGlyphs">DNMT3B</text>
<path d="M641 609.3L645.8 609.3" stroke="#222" stroke-width="1.0"/>
<text x="649.1" y="611.5" font-size="6.4" textLength="17.3" lengthAdjust="spacingAndGlyphs">70kDa</text>
<text x="639.4" y="631" font-size="9" textLength="21.5" lengthAdjust="spacingAndGlyphs">SPAK</text>
<path d="M641 635.5L645.8 635.5" stroke="#222" stroke-width="1.0"/>
<text x="649.1" y="637.7" font-size="6.4" textLength="17.3" lengthAdjust="spacingAndGlyphs">55kDa</text>
<text x="639.4" y="659.6" font-size="9" textLength="29.6" lengthAdjust="spacingAndGlyphs">GAPDH</text>
<path d="M641 662.9L645.8 662.9" stroke="#222" stroke-width="1.0"/>
<text x="649.1" y="665.1" font-size="6.4" textLength="17.3" lengthAdjust="spacingAndGlyphs">35kDa</text>
<text x="3.5" y="624.5" font-size="16.5" font-weight="bold" fill="#000">i</text>
<text x="77.7" y="626" font-size="8.4" text-anchor="middle">HLF</text>
<text x="28.4" y="681" font-size="8" text-anchor="middle" transform="rotate(-90 28.4 681)">Relative SPAK mRNA level</text>
<text x="44.3" y="716.4" font-size="8.3" text-anchor="end" fill="#444">0.0</text>
<text x="44.3" y="693.8" font-size="8.3" text-anchor="end" fill="#444">0.5</text>
<text x="44.3" y="671.1" font-size="8.3" text-anchor="end" fill="#444">1.0</text>
<text x="44.3" y="648.5" font-size="8.3" text-anchor="end" fill="#444">1.5</text>
<path d="M54.3 645.5V713.4H122.6M47.8 713.4h6.5M47.8 690.8h6.5M47.8 668.1h6.5M47.8 645.5h6.5M68.2 713.4v6.8M88.7 713.4v6.8M109 713.4v6.8" stroke="#333" stroke-width="0.9" fill="none"/>
<rect x="62" y="668.1" width="12.4" height="45.3" fill="#f0a535" stroke="#222" stroke-width="0.8"/>
<path d="M68.2 668.1V662.7M66.2 662.7h4M66.2 662.7h4" stroke="#222" stroke-width="0.8" fill="none"/>
<circle cx="68.2" cy="663.6" r="2" fill="#fff" stroke="#222" stroke-width="0.75"/>
<circle cx="66.7" cy="668.1" r="2" fill="#fff" stroke="#222" stroke-width="0.75"/>
<circle cx="68.2" cy="672.6" r="2" fill="#fff" stroke="#222" stroke-width="0.75"/>
<rect x="82.2" y="704.3" width="13.1" height="9.1" fill="#5aa6d2" stroke="#222" stroke-width="0.8"/>
<path d="M88.7 704.3V703.4M86.7 703.4h4M86.7 703.4h4" stroke="#222" stroke-width="0.8" fill="none"/>
<circle cx="85.7" cy="704.8" r="2" fill="#fff" stroke="#222" stroke-width="0.75"/>
<circle cx="88.7" cy="703.9" r="2" fill="#fff" stroke="#222" stroke-width="0.75"/>
<circle cx="91.7" cy="704.3" r="2" fill="#fff" stroke="#222" stroke-width="0.75"/>
<rect x="102.5" y="706.6" width="13.1" height="6.8" fill="#55b955" stroke="#222" stroke-width="0.8"/>
<path d="M109 706.6V705.7M107 705.7h4M107 705.7h4" stroke="#222" stroke-width="0.8" fill="none"/>
<circle cx="106" cy="707.1" r="2" fill="#fff" stroke="#222" stroke-width="0.75"/>
<circle cx="109" cy="706.2" r="2" fill="#fff" stroke="#222" stroke-width="0.75"/>
<circle cx="112" cy="706.2" r="2" fill="#fff" stroke="#222" stroke-width="0.75"/>
<path d="M68.5 647.9V644.9H109V647.9" stroke="#333" stroke-width="0.8" fill="none"/>
<text x="87.6" y="642.5" font-size="7.2" text-anchor="middle">p=0.0004</text>
<path d="M68.5 657.7V654.7H89.8V657.7" stroke="#333" stroke-width="0.8" fill="none"/>
<text x="84.3" y="652.3" font-size="7.2" text-anchor="middle">p=0.0004</text>
<text x="225.4" y="627" font-size="8.4" text-anchor="middle">PLC/PRF/5</text>
<text x="163.4" y="681" font-size="8" text-anchor="middle" transform="rotate(-90 163.4 681)">Relative SPAK mRNA level</text>
<text x="182.1" y="714.7" font-size="8.3" text-anchor="end" fill="#444">0.0</text>
<text x="182.1" y="692.1" font-size="8.3" text-anchor="end" fill="#444">0.5</text>
<text x="182.1" y="669.4" font-size="8.3" text-anchor="end" fill="#444">1.0</text>
<text x="182.1" y="646.8" font-size="8.3" text-anchor="end" fill="#444">1.5</text>
<path d="M192.1 643.8V711.7H260M185.6 711.7h6.5M185.6 689.1h6.5M185.6 666.4h6.5M185.6 643.8h6.5M205.5 711.7v6.8M225.9 711.7v6.8M246.2 711.7v6.8" stroke="#333" stroke-width="0.9" fill="none"/>
<rect x="199.2" y="666.4" width="12.7" height="45.3" fill="#f0a535" stroke="#222" stroke-width="0.8"/>
<path d="M205.5 666.4V665.9M203.5 665.9h4M203.5 665.9h4" stroke="#222" stroke-width="0.8" fill="none"/>
<circle cx="202.5" cy="666.9" r="2" fill="#fff" stroke="#222" stroke-width="0.75"/>
<circle cx="205.5" cy="665.9" r="2" fill="#fff" stroke="#222" stroke-width="0.75"/>
<circle cx="208.5" cy="666.4" r="2" fill="#fff" stroke="#222" stroke-width="0.75"/>
<rect x="219.3" y="681.3" width="13.1" height="30.4" fill="#5b86c8" stroke="#222" stroke-width="0.8"/>
<path d="M225.9 681.3V680.4M223.9 680.4h4M223.9 680.4h4" stroke="#222" stroke-width="0.8" fill="none"/>
<circle cx="222.9" cy="682.7" r="2" fill="#fff" stroke="#222" stroke-width="0.75"/>
<circle cx="225.9" cy="680.9" r="2" fill="#fff" stroke="#222" stroke-width="0.75"/>
<circle cx="228.9" cy="680.9" r="2" fill="#fff" stroke="#222" stroke-width="0.75"/>
<rect x="239.6" y="685.4" width="13.2" height="26.3" fill="#5cb85c" stroke="#222" stroke-width="0.8"/>
<path d="M246.2 685.4V683.6M244.2 683.6h4M244.2 683.6h4" stroke="#222" stroke-width="0.8" fill="none"/>
<circle cx="243.2" cy="685.9" r="2" fill="#fff" stroke="#222" stroke-width="0.75"/>
<circle cx="246.2" cy="683.6" r="2" fill="#fff" stroke="#222" stroke-width="0.75"/>
<circle cx="249.2" cy="685.4" r="2" fill="#fff" stroke="#222" stroke-width="0.75"/>
<path d="M206.1 642.9V639.9H247.3V642.9" stroke="#333" stroke-width="0.8" fill="none"/>
<text x="226.5" y="637.5" font-size="7.2" text-anchor="middle">p=0.0004</text>
<path d="M206.1 653.4V650.4H228V653.4" stroke="#333" stroke-width="0.8" fill="none"/>
<text x="222.8" y="648.2" font-size="7.2" text-anchor="middle">p&lt;0.0001</text>
<text x="74.4" y="724.7" font-size="8.4" text-anchor="end" transform="rotate(-45 74.4 724.7)">Control</text>
<text x="92" y="726" font-size="8.4" text-anchor="end" transform="rotate(-45 92 726)">siDNMT3B-1</text>
<text x="111.3" y="726" font-size="8.4" text-anchor="end" transform="rotate(-45 111.3 726)">siDNMT3B-2</text>
<text x="211.6" y="725.5" font-size="8.4" text-anchor="end" transform="rotate(-45 211.6 725.5)">Control</text>
<text x="229.3" y="725" font-size="8.4" text-anchor="end" transform="rotate(-45 229.3 725)">siDNMT3B-1</text>
<text x="248.8" y="725" font-size="8.4" text-anchor="end" transform="rotate(-45 248.8 725)">siDNMT3B-2</text>
<text x="0.8" y="790.5" font-size="16.5" font-weight="bold" fill="#000">j</text>
<text x="44.3" y="792.2" font-size="7.8" textLength="107.3" lengthAdjust="spacingAndGlyphs">chr2:167,952,022-168,249,595</text>
<rect x="43.4" y="794.6" width="76" height="6.1" fill="#fff"/>
<rect x="121.4" y="794.6" width="121.2" height="6.1" fill="#fff"/>
<rect x="43.4" y="794.6" width="1.2" height="6.1" fill="#222"/>
<rect x="47.4" y="794.6" width="1" height="6.1" fill="#111"/>
<rect x="50.4" y="794.6" width="0.6" height="6.1" fill="#333"/>
<rect x="55" y="794.6" width="1.1" height="6.1" fill="#555"/>
<rect x="57.6" y="794.6" width="1.6" height="6.1" fill="#111"/>
<rect x="63.8" y="794.6" width="0.7" height="6.1" fill="#888"/>
<rect x="66" y="794.6" width="0.8" height="6.1" fill="#111"/>
<rect x="68.5" y="794.6" width="0.8" height="6.1" fill="#777"/>
<rect x="72.2" y="794.6" width="1.8" height="6.1" fill="#111"/>
<rect x="74" y="794.6" width="1.6" height="6.1" fill="#999"/>
<rect x="75.6" y="794.6" width="2" height="6.1" fill="#111"/>
<rect x="83" y="794.6" width="3" height="6.1" fill="#111"/>
<rect x="86" y="794.6" width="1.5" height="6.1" fill="#333"/>
<rect x="87.5" y="794.6" width="1.2" height="6.1" fill="#888"/>
<rect x="88.7" y="794.6" width="4.2" height="6.1" fill="#111"/>
<rect x="94" y="794.6" width="1" height="6.1" fill="#999"/>
<rect x="95" y="794.6" width="1" height="6.1" fill="#555"/>
<rect x="96.5" y="794.6" width="1" height="6.1" fill="#777"/>
<rect x="98" y="794.6" width="1" height="6.1" fill="#555"/>
<rect x="99.5" y="794.6" width="1" height="6.1" fill="#888"/>
<rect x="104" y="794.6" width="8" height="6.1" fill="#111"/>
<rect x="123.5" y="794.6" width="2.9" height="6.1" fill="#111"/>
<rect x="129.2" y="794.6" width="2.8" height="6.1" fill="#999"/>
<rect x="132" y="794.6" width="2" height="6.1" fill="#333"/>
<rect x="134" y="794.6" width="1.9" height="6.1" fill="#bbb"/>
<rect x="135.9" y="794.6" width="2.8" height="6.1" fill="#666"/>
<rect x="140.6" y="794.6" width="2.9" height="6.1" fill="#111"/>
<rect x="143.5" y="794.6" width="1.5" height="6.1" fill="#aaa"/>
<rect x="145" y="794.6" width="1.5" height="6.1" fill="#666"/>
<rect x="147" y="794.6" width="1" height="6.1" fill="#999"/>
<rect x="148.5" y="794.6" width="0.7" height="6.1" fill="#555"/>
<rect x="150" y="794.6" width="1" height="6.1" fill="#999"/>
<rect x="152" y="794.6" width="1" height="6.1" fill="#aaa"/>
<rect x="155.8" y="794.6" width="4.7" height="6.1" fill="#111"/>
<rect x="160.5" y="794.6" width="4.2" height="6.1" fill="#555"/>
<rect x="167.2" y="794.6" width="2.8" height="6.1" fill="#111"/>
<rect x="172" y="794.6" width="3.7" height="6.1" fill="#111"/>
<rect x="175.7" y="794.6" width="4.8" height="6.1" fill="#555"/>
<rect x="188" y="794.6" width="3.9" height="6.1" fill="#111"/>
<rect x="191.9" y="794.6" width="2.8" height="6.1" fill="#888"/>
<rect x="194.7" y="794.6" width="3.8" height="6.1" fill="#222"/>
<rect x="198.5" y="794.6" width="3.8" height="6.1" fill="#999"/>
<rect x="202.3" y="794.6" width="2.9" height="6.1" fill="#333"/>
<rect x="209" y="794.6" width="1.8" height="6.1" fill="#111"/>
<rect x="213.7" y="794.6" width="5.7" height="6.1" fill="#111"/>
<rect x="224.1" y="794.6" width="6.7" height="6.1" fill="#111"/>
<rect x="230.8" y="794.6" width="1.9" height="6.1" fill="#666"/>
<rect x="236.5" y="794.6" width="2.8" height="6.1" fill="#111"/>
<rect x="43.4" y="794.6" width="76" height="6.1" fill="none" stroke="#222" stroke-width="0.8" rx="1"/>
<rect x="121.4" y="794.6" width="121.2" height="6.1" fill="none" stroke="#222" stroke-width="0.8" rx="1"/>
<path d="M119 795.4 L121.8 799.9 M119 799.9 L121.8 795.4" stroke="#d22" stroke-width="1.0" fill="none"/>
<rect x="180.4" y="794.1" width="1.6" height="7.1" fill="#d62020"/>
<path d="M43.5 807.6L123.6 807.6" stroke="#222" stroke-width="0.9"/>
<path d="M162.1 807.6L242.8 807.6" stroke="#222" stroke-width="0.9"/>
<text x="130" y="810.5" font-size="7.8">297 kb</text>
<text x="53.5" y="822.5" font-size="7.8">168,000 kb</text>
<text x="120.6" y="822.5" font-size="7.8">168,100 kb</text>
<text x="189.7" y="822.5" font-size="7.8">168,200 kb</text>
<rect x="45" y="819.5" width="0.8" height="0.9" fill="#444"/>
<rect x="240.8" y="819.5" width="0.8" height="0.9" fill="#444"/>
<path d="M43.5 828.2H241.8M76 828.2v-2M109.3 828.2v-2M142.7 828.2v-2M175.4 828.2v-2M209.1 828.2v-2" stroke="#333" stroke-width="0.9" fill="none"/>
<path d="M28 828.5L28 933" stroke="#555" stroke-width="0.9"/>
<text x="24.3" y="933" font-size="8.2" transform="rotate(-90 24.3 933)" textLength="34.8" lengthAdjust="spacingAndGlyphs">ENCODE</text>
<text x="24.3" y="891" font-size="8.2" transform="rotate(-90 24.3 891)" textLength="26.5" lengthAdjust="spacingAndGlyphs">HepG2</text>
<text x="39.8" y="879" font-size="8.4" transform="rotate(-90 39.8 879)">H3K36me3</text>
<text x="39.8" y="932.2" font-size="8.4" transform="rotate(-90 39.8 932.2)">DNMT3B</text>
<text x="45" y="840.4" font-size="8.5">0-10</text>
<text x="45" y="898.6" font-size="8.5">0-6</text>
<path d="M43.8 877.7v-15.6M44.2 877.7v-7.2M44.8 877.7v-6.8M45.2 877.7v-11M45.8 877.7v-7.3M46.2 877.7v-6M46.8 877.7v-14.7M47.2 877.7v-7.3M47.8 877.7v-8.3M48.2 877.7v-18M48.8 877.7v-11.5M49.2 877.7v-17.6M49.8 877.7v-10M50.2 877.7v-7.1M50.8 877.7v-21M51.2 877.7v-16.4M51.8 877.7v-11.6M52.2 877.7v-16.5M52.8 877.7v-16.8M53.2 877.7v-7.1M53.8 877.7v-7.5M54.2 877.7v-18.6M54.8 877.7v-11.9M55.2 877.7v-12.9M55.8 877.7v-22M56.2 877.7v-9.6M56.8 877.7v-11M57.2 877.7v-19.6M57.8 877.7v-13.8M58.2 877.7v-13.9M58.8 877.7v-25.5M59.2 877.7v-22.3M59.8 877.7v-23.9M60.2 877.7v-12.1M60.8 877.7v-29.3M61.2 877.7v-17.5M61.8 877.7v-9.1M62.2 877.7v-9.5M62.8 877.7v-32.4M63.2 877.7v-17.2M63.8 877.7v-30.9M64.2 877.7v-14.7M64.8 877.7v-14.7M65.2 877.7v-19.6M65.8 877.7v-14.4M66.2 877.7v-16.6M66.8 877.7v-22.4M67.2 877.7v-11.1M67.8 877.7v-11.9M68.2 877.7v-44.6M68.8 877.7v-11.7M69.2 877.7v-22.9M69.8 877.7v-10M70.2 877.7v-7.9M70.8 877.7v-26M71.2 877.7v-8.7M71.8 877.7v-35.3M72.2 877.7v-13.7M72.8 877.7v-8.3M73.2 877.7v-35.9M73.8 877.7v-40.1M74.2 877.7v-21.3M74.8 877.7v-8.9M75.2 877.7v-9.8M75.8 877.7v-9.7M76.2 877.7v-10.4M76.8 877.7v-13.2M77.2 877.7v-19.3M77.8 877.7v-11.1M78.2 877.7v-10.4M78.8 877.7v-10.7M79.2 877.7v-27.6M79.8 877.7v-15.2M80.2 877.7v-37.9M80.8 877.7v-33.7M81.2 877.7v-23.8M81.8 877.7v-37.6M82.2 877.7v-10.5M82.8 877.7v-15.7M83.2 877.7v-14.2M83.8 877.7v-7.7M84.2 877.7v-23.7M84.8 877.7v-6.1M85.2 877.7v-27.3M85.8 877.7v-10.6M86.2 877.7v-9.3M86.8 877.7v-8.3M87.2 877.7v-40.2M87.8 877.7v-21.4M88.2 877.7v-11.3M88.8 877.7v-15.8M89.2 877.7v-11.5M89.8 877.7v-15.7M90.2 877.7v-24.1M90.8 877.7v-10.5M91.2 877.7v-4.4M91.8 877.7v-9.2M92.2 877.7v-31.5M92.8 877.7v-14.4M93.2 877.7v-45.1M93.8 877.7v-8.8M94.2 877.7v-14.4M94.8 877.7v-11.8M95.2 877.7v-4.4M95.8 877.7v-33.3M96.2 877.7v-10.5M96.8 877.7v-12.8M97.2 877.7v-12.8M97.8 877.7v-7.5M98.2 877.7v-11.3M98.8 877.7v-29.6M99.2 877.7v-17.6M99.8 877.7v-17.6M100.2 877.7v-17.4M100.8 877.7v-6.3M101.2 877.7v-4M101.8 877.7v-12.3M102.2 877.7v-6.3M102.8 877.7v-8.4M103.2 877.7v-14.4M103.8 877.7v-9.1M104.2 877.7v-17.4M104.8 877.7v-9.3M105.2 877.7v-12M105.8 877.7v-6.3M106.2 877.7v-5.5M106.8 877.7v-15.6M107.2 877.7v-7.5M107.8 877.7v-16.5M108.2 877.7v-22.1M108.8 877.7v-6.6M109.2 877.7v-16.1M109.8 877.7v-5.5M110.2 877.7v-14.4M110.8 877.7v-45.5M111.2 877.7v-10.6M111.8 877.7v-9.1M112.2 877.7v-14.9M112.8 877.7v-15.9M113.2 877.7v-6.1M113.8 877.7v-6.5M114.2 877.7v-20.2M114.8 877.7v-5.1M115.2 877.7v-18.3M115.8 877.7v-12.5M116.2 877.7v-13.6M116.8 877.7v-28.8M117.2 877.7v-12.1M117.8 877.7v-6.8M118.2 877.7v-2.3M118.8 877.7v-26M119.2 877.7v-18.3M119.8 877.7v-46M120.2 877.7v-5.6M120.8 877.7v-15.6M121.2 877.7v-23.8M121.8 877.7v-18.2M122.2 877.7v-17.8M122.8 877.7v-9.8M123.2 877.7v-6.5M123.8 877.7v-12.9M124.2 877.7v-7.2M124.8 877.7v-18.6M125.2 877.7v-10.1M125.8 877.7v-13.5M126.2 877.7v-18.3M126.8 877.7v-28.1M127.2 877.7v-13.8M127.8 877.7v-11.9M128.2 877.7v-3.1M128.8 877.7v-18.3M129.2 877.7v-7.9M129.8 877.7v-3.5M130.2 877.7v-7.5M130.8 877.7v-8.5M131.2 877.7v-13M131.8 877.7v-19.5M132.2 877.7v-9M132.8 877.7v-11.1M133.2 877.7v-29M133.8 877.7v-11.1M134.2 877.7v-22.3M134.8 877.7v-15M135.2 877.7v-22.8M135.8 877.7v-29.8M136.2 877.7v-6.9M136.8 877.7v-22.6M137.2 877.7v-10.9M137.8 877.7v-19.4M138.2 877.7v-5.7M138.8 877.7v-8.1M139.2 877.7v-11.2M139.8 877.7v-5.7M140.2 877.7v-5.5M140.8 877.7v-5.5M141.2 877.7v-13.5M141.8 877.7v-11.6M142.2 877.7v-25.3M142.8 877.7v-12.3M143.2 877.7v-6.9M143.8 877.7v-5.8M144.2 877.7v-12.4M144.8 877.7v-30.6M145.2 877.7v-23.6M145.8 877.7v-34.3M146.2 877.7v-9.8M146.8 877.7v-15.1M147.2 877.7v-10.5M147.8 877.7v-11.3M148.2 877.7v-16.2M148.8 877.7v-11M149.2 877.7v-10.5M149.8 877.7v-11.1M150.2 877.7v-27.3M150.8 877.7v-9.9M151.2 877.7v-16.8M151.8 877.7v-14.6M152.2 877.7v-33.7M152.8 877.7v-7.7M153.2 877.7v-14M153.8 877.7v-15.6M154.2 877.7v-29.8M154.8 877.7v-11.3M155.2 877.7v-25.2M155.8 877.7v-20.7M156.2 877.7v-13.6M156.8 877.7v-25.6M157.2 877.7v-20.6M157.8 877.7v-11.5M158.2 877.7v-14.9M158.8 877.7v-6.8M159.2 877.7v-15M159.8 877.7v-19.3M160.2 877.7v-17.8M160.8 877.7v-17.6M161.2 877.7v-13.1M161.8 877.7v-23.1M162.2 877.7v-14.6M162.8 877.7v-12.6M163.2 877.7v-10.8M163.8 877.7v-16.5M164.2 877.7v-16.1M164.8 877.7v-14.2M165.2 877.7v-18M165.8 877.7v-14.6M166.2 877.7v-18.7M166.8 877.7v-13.1M167.2 877.7v-11.9M167.8 877.7v-16M168.2 877.7v-14.4M168.8 877.7v-18M169.2 877.7v-19.6M169.8 877.7v-15.2M170.2 877.7v-11.6M170.8 877.7v-23.2M171.2 877.7v-10.6M171.8 877.7v-11.1M172.2 877.7v-24.3M172.8 877.7v-17.8M173.2 877.7v-12.9M173.8 877.7v-10.5M174.2 877.7v-13.9M174.8 877.7v-11.5M175.2 877.7v-8.4M175.8 877.7v-26.6M176.2 877.7v-19.4M176.8 877.7v-12.7M177.2 877.7v-9.9M177.8 877.7v-45.5M178.2 877.7v-17M178.8 877.7v-7.4M179.2 877.7v-11.7M179.8 877.7v-23.5M180.2 877.7v-16.9M180.8 877.7v-11M181.2 877.7v-6.4M181.8 877.7v-20.7M182.2 877.7v-7.8M182.8 877.7v-10.5M183.2 877.7v-17M183.8 877.7v-38M184.2 877.7v-7.9M184.8 877.7v-21.6M185.2 877.7v-8.1M185.8 877.7v-12.8M186.2 877.7v-8.2M186.8 877.7v-8.9M187.2 877.7v-10.1M187.8 877.7v-6.1M188.2 877.7v-4.8M188.8 877.7v-10.1M189.2 877.7v-6.6M189.8 877.7v-9.8M190.2 877.7v-20.7M190.8 877.7v-12M191.2 877.7v-11.4M191.8 877.7v-11.8M192.2 877.7v-8.3M192.8 877.7v-8.1M193.2 877.7v-8M193.8 877.7v-26.4M194.2 877.7v-33.9M194.8 877.7v-7.5M195.2 877.7v-22.9M195.8 877.7v-11.3M196.2 877.7v-12.5M196.8 877.7v-46M197.2 877.7v-8.1M197.8 877.7v-10.6M198.2 877.7v-14.7M198.8 877.7v-24.5M199.2 877.7v-5.4M199.8 877.7v-3.3M200.2 877.7v-12.8M200.8 877.7v-7.5M201.2 877.7v-6.8M201.8 877.7v-6.7M202.2 877.7v-6.6M202.8 877.7v-6.1M203.2 877.7v-23.4M203.8 877.7v-10.5M204.2 877.7v-3.3M204.8 877.7v-3.1M205.2 877.7v-8.7M205.8 877.7v-8.5M206.2 877.7v-1.6M206.8 877.7v-11.4M207.2 877.7v-5.9M207.8 877.7v-9.8M208.2 877.7v-19.6M208.8 877.7v-11.2M209.2 877.7v-6.7M209.8 877.7v-5.3M210.2 877.7v-4.4M210.8 877.7v-18.1M211.2 877.7v-9.3M211.8 877.7v-14.3M212.2 877.7v-8.8M212.8 877.7v-12.9M213.2 877.7v-8.3M213.8 877.7v-5.6M214.2 877.7v-3.8M214.8 877.7v-34.6M215.2 877.7v-24M215.8 877.7v-8M216.2 877.7v-10.7M216.8 877.7v-6M217.2 877.7v-5.2M217.8 877.7v-9.5M218.2 877.7v-5.4M218.8 877.7v-7.4M219.2 877.7v-8.7M219.8 877.7v-34.2M220.2 877.7v-5.9M220.8 877.7v-9.9M221.2 877.7v-8.5M221.8 877.7v-5.9M222.2 877.7v-39M222.8 877.7v-10.6M223.2 877.7v-7.7M223.8 877.7v-13.1M224.2 877.7v-28.4M224.8 877.7v-9.1M225.2 877.7v-15M225.8 877.7v-5.8M226.2 877.7v-19.7M226.8 877.7v-31M227.2 877.7v-6.2M227.8 877.7v-28.6M228.2 877.7v-6.1M228.8 877.7v-29M229.2 877.7v-9M229.8 877.7v-4.8M230.2 877.7v-4.3M230.8 877.7v-5.7M231.2 877.7v-12.9M231.8 877.7v-46M232.2 877.7v-25.6M232.8 877.7v-15.4M233.2 877.7v-10.9M233.8 877.7v-16.8M234.2 877.7v-17.4M234.8 877.7v-15.9M235.2 877.7v-26.3M235.8 877.7v-9M236.2 877.7v-11.8M236.8 877.7v-10.5M237.2 877.7v-12.5M237.8 877.7v-26M238.2 877.7v-11.7M238.8 877.7v-17.3M239.2 877.7v-6.1M239.8 877.7v-8M240.2 877.7v-11.9M240.8 877.7v-8.1M241.2 877.7v-17.5M241.8 877.7v-10.9M242.2 877.7v-9.4" stroke="#4fb04f" stroke-width="0.55" fill="none"/>
<path d="M43.8 877.7v-3.1M44.2 877.7v-4.8M44.8 877.7v-4.6M45.2 877.7v-5.6M45.8 877.7v-5M46.2 877.7v-4.6M46.8 877.7v-4.8M47.2 877.7v-13.7M47.8 877.7v-7M48.2 877.7v-10.7M48.8 877.7v-4.9M49.2 877.7v-8.2M49.8 877.7v-3.9M50.2 877.7v-7.6M50.8 877.7v-7.9M51.2 877.7v-8.4M51.8 877.7v-5.2M52.2 877.7v-2M52.8 877.7v-13.3M53.2 877.7v-3.7M53.8 877.7v-6M54.2 877.7v-1.5M54.8 877.7v-4.2M55.2 877.7v-6.5M55.8 877.7v-7.8M56.2 877.7v-4.4M56.8 877.7v-17.3M57.2 877.7v-3M57.8 877.7v-5.9M58.2 877.7v-6.9M58.8 877.7v-12.6M59.2 877.7v-3.2M59.8 877.7v-5.8M60.2 877.7v-9.4M60.8 877.7v-6.1M61.2 877.7v-8.4M61.8 877.7v-2.9M62.2 877.7v-3.2M62.8 877.7v-1.5M63.2 877.7v-3.8M63.8 877.7v-8.5M64.2 877.7v-2.3M64.8 877.7v-6.1M65.2 877.7v-6.7M65.8 877.7v-2.4M66.2 877.7v-4.1M66.8 877.7v-5.9M67.2 877.7v-5.7M67.8 877.7v-4.9M68.2 877.7v-3.5M68.8 877.7v-3.5M69.2 877.7v-3.5M69.8 877.7v-5.3M70.2 877.7v-5.6M70.8 877.7v-4.1M71.2 877.7v-7.2M71.8 877.7v-4.8M72.2 877.7v-5M72.8 877.7v-5.9M73.2 877.7v-5.4M73.8 877.7v-4.1M74.2 877.7v-2.8M74.8 877.7v-10.9M75.2 877.7v-12M75.8 877.7v-6.6M76.2 877.7v-5.3M76.8 877.7v-7.1M77.2 877.7v-3.5M77.8 877.7v-12.6M78.2 877.7v-4.6M78.8 877.7v-4.5M79.2 877.7v-3.6M79.8 877.7v-4.6M80.2 877.7v-5.2M80.8 877.7v-10.6M81.2 877.7v-3.9M81.8 877.7v-5.6M82.2 877.7v-6.3M82.8 877.7v-4.1M83.2 877.7v-2.8M83.8 877.7v-3.9M84.2 877.7v-5.3M84.8 877.7v-8.3M85.2 877.7v-3M85.8 877.7v-2.9M86.2 877.7v-3.4M86.8 877.7v-2.5M87.2 877.7v-14.4M87.8 877.7v-5.4M88.2 877.7v-1.5M88.8 877.7v-11.9M89.2 877.7v-11.1M89.8 877.7v-8.1M90.2 877.7v-4.1M90.8 877.7v-9.9M91.2 877.7v-5.6M91.8 877.7v-11.2M92.2 877.7v-5.5M92.8 877.7v-4.3M93.2 877.7v-5.9M93.8 877.7v-5.4M94.2 877.7v-3.1M94.8 877.7v-8.7M95.2 877.7v-3.3M95.8 877.7v-3.1M96.2 877.7v-11.9M96.8 877.7v-6.2M97.2 877.7v-2.7M97.8 877.7v-3.7M98.2 877.7v-9.3M98.8 877.7v-6.5M99.2 877.7v-12.5M99.8 877.7v-8.4M100.2 877.7v-4.2M100.8 877.7v-5.4M101.2 877.7v-8.7M101.8 877.7v-3.1M102.2 877.7v-3.3M102.8 877.7v-6.5M103.2 877.7v-5.8M103.8 877.7v-5M104.2 877.7v-2.5M104.8 877.7v-8.3M105.2 877.7v-3M105.8 877.7v-5.2M106.2 877.7v-4.5M106.8 877.7v-7.7M107.2 877.7v-12M107.8 877.7v-1.3M108.2 877.7v-6.9M108.8 877.7v-7.3M109.2 877.7v-11.8M109.8 877.7v-9.1M110.2 877.7v-4.8M110.8 877.7v-10.6M111.2 877.7v-8.4M111.8 877.7v-2.8M112.2 877.7v-4.8M112.8 877.7v-8.7M113.2 877.7v-4.5M113.8 877.7v-6.4M114.2 877.7v-10.2M114.8 877.7v-9.4M115.2 877.7v-10.3M115.8 877.7v-11.6M116.2 877.7v-7.2M116.8 877.7v-7.3M117.2 877.7v-2.7M117.8 877.7v-7.2M118.2 877.7v-4.8M118.8 877.7v-4M119.2 877.7v-9.1M119.8 877.7v-3.9M120.2 877.7v-11.1M120.8 877.7v-4.3M121.2 877.7v-3.5M121.8 877.7v-2.5M122.2 877.7v-4.6M122.8 877.7v-4.4M123.2 877.7v-5.6M123.8 877.7v-12.2M124.2 877.7v-5M124.8 877.7v-4.5M125.2 877.7v-3.7M125.8 877.7v-3M126.2 877.7v-5.2M126.8 877.7v-10.9M127.2 877.7v-11.5M127.8 877.7v-5.9M128.2 877.7v-4.7M128.8 877.7v-2.7M129.2 877.7v-7.4M129.8 877.7v-7.9M130.2 877.7v-10.3M130.8 877.7v-3.2M131.2 877.7v-4.9M131.8 877.7v-1.8M132.2 877.7v-7.1M132.8 877.7v-3.2M133.2 877.7v-8.1M133.8 877.7v-4.5M134.2 877.7v-2.9M134.8 877.7v-5.3M135.2 877.7v-3M135.8 877.7v-1.4M136.2 877.7v-4.1M136.8 877.7v-9.9M137.2 877.7v-6.1M137.8 877.7v-6.1M138.2 877.7v-8.7M138.8 877.7v-7.6M139.2 877.7v-4.5M139.8 877.7v-6.1M140.2 877.7v-2.8M140.8 877.7v-4.6M141.2 877.7v-3.5M141.8 877.7v-11.3M142.2 877.7v-3.2M142.8 877.7v-3.7M143.2 877.7v-6.6M143.8 877.7v-6.3M144.2 877.7v-2M144.8 877.7v-5.7M145.2 877.7v-2.8M145.8 877.7v-4M146.2 877.7v-3.3M146.8 877.7v-3.8M147.2 877.7v-5.4M147.8 877.7v-7.6M148.2 877.7v-4.2M148.8 877.7v-13.2M149.2 877.7v-6.9M149.8 877.7v-3.1M150.2 877.7v-6.4M150.8 877.7v-2.3M151.2 877.7v-4M151.8 877.7v-3.2M152.2 877.7v-3.4M152.8 877.7v-5.5M153.2 877.7v-3M153.8 877.7v-9.6M154.2 877.7v-4.4M154.8 877.7v-4.8M155.2 877.7v-5.2M155.8 877.7v-3.5M156.2 877.7v-4M156.8 877.7v-5.9M157.2 877.7v-4.9M157.8 877.7v-9.2M158.2 877.7v-3.4M158.8 877.7v-12.9M159.2 877.7v-9.9M159.8 877.7v-12.7M160.2 877.7v-6.1M160.8 877.7v-6.8M161.2 877.7v-8.4M161.8 877.7v-11.3M162.2 877.7v-5.5M162.8 877.7v-3.1M163.2 877.7v-10.6M163.8 877.7v-5.5M164.2 877.7v-10.7M164.8 877.7v-3.7M165.2 877.7v-3.8M165.8 877.7v-2.2M166.2 877.7v-6.7M166.8 877.7v-6.7M167.2 877.7v-7.2M167.8 877.7v-8.6M168.2 877.7v-4.3M168.8 877.7v-2.9M169.2 877.7v-2.7M169.8 877.7v-9.3M170.2 877.7v-4.1M170.8 877.7v-3.5M171.2 877.7v-10.7M171.8 877.7v-8.1M172.2 877.7v-2.5M172.8 877.7v-9.6M173.2 877.7v-5M173.8 877.7v-6.9M174.2 877.7v-6.5M174.8 877.7v-3.2M175.2 877.7v-4.1M175.8 877.7v-5.7M176.2 877.7v-6M176.8 877.7v-9.5M177.2 877.7v-5.1M177.8 877.7v-4.5M178.2 877.7v-6.5M178.8 877.7v-2M179.2 877.7v-8.8M179.8 877.7v-3.3M180.2 877.7v-2.5M180.8 877.7v-5.7M181.2 877.7v-3.4M181.8 877.7v-4.1M182.2 877.7v-4.7M182.8 877.7v-6.7M183.2 877.7v-4.5M183.8 877.7v-9.5M184.2 877.7v-11.3M184.8 877.7v-6.9M185.2 877.7v-5.3M185.8 877.7v-3.3M186.2 877.7v-3.6M186.8 877.7v-5.8M187.2 877.7v-3M187.8 877.7v-4.3M188.2 877.7v-4.9M188.8 877.7v-11.5M189.2 877.7v-7.9M189.8 877.7v-6.9M190.2 877.7v-6.1M190.8 877.7v-5.9M191.2 877.7v-2.6M191.8 877.7v-10.4M192.2 877.7v-3.4M192.8 877.7v-8.6M193.2 877.7v-5.5M193.8 877.7v-6.9M194.2 877.7v-9.7M194.8 877.7v-3.8M195.2 877.7v-7.5M195.8 877.7v-3.4M196.2 877.7v-2.7M196.8 877.7v-6.2M197.2 877.7v-7M197.8 877.7v-7.7M198.2 877.7v-3.8M198.8 877.7v-2.6M199.2 877.7v-3M199.8 877.7v-2.4M200.2 877.7v-2M200.8 877.7v-6.6M201.2 877.7v-7.1M201.8 877.7v-6M202.2 877.7v-6.7M202.8 877.7v-13.8M203.2 877.7v-1.9M203.8 877.7v-2.2M204.2 877.7v-8.4M204.8 877.7v-4.3M205.2 877.7v-7.7M205.8 877.7v-10.5M206.2 877.7v-7.3M206.8 877.7v-4.8M207.2 877.7v-8.5M207.8 877.7v-5.3M208.2 877.7v-2.6M208.8 877.7v-2.6M209.2 877.7v-2.2M209.8 877.7v-4.9M210.2 877.7v-3.3M210.8 877.7v-2.8M211.2 877.7v-5.7M211.8 877.7v-5M212.2 877.7v-5.5M212.8 877.7v-3.4M213.2 877.7v-8.8M213.8 877.7v-3.5M214.2 877.7v-6.1M214.8 877.7v-4.1M215.2 877.7v-11M215.8 877.7v-10.7M216.2 877.7v-5.2M216.8 877.7v-4.7M217.2 877.7v-9.4M217.8 877.7v-8.3M218.2 877.7v-4.5M218.8 877.7v-6.1M219.2 877.7v-5.8M219.8 877.7v-7.6M220.2 877.7v-3.9M220.8 877.7v-7M221.2 877.7v-9M221.8 877.7v-5.1M222.2 877.7v-6.4M222.8 877.7v-9.6M223.2 877.7v-10.1M223.8 877.7v-2.6M224.2 877.7v-7M224.8 877.7v-7M225.2 877.7v-8.4M225.8 877.7v-4.7M226.2 877.7v-7.7M226.8 877.7v-10.2M227.2 877.7v-2.6M227.8 877.7v-6.5M228.2 877.7v-5.9M228.8 877.7v-5.7M229.2 877.7v-6.9M229.8 877.7v-10.1M230.2 877.7v-5.3M230.8 877.7v-10.5M231.2 877.7v-4.8M231.8 877.7v-4.5M232.2 877.7v-2.1M232.8 877.7v-17.1M233.2 877.7v-2.7M233.8 877.7v-3.6M234.2 877.7v-11.5M234.8 877.7v-4M235.2 877.7v-7M235.8 877.7v-4.8M236.2 877.7v-3.8M236.8 877.7v-3.1M237.2 877.7v-11.1M237.8 877.7v-5.6M238.2 877.7v-4.9M238.8 877.7v-5.3M239.2 877.7v-4.9M239.8 877.7v-4.1M240.2 877.7v-2.1M240.8 877.7v-5.2M241.2 877.7v-6.6M241.8 877.7v-3.2M242.2 877.7v-8.3" stroke="#4fb04f" stroke-width="0.55" fill="none"/>
<path d="M43.5 877.9L242.5 877.9" stroke="#2f6f2f" stroke-width="0.9"/>
<path d="M43.8 930.1v-10.1M44.2 930.1v-12.9M44.8 930.1v-7.9M45.2 930.1v-8M45.8 930.1v-16.7M46.2 930.1v-10.7M46.8 930.1v-5.9M47.2 930.1v-9M47.8 930.1v-5.5M48.2 930.1v-5.8M48.8 930.1v-9.6M49.2 930.1v-14M49.8 930.1v-6.9M50.2 930.1v-8.9M50.8 930.1v-16.9M51.2 930.1v-13.2M51.8 930.1v-13.8M52.2 930.1v-11.6M52.8 930.1v-8.7M53.2 930.1v-17.1M53.8 930.1v-5.2M54.2 930.1v-15.2M54.8 930.1v-14.1M55.2 930.1v-9.7M55.8 930.1v-7.1M56.2 930.1v-6.7M56.8 930.1v-18M57.2 930.1v-9.4M57.8 930.1v-6.2M58.2 930.1v-16.1M58.8 930.1v-7.4M59.2 930.1v-8.5M59.8 930.1v-6.8M60.2 930.1v-18.9M60.8 930.1v-9.3M61.2 930.1v-8.2M61.8 930.1v-12.4M62.2 930.1v-5.2M62.8 930.1v-12M63.2 930.1v-8.4M63.8 930.1v-7.9M64.2 930.1v-5.1M64.8 930.1v-8.7M65.2 930.1v-5.5M65.8 930.1v-7.9M66.2 930.1v-20M66.8 930.1v-14.9M67.2 930.1v-12.3M67.8 930.1v-14.1M68.2 930.1v-15.4M68.8 930.1v-7.8M69.2 930.1v-7.7M69.8 930.1v-26.4M70.2 930.1v-5.6M70.8 930.1v-7.6M71.2 930.1v-24.7M71.8 930.1v-9.9M72.2 930.1v-5.7M72.8 930.1v-11.2M73.2 930.1v-17.1M73.8 930.1v-10.8M74.2 930.1v-8.8M74.8 930.1v-14.7M75.2 930.1v-8.2M75.8 930.1v-11.6M76.2 930.1v-14.1M76.8 930.1v-8.5M77.2 930.1v-11.9M77.8 930.1v-8.2M78.2 930.1v-14M78.8 930.1v-10.1M79.2 930.1v-7.5M79.8 930.1v-25.5M80.2 930.1v-17.8M80.8 930.1v-7.7M81.2 930.1v-16.9M81.8 930.1v-22.5M82.2 930.1v-16.4M82.8 930.1v-23.8M83.2 930.1v-16.2M83.8 930.1v-10M84.2 930.1v-11.7M84.8 930.1v-8.3M85.2 930.1v-13M85.8 930.1v-10.6M86.2 930.1v-12.3M86.8 930.1v-13.7M87.2 930.1v-15.2M87.8 930.1v-16.5M88.2 930.1v-22.6M88.8 930.1v-8.9M89.2 930.1v-8M89.8 930.1v-11.7M90.2 930.1v-8.5M90.8 930.1v-7.7M91.2 930.1v-10.2M91.8 930.1v-8.5M92.2 930.1v-9.9M92.8 930.1v-8.7M93.2 930.1v-6.1M93.8 930.1v-17M94.2 930.1v-6.2M94.8 930.1v-4.6M95.2 930.1v-13.4M95.8 930.1v-14.1M96.2 930.1v-10.5M96.8 930.1v-14.8M97.2 930.1v-5.6M97.8 930.1v-9M98.2 930.1v-13.9M98.8 930.1v-8.8M99.2 930.1v-5.9M99.8 930.1v-29.9M100.2 930.1v-11.6M100.8 930.1v-13M101.2 930.1v-10M101.8 930.1v-9.4M102.2 930.1v-7.5M102.8 930.1v-4.5M103.2 930.1v-21.9M103.8 930.1v-14.2M104.2 930.1v-33.1M104.8 930.1v-20.5M105.2 930.1v-11.3M105.8 930.1v-9.5M106.2 930.1v-11.6M106.8 930.1v-15.5M107.2 930.1v-14.6M107.8 930.1v-13.2M108.2 930.1v-16.4M108.8 930.1v-16.2M109.2 930.1v-19.9M109.8 930.1v-9.5M110.2 930.1v-21.2M110.8 930.1v-9.4M111.2 930.1v-14.3M111.8 930.1v-8.7M112.2 930.1v-6.3M112.8 930.1v-22.7M113.2 930.1v-17.6M113.8 930.1v-10.5M114.2 930.1v-10.8M114.8 930.1v-12.8M115.2 930.1v-9.2M115.8 930.1v-9.6M116.2 930.1v-9.7M116.8 930.1v-11.6M117.2 930.1v-13.9M117.8 930.1v-8.6M118.2 930.1v-12.4M118.8 930.1v-18.7M119.2 930.1v-16.2M119.8 930.1v-24.7M120.2 930.1v-23M120.8 930.1v-18.1M121.2 930.1v-20.1M121.8 930.1v-13.5M122.2 930.1v-8.4M122.8 930.1v-26.9M123.2 930.1v-11.1M123.8 930.1v-13.2M124.2 930.1v-13.6M124.8 930.1v-5.4M125.2 930.1v-8.1M125.8 930.1v-20.3M126.2 930.1v-16.8M126.8 930.1v-12.8M127.2 930.1v-13.1M127.8 930.1v-10.1M128.2 930.1v-22.3M128.8 930.1v-6.9M129.2 930.1v-16.2M129.8 930.1v-7.1M130.2 930.1v-9.6M130.8 930.1v-9.8M131.2 930.1v-6.9M131.8 930.1v-11.1M132.2 930.1v-6.6M132.8 930.1v-18M133.2 930.1v-8.1M133.8 930.1v-10.9M134.2 930.1v-14.1M134.8 930.1v-5.9M135.2 930.1v-11.3M135.8 930.1v-13.6M136.2 930.1v-7M136.8 930.1v-8M137.2 930.1v-10.1M137.8 930.1v-14.8M138.2 930.1v-18.9M138.8 930.1v-14M139.2 930.1v-7.5M139.8 930.1v-17M140.2 930.1v-20.9M140.8 930.1v-11.4M141.2 930.1v-7M141.8 930.1v-9.1M142.2 930.1v-21.1M142.8 930.1v-11.6M143.2 930.1v-18.8M143.8 930.1v-7.8M144.2 930.1v-16.3M144.8 930.1v-19.4M145.2 930.1v-19.9M145.8 930.1v-26.6M146.2 930.1v-10.8M146.8 930.1v-14M147.2 930.1v-18.3M147.8 930.1v-14M148.2 930.1v-13.3M148.8 930.1v-10M149.2 930.1v-23.7M149.8 930.1v-11.2M150.2 930.1v-4.9M150.8 930.1v-8.7M151.2 930.1v-20.4M151.8 930.1v-15.3M152.2 930.1v-7.9M152.8 930.1v-16.3M153.2 930.1v-12.7M153.8 930.1v-32.8M154.2 930.1v-14.9M154.8 930.1v-29.1M155.2 930.1v-41.4M155.8 930.1v-14.3M156.2 930.1v-10.2M156.8 930.1v-14.1M157.2 930.1v-13.8M157.8 930.1v-15.2M158.2 930.1v-11.6M158.8 930.1v-21.2M159.2 930.1v-26.7M159.8 930.1v-9.5M160.2 930.1v-13.7M160.8 930.1v-14.3M161.2 930.1v-7.4M161.8 930.1v-7M162.2 930.1v-8.7M162.8 930.1v-9.6M163.2 930.1v-30.6M163.8 930.1v-8.3M164.2 930.1v-12M164.8 930.1v-10.7M165.2 930.1v-13.8M165.8 930.1v-11.6M166.2 930.1v-11.3M166.8 930.1v-19.9M167.2 930.1v-8.3M167.8 930.1v-23.9M168.2 930.1v-7.5M168.8 930.1v-6.1M169.2 930.1v-12.4M169.8 930.1v-12M170.2 930.1v-19M170.8 930.1v-13.6M171.2 930.1v-15.1M171.8 930.1v-35.4M172.2 930.1v-8.2M172.8 930.1v-6.6M173.2 930.1v-10.5M173.8 930.1v-6.4M174.2 930.1v-13.5M174.8 930.1v-19.3M175.2 930.1v-28.3M175.8 930.1v-6M176.2 930.1v-10.1M176.8 930.1v-11.4M177.2 930.1v-8.6M177.8 930.1v-6.6M178.2 930.1v-15.3M178.8 930.1v-10.6M179.2 930.1v-17.2M179.8 930.1v-10.2M180.2 930.1v-11.7M180.8 930.1v-19.8M181.2 930.1v-10.9M181.8 930.1v-29.7M182.2 930.1v-16.7M182.8 930.1v-7.3M183.2 930.1v-18.5M183.8 930.1v-19.5M184.2 930.1v-14.8M184.8 930.1v-8.1M185.2 930.1v-12.8M185.8 930.1v-18.2M186.2 930.1v-19.4M186.8 930.1v-12.8M187.2 930.1v-18.5M187.8 930.1v-13.9M188.2 930.1v-16.3M188.8 930.1v-17M189.2 930.1v-13.2M189.8 930.1v-6.9M190.2 930.1v-22.5M190.8 930.1v-19.7M191.2 930.1v-7.9M191.8 930.1v-20.9M192.2 930.1v-15M192.8 930.1v-15.9M193.2 930.1v-13.1M193.8 930.1v-30.1M194.2 930.1v-10.4M194.8 930.1v-12M195.2 930.1v-14.2M195.8 930.1v-5.2M196.2 930.1v-23.8M196.8 930.1v-17.4M197.2 930.1v-28.3M197.8 930.1v-9M198.2 930.1v-9M198.8 930.1v-7.7M199.2 930.1v-10.2M199.8 930.1v-17.5M200.2 930.1v-25.9M200.8 930.1v-16.3M201.2 930.1v-5.7M201.8 930.1v-8.8M202.2 930.1v-14.7M202.8 930.1v-9.2M203.2 930.1v-7.8M203.8 930.1v-31M204.2 930.1v-16.1M204.8 930.1v-23.3M205.2 930.1v-18.6M205.8 930.1v-12.4M206.2 930.1v-8.3M206.8 930.1v-6.2M207.2 930.1v-19M207.8 930.1v-18.6M208.2 930.1v-11.3M208.8 930.1v-13.2M209.2 930.1v-22.4M209.8 930.1v-8.5M210.2 930.1v-17.2M210.8 930.1v-25.7M211.2 930.1v-11.4M211.8 930.1v-13.7M212.2 930.1v-22.4M212.8 930.1v-16.6M213.2 930.1v-11.3M213.8 930.1v-32.6M214.2 930.1v-35.4M214.8 930.1v-8.4M215.2 930.1v-18.5M215.8 930.1v-15.3M216.2 930.1v-26.3M216.8 930.1v-28.5M217.2 930.1v-11.4M217.8 930.1v-17M218.2 930.1v-19.6M218.8 930.1v-22.2M219.2 930.1v-10.5M219.8 930.1v-11M220.2 930.1v-13.4M220.8 930.1v-20.6M221.2 930.1v-10.2M221.8 930.1v-18M222.2 930.1v-22.8M222.8 930.1v-9.6M223.2 930.1v-10.4M223.8 930.1v-8.7M224.2 930.1v-11.3M224.8 930.1v-41.2M225.2 930.1v-15.2M225.8 930.1v-16.5M226.2 930.1v-15.6M226.8 930.1v-14M227.2 930.1v-21.4M227.8 930.1v-16.4M228.2 930.1v-8.5M228.8 930.1v-5.6M229.2 930.1v-17.4M229.8 930.1v-21.3M230.2 930.1v-8.2M230.8 930.1v-18.4M231.2 930.1v-16.1M231.8 930.1v-34.7M232.2 930.1v-8.4M232.8 930.1v-11.9M233.2 930.1v-6.4M233.8 930.1v-10.7M234.2 930.1v-11.3M234.8 930.1v-28.8M235.2 930.1v-20.6M235.8 930.1v-7.9M236.2 930.1v-7.2M236.8 930.1v-26.9M237.2 930.1v-17.3M237.8 930.1v-10.6M238.2 930.1v-11.8M238.8 930.1v-32.4M239.2 930.1v-13.8M239.8 930.1v-7.8M240.2 930.1v-7.1M240.8 930.1v-7.6M241.2 930.1v-13.9M241.8 930.1v-23.1M242.2 930.1v-33.4" stroke="#eea030" stroke-width="0.55" fill="none"/>
<path d="M43.8 930.1v-5.6M44.2 930.1v-7.2M44.8 930.1v-5.1M45.2 930.1v-7.8M45.8 930.1v-8.8M46.2 930.1v-4.8M46.8 930.1v-10.1M47.2 930.1v-6.3M47.8 930.1v-7.3M48.2 930.1v-10.4M48.8 930.1v-7M49.2 930.1v-11.3M49.8 930.1v-13.7M50.2 930.1v-10.1M50.8 930.1v-11.9M51.2 930.1v-9.1M51.8 930.1v-5.2M52.2 930.1v-6.5M52.8 930.1v-5.5M53.2 930.1v-8M53.8 930.1v-7.4M54.2 930.1v-7.8M54.8 930.1v-5.1M55.2 930.1v-7.9M55.8 930.1v-8M56.2 930.1v-4.8M56.8 930.1v-13.2M57.2 930.1v-4.9M57.8 930.1v-9.1M58.2 930.1v-8.9M58.8 930.1v-7M59.2 930.1v-10.6M59.8 930.1v-11.3M60.2 930.1v-4.9M60.8 930.1v-6.5M61.2 930.1v-8.7M61.8 930.1v-5.1M62.2 930.1v-4M62.8 930.1v-4.9M63.2 930.1v-6.2M63.8 930.1v-6M64.2 930.1v-8.2M64.8 930.1v-4.7M65.2 930.1v-8.8M65.8 930.1v-4M66.2 930.1v-6.2M66.8 930.1v-10.1M67.2 930.1v-8.9M67.8 930.1v-6M68.2 930.1v-4.5M68.8 930.1v-6.1M69.2 930.1v-4.2M69.8 930.1v-9.3M70.2 930.1v-7.8M70.8 930.1v-16.1M71.2 930.1v-8.9M71.8 930.1v-5.2M72.2 930.1v-7.4M72.8 930.1v-7M73.2 930.1v-6.4M73.8 930.1v-7.4M74.2 930.1v-7.9M74.8 930.1v-9.6M75.2 930.1v-5.8M75.8 930.1v-5.9M76.2 930.1v-5M76.8 930.1v-8.5M77.2 930.1v-9.8M77.8 930.1v-7.6M78.2 930.1v-4M78.8 930.1v-8.1M79.2 930.1v-7.5M79.8 930.1v-8.6M80.2 930.1v-7.4M80.8 930.1v-12M81.2 930.1v-12.8M81.8 930.1v-4M82.2 930.1v-12.7M82.8 930.1v-5M83.2 930.1v-6.8M83.8 930.1v-4.6M84.2 930.1v-6.9M84.8 930.1v-4.3M85.2 930.1v-7.8M85.8 930.1v-5.6M86.2 930.1v-7.4M86.8 930.1v-5.8M87.2 930.1v-13.1M87.8 930.1v-6.1M88.2 930.1v-9.2M88.8 930.1v-4.6M89.2 930.1v-4.4M89.8 930.1v-7.7M90.2 930.1v-13.6M90.8 930.1v-8.6M91.2 930.1v-6.3M91.8 930.1v-5M92.2 930.1v-4.4M92.8 930.1v-4.8M93.2 930.1v-5.2M93.8 930.1v-6M94.2 930.1v-6.4M94.8 930.1v-7.4M95.2 930.1v-6.1M95.8 930.1v-5.6M96.2 930.1v-10.6M96.8 930.1v-6.1M97.2 930.1v-4.7M97.8 930.1v-5.6M98.2 930.1v-8.7M98.8 930.1v-5.6M99.2 930.1v-7.8M99.8 930.1v-14.5M100.2 930.1v-9.5M100.8 930.1v-9.6M101.2 930.1v-5M101.8 930.1v-7.6M102.2 930.1v-11.1M102.8 930.1v-5.6M103.2 930.1v-7.2M103.8 930.1v-7M104.2 930.1v-8.2M104.8 930.1v-7.1M105.2 930.1v-7M105.8 930.1v-7.4M106.2 930.1v-8.4M106.8 930.1v-4.9M107.2 930.1v-9.4M107.8 930.1v-9.3M108.2 930.1v-6.7M108.8 930.1v-7.6M109.2 930.1v-9.6M109.8 930.1v-10.7M110.2 930.1v-5.5M110.8 930.1v-7.4M111.2 930.1v-4.7M111.8 930.1v-9.9M112.2 930.1v-9.1M112.8 930.1v-6.2M113.2 930.1v-7.3M113.8 930.1v-4.8M114.2 930.1v-8.4M114.8 930.1v-6.8M115.2 930.1v-6.3M115.8 930.1v-10.9M116.2 930.1v-10.7M116.8 930.1v-6.8M117.2 930.1v-5.7M117.8 930.1v-6.7M118.2 930.1v-9.4M118.8 930.1v-6.5M119.2 930.1v-4.4M119.8 930.1v-6.6M120.2 930.1v-7M120.8 930.1v-9.1M121.2 930.1v-8.3M121.8 930.1v-9.4M122.2 930.1v-6.7M122.8 930.1v-6.3M123.2 930.1v-8M123.8 930.1v-7.5M124.2 930.1v-8.6M124.8 930.1v-6.9M125.2 930.1v-6.3M125.8 930.1v-7M126.2 930.1v-6.4M126.8 930.1v-8.8M127.2 930.1v-5.7M127.8 930.1v-4.6M128.2 930.1v-12M128.8 930.1v-5.2M129.2 930.1v-4.1M129.8 930.1v-3.8M130.2 930.1v-3.9M130.8 930.1v-6M131.2 930.1v-8M131.8 930.1v-11M132.2 930.1v-8.8M132.8 930.1v-7M133.2 930.1v-5M133.8 930.1v-5.6M134.2 930.1v-6.3M134.8 930.1v-8.2M135.2 930.1v-7.9M135.8 930.1v-9M136.2 930.1v-8.6M136.8 930.1v-5.8M137.2 930.1v-6.1M137.8 930.1v-9.5M138.2 930.1v-5.1M138.8 930.1v-5.6M139.2 930.1v-11M139.8 930.1v-5.9M140.2 930.1v-6.5M140.8 930.1v-10.2M141.2 930.1v-5.2M141.8 930.1v-4.6M142.2 930.1v-12.6M142.8 930.1v-5.9M143.2 930.1v-7.6M143.8 930.1v-5.5M144.2 930.1v-9M144.8 930.1v-7.9M145.2 930.1v-4.4M145.8 930.1v-8.1M146.2 930.1v-7M146.8 930.1v-4.3M147.2 930.1v-5.9M147.8 930.1v-8.3M148.2 930.1v-5.9M148.8 930.1v-6.2M149.2 930.1v-7.8M149.8 930.1v-9.4M150.2 930.1v-11.2M150.8 930.1v-4.7M151.2 930.1v-6.7M151.8 930.1v-4.5M152.2 930.1v-5.1M152.8 930.1v-6.4M153.2 930.1v-7.1M153.8 930.1v-6.6M154.2 930.1v-14.1M154.8 930.1v-7.5M155.2 930.1v-11.1M155.8 930.1v-7M156.2 930.1v-10M156.8 930.1v-5.2M157.2 930.1v-8.2M157.8 930.1v-4.8M158.2 930.1v-6.5M158.8 930.1v-6.3M159.2 930.1v-5.6M159.8 930.1v-8.4M160.2 930.1v-14.7M160.8 930.1v-7.5M161.2 930.1v-4.3M161.8 930.1v-5.5M162.2 930.1v-6.4M162.8 930.1v-7M163.2 930.1v-5.9M163.8 930.1v-5.1M164.2 930.1v-7.5M164.8 930.1v-6.8M165.2 930.1v-12.3M165.8 930.1v-5.9M166.2 930.1v-7.8M166.8 930.1v-5.3M167.2 930.1v-6.3M167.8 930.1v-11.8M168.2 930.1v-7.3M168.8 930.1v-8.9M169.2 930.1v-5.4M169.8 930.1v-8.8M170.2 930.1v-6.1M170.8 930.1v-6.4M171.2 930.1v-11.4M171.8 930.1v-7M172.2 930.1v-12.1M172.8 930.1v-11.6M173.2 930.1v-7.2M173.8 930.1v-5.8M174.2 930.1v-5.4M174.8 930.1v-9.8M175.2 930.1v-10.9M175.8 930.1v-4.8M176.2 930.1v-8.5M176.8 930.1v-6.5M177.2 930.1v-5.3M177.8 930.1v-10.7M178.2 930.1v-11.6M178.8 930.1v-4.8M179.2 930.1v-7.7M179.8 930.1v-4.4M180.2 930.1v-11.3M180.8 930.1v-15.3M181.2 930.1v-5.2M181.8 930.1v-8.4M182.2 930.1v-7.1M182.8 930.1v-5.7M183.2 930.1v-6.1M183.8 930.1v-5.4M184.2 930.1v-4.8M184.8 930.1v-11.3M185.2 930.1v-4.2M185.8 930.1v-8.3M186.2 930.1v-6.9M186.8 930.1v-14.6M187.2 930.1v-5.4M187.8 930.1v-10.5M188.2 930.1v-8.4M188.8 930.1v-6.5M189.2 930.1v-7.8M189.8 930.1v-6.7M190.2 930.1v-4.9M190.8 930.1v-6.1M191.2 930.1v-6.7M191.8 930.1v-4.2M192.2 930.1v-4.9M192.8 930.1v-8.3M193.2 930.1v-6.7M193.8 930.1v-4.7M194.2 930.1v-7.3M194.8 930.1v-8.8M195.2 930.1v-7.2M195.8 930.1v-8.6M196.2 930.1v-8.1M196.8 930.1v-11.3M197.2 930.1v-6.9M197.8 930.1v-9.8M198.2 930.1v-5.6M198.8 930.1v-5.3M199.2 930.1v-6.2M199.8 930.1v-6.3M200.2 930.1v-3.8M200.8 930.1v-3.6M201.2 930.1v-6.4M201.8 930.1v-8.6M202.2 930.1v-9M202.8 930.1v-12M203.2 930.1v-8.6M203.8 930.1v-7.3M204.2 930.1v-11.8M204.8 930.1v-4.8M205.2 930.1v-10.3M205.8 930.1v-7.7M206.2 930.1v-7.3M206.8 930.1v-4.6M207.2 930.1v-7.5M207.8 930.1v-5.5M208.2 930.1v-6.4M208.8 930.1v-6.4M209.2 930.1v-11M209.8 930.1v-6.2M210.2 930.1v-6.4M210.8 930.1v-6.4M211.2 930.1v-8.9M211.8 930.1v-7M212.2 930.1v-12.2M212.8 930.1v-4.5M213.2 930.1v-9.3M213.8 930.1v-5.9M214.2 930.1v-8.9M214.8 930.1v-5.9M215.2 930.1v-4.1M215.8 930.1v-4.2M216.2 930.1v-10.3M216.8 930.1v-5.8M217.2 930.1v-4.3M217.8 930.1v-5.7M218.2 930.1v-10.4M218.8 930.1v-8.6M219.2 930.1v-6.3M219.8 930.1v-6.6M220.2 930.1v-7M220.8 930.1v-4.8M221.2 930.1v-6.4M221.8 930.1v-6.1M222.2 930.1v-10.6M222.8 930.1v-5.9M223.2 930.1v-8M223.8 930.1v-5.7M224.2 930.1v-9.5M224.8 930.1v-6.4M225.2 930.1v-6.6M225.8 930.1v-5.7M226.2 930.1v-6M226.8 930.1v-7.5M227.2 930.1v-6.1M227.8 930.1v-9M228.2 930.1v-6.3M228.8 930.1v-6.7M229.2 930.1v-4.9M229.8 930.1v-9M230.2 930.1v-7.5M230.8 930.1v-8.1M231.2 930.1v-12.4M231.8 930.1v-7.5M232.2 930.1v-6M232.8 930.1v-5.7M233.2 930.1v-10.1M233.8 930.1v-8.1M234.2 930.1v-7.6M234.8 930.1v-8.2M235.2 930.1v-5.3M235.8 930.1v-5.4M236.2 930.1v-6.5M236.8 930.1v-10.4M237.2 930.1v-6.1M237.8 930.1v-5.1M238.2 930.1v-5.2M238.8 930.1v-6.9M239.2 930.1v-4.8M239.8 930.1v-7.6M240.2 930.1v-3.9M240.8 930.1v-14M241.2 930.1v-4.5M241.8 930.1v-5.3M242.2 930.1v-4.9" stroke="#eea030" stroke-width="0.55" fill="none"/>
<path d="M43.5 930.3L242.5 930.3" stroke="#5a4a1a" stroke-width="0.9"/>
<path d="M45.5 940.6H242" stroke="#5aaad0" stroke-width="1.4" fill="none"/>
<rect x="45.5" y="938.1" width="7.3" height="5" fill="#5aaad0"/>
<rect x="89.6" y="938.1" width="10.3" height="5" fill="#5aaad0"/>
<rect x="140" y="938.1" width="10" height="5" fill="#5aaad0"/>
<rect x="83.6" y="937.6" width="1.1" height="6" fill="#5aaad0"/>
<rect x="86.9" y="937.6" width="1.1" height="6" fill="#5aaad0"/>
<rect x="118.3" y="937.6" width="1.1" height="6" fill="#5aaad0"/>
<rect x="162.1" y="937.6" width="1.1" height="6" fill="#5aaad0"/>
<rect x="167.5" y="937.6" width="1.1" height="6" fill="#5aaad0"/>
<rect x="169" y="937.6" width="1.1" height="6" fill="#5aaad0"/>
<rect x="183" y="937.6" width="1.1" height="6" fill="#5aaad0"/>
<rect x="184.5" y="937.6" width="1.1" height="6" fill="#5aaad0"/>
<rect x="187" y="937.6" width="1.1" height="6" fill="#5aaad0"/>
<rect x="197" y="937.6" width="1.1" height="6" fill="#5aaad0"/>
<rect x="216.9" y="937.6" width="1.1" height="6" fill="#5aaad0"/>
<rect x="57.4" y="939.1" width="1.6" height="3" fill="#5aaad0"/>
<rect x="69.1" y="939.1" width="1.6" height="3" fill="#5aaad0"/>
<rect x="80.1" y="939.1" width="1.6" height="3" fill="#5aaad0"/>
<rect x="104.2" y="939.1" width="1.6" height="3" fill="#5aaad0"/>
<rect x="115.2" y="939.1" width="1.6" height="3" fill="#5aaad0"/>
<rect x="123.2" y="939.1" width="1.6" height="3" fill="#5aaad0"/>
<rect x="124.7" y="939.1" width="1.6" height="3" fill="#5aaad0"/>
<rect x="130.9" y="939.1" width="1.6" height="3" fill="#5aaad0"/>
<rect x="153.7" y="939.1" width="1.6" height="3" fill="#5aaad0"/>
<rect x="155" y="939.1" width="1.6" height="3" fill="#5aaad0"/>
<rect x="174.5" y="939.1" width="1.6" height="3" fill="#5aaad0"/>
<rect x="192.1" y="939.1" width="1.6" height="3" fill="#5aaad0"/>
<rect x="202" y="939.1" width="1.6" height="3" fill="#5aaad0"/>
<rect x="213.2" y="939.1" width="1.6" height="3" fill="#5aaad0"/>
<rect x="214.2" y="939.1" width="1.6" height="3" fill="#5aaad0"/>
<rect x="224.2" y="939.1" width="1.6" height="3" fill="#5aaad0"/>
<rect x="235" y="939.1" width="1.6" height="3" fill="#5aaad0"/>
<rect x="239.7" y="939.1" width="1.6" height="3" fill="#5aaad0"/>
<rect x="240.7" y="939.1" width="1.6" height="3" fill="#5aaad0"/>
<text x="125.2" y="953.2" font-size="8.2">SPAK</text>
<text x="295.3" y="683.9" font-size="16.5" font-weight="bold" fill="#000">k</text>
<text x="321.4" y="688.9" font-size="8.2">CUT&amp;Tag</text>
<text x="467.6" y="688.9" font-size="8.2">Gene:SPAK</text>
<path d="M321.4 691.9L670.3 691.9" stroke="#222" stroke-width="0.9"/>
<text x="403.5" y="704.3" font-size="8.2" text-anchor="middle">HLF</text>
<text x="587.2" y="703.7" font-size="8.2" text-anchor="middle">PLC/PRF/5</text>
<polygon points="322.3,774 322.6,771.9 323.1,771.9 323.6,764.4 324.1,745.1 324.6,740.3 325.1,755.3 325.6,764.8 326.1,755.7 326.6,760.6 327.1,761.7 327.6,758.4 328.1,769.5 328.6,759.8 329.1,765.2 329.6,771.9 330.1,770.2 330.6,770.2 331.1,771.4 331.6,771.9 332.1,771.9 332.6,761.9 333.1,754.4 333.6,755.2 334.1,762.4 334.6,771.9 335.1,763.7 335.6,767.5 336.1,771.9 336.6,763.6 337.1,751 337.6,764 338.1,770 338.6,771.9 339.1,771.9 339.6,765.5 340.1,771.4 340.6,768.5 341.1,754.5 341.6,764.8 342.1,761.8 342.6,771.9 343.1,768.2 343.6,753.1 344.1,733.3 344.6,734.4 345.1,714.2 345.6,733.7 346.1,744.4 346.6,763.7 347.1,759.5 347.6,761.2 348.1,763 348.6,770.8 349.1,756.6 349.6,771.9 350.1,764.3 350.6,771.9 351.1,760.5 351.6,756.6 352.1,760.7 352.6,762.3 353.1,752.6 353.6,747.4 354.1,755.3 354.6,767.6 355.1,769.7 355.6,757.5 356.1,760.8 356.6,764 357.1,753 357.6,759 358.1,766.5 358.6,771.2 359.1,771.9 359.6,767.2 360.1,771.9 360.6,758.4 361.1,763.7 361.6,754.7 362.1,756.4 362.6,766.3 363.1,770.9 363.6,759.7 364.1,755.4 364.6,754.5 365.1,754 365.6,754.8 366.1,753.3 366.6,745.3 367.1,748.3 367.6,752 368.1,755.4 368.6,757.2 369.1,764.5 369.6,761.2 370.1,756.6 370.6,748.3 371.1,758 371.6,761.5 372.1,753 372.6,748.9 373.1,764.9 373.6,764.3 374.1,760.6 374.6,754.4 375.1,760.2 375.6,763.5 376.1,767 376.6,771.9 377.1,762 377.6,764.8 378.1,757 378.6,761.7 379.1,761.8 379.6,771.9 380.1,760.8 380.6,750.3 381.1,762.3 381.6,763.5 382.1,771.9 382.6,766.5 383.1,761.7 383.6,770.4 384.1,767.5 384.6,771.6 385.1,762.8 385.6,771.9 386.1,767.4 386.6,747.1 387.1,751.8 387.6,765.9 388.1,771.9 388.6,771.9 389.1,768.2 389.6,768.8 390.1,770.1 390.6,771.9 391.1,751.3 391.6,750.8 392.1,743.5 392.6,744.3 393.1,755.6 393.6,769 394.1,764.5 394.6,760.8 395.1,763 395.6,761.3 396.1,756.5 396.6,762.7 397.1,767.7 397.6,771.9 398.1,771.9 398.6,752.9 399.1,759.5 399.6,760.7 400.1,764.4 400.6,763.8 401.1,771.9 401.6,771.9 402.1,769.6 402.6,763.9 403.1,753.5 403.6,755.4 404.1,740.1 404.6,755.8 405.1,765.5 405.6,768.2 406.1,764.4 406.6,756.9 407.1,757.9 407.6,764.2 408.1,767.7 408.6,771.9 409.1,771.9 409.6,766.5 410.1,757.9 410.6,748.7 411.1,756.2 411.6,763.5 412.1,762.3 412.6,765.7 413.1,767.3 413.6,760.5 414.1,764.6 414.6,769.8 415.1,767.4 415.6,768.7 416.1,771.9 416.6,761.6 417.1,762.8 417.6,766.1 418.1,755.9 418.6,765.7 419.1,762.3 419.6,764.7 420.1,763.9 420.6,761.2 421.1,760.7 421.6,758.3 422.1,760.4 422.6,768.4 423.1,771.9 423.6,771.9 424.1,771.9 424.6,771.9 425.1,763.5 425.6,771.9 426.1,763.5 426.6,759.2 427.1,771.7 427.6,765.8 428.1,771.9 428.6,762.6 429.1,757.5 429.6,763.8 430.1,746.8 430.6,746.6 431.1,754.3 431.6,768.5 432.1,771.1 432.6,760.2 433.1,762 433.6,759.2 434.1,761.9 434.6,766.9 435.1,766.9 435.6,747.2 436.1,759.8 436.6,763.3 437.1,759.8 437.6,767.9 438.1,763.4 438.6,771.9 439.1,766.1 439.6,767.9 440.1,762.1 440.6,769.8 441.1,770.7 441.6,765.2 442.1,760 442.6,771.9 443.1,755.6 443.6,749.3 444.1,756.1 444.6,753.6 445.1,751.4 445.6,751.5 446.1,771.9 446.6,771.9 447.1,766.5 447.6,758.9 448.1,757.9 448.6,758 449.1,744 449.6,750.9 450.1,751.8 450.6,755.8 451.1,757.9 451.6,759.8 452.1,766.4 452.6,760.8 453.1,751.3 453.6,742.7 454.1,759.1 454.6,750.1 455.1,763.5 455.6,771.4 456.1,760.2 456.6,763.9 457.1,766.1 457.6,755.5 458.1,764.1 458.6,760.9 459.1,763.7 459.6,770.6 460.1,762.6 460.6,766.8 461.1,759.5 461.6,760.7 462.1,771.9 462.6,759.7 463.1,768.7 463.6,763.5 464.1,771.9 464.6,766.5 465.1,771.9 465.6,767.7 466.1,767.7 466.6,763.4 467.1,760.7 467.6,755.3 468.1,764.6 468.6,760.9 469.1,768.9 469.6,762.8 470.1,763.3 470.6,762.9 471.1,761.2 471.6,765.1 472.1,771.9 472.6,763.7 473.1,770.7 473.6,764.7 474.1,755.1 474.6,754.6 475.1,762.8 475.6,765.6 476.1,771.9 476.6,770.1 477.1,771.9 477.6,771.9 478.1,771.9 478.6,765.1 479.1,762.1 479.6,757.3 480.1,757.8 480.6,765.2 481.1,763.9 481.6,771.9 482.1,771.9 482.6,768.8 483.1,763.7 483.6,764.6 484.1,771.9 484.6,762.5 485.1,763.3 485.4,774" fill="#eda63e"/>
<polyline points="322.6,771.9 323.1,763.3 323.6,751.3 324.1,745.1 324.6,734.9 325.1,727.2 325.6,764.8 326.1,755.7 326.6,760.6 327.1,759.6 327.6,751.8 328.1,751.5 328.6,747.3 329.1,765.2 329.6,764.4 330.1,770.2 330.6,762.7 331.1,762.2 331.6,771.9 332.1,760.5 332.6,756.9 333.1,754.4 333.6,755.2 334.1,761.8 334.6,771.9 335.1,763.7 335.6,759.6 336.1,753 336.6,756.3 337.1,743.3 337.6,764 338.1,768.1 338.6,771.9 339.1,759.3 339.6,762 340.1,754.4 340.6,768.5 341.1,749 341.6,764.8 342.1,749.5 342.6,763.1 343.1,768.2 343.6,746.6 344.1,731 344.6,721.5 345.1,711 345.6,733.7 346.1,725.3 346.6,763.7 347.1,745.1 347.6,761.2 348.1,755.9 348.6,757.2 349.1,742.3 349.6,756.9 350.1,764.3 350.6,757.6 351.1,760.5 351.6,751 352.1,760.7 352.6,762.3 353.1,752.6 353.6,734.7 354.1,749.5 354.6,761.9 355.1,769.7 355.6,749.1 356.1,760.2 356.6,750.6 357.1,749.3 357.6,753.4 358.1,759.9 358.6,771.2 359.1,771.9 359.6,767.2 360.1,771.9 360.6,757.6 361.1,757.8 361.6,750.5 362.1,751.3 362.6,756.4 363.1,770.9 363.6,759.4 364.1,749.7 364.6,748.3 365.1,752.2 365.6,751.6 366.1,753.2 366.6,745.3 367.1,748.3 367.6,733.3 368.1,745.4 368.6,757.2 369.1,762.2 369.6,751.4 370.1,742.3 370.6,743.8 371.1,758 371.6,761.5 372.1,737.2 372.6,740.7 373.1,753.6 373.6,760 374.1,759 374.6,751.2 375.1,760.2 375.6,752.4 376.1,767 376.6,771.9 377.1,756.1 377.6,759.1 378.1,749.5 378.6,756.8 379.1,756.9 379.6,752.2 380.1,757.1 380.6,747.8 381.1,756.8 381.6,752.5 382.1,771.9 382.6,753 383.1,761.7 383.6,770.4 384.1,760.4 384.6,764.7 385.1,757.5 385.6,771.9 386.1,760.5 386.6,739.6 387.1,748.4 387.6,765.9 388.1,756.8 388.6,761 389.1,768.2 389.6,768.8 390.1,759.7 390.6,771.9 391.1,749.4 391.6,741.7 392.1,743.5 392.6,744.3 393.1,741.4 393.6,768.5 394.1,764.5 394.6,759 395.1,757.1 395.6,761.3 396.1,755.3 396.6,754.2 397.1,759.8 397.6,753.9 398.1,771.9 398.6,752.9 399.1,759.5 399.6,760 400.1,759.3 400.6,763.8 401.1,759.9 401.6,771.9 402.1,769.6 402.6,763.9 403.1,751.7 403.6,737.6 404.1,729 404.6,755.8 405.1,758.2 405.6,758.3 406.1,760 406.6,746.9 407.1,744.1 407.6,761.5 408.1,767.7 408.6,767.2 409.1,771.9 409.6,762.4 410.1,754.4 410.6,733.4 411.1,746.5 411.6,758.6 412.1,761.4 412.6,755.6 413.1,767.3 413.6,759.1 414.1,764.6 414.6,760.8 415.1,756.8 415.6,768.7 416.1,771.9 416.6,757.8 417.1,762.8 417.6,761.4 418.1,753.6 418.6,748.4 419.1,762.3 419.6,764.7 420.1,763.9 420.6,759.2 421.1,750.4 421.6,736.6 422.1,758 422.6,768.4 423.1,766.5 423.6,767.5 424.1,771.9 424.6,763.2 425.1,758.8 425.6,760 426.1,763.5 426.6,759.2 427.1,767.9 427.6,765.8 428.1,771.9 428.6,756.3 429.1,756.2 429.6,763.8 430.1,740.9 430.6,739.5 431.1,734.5 431.6,762.9 432.1,748.6 432.6,760.2 433.1,750.6 433.6,758.5 434.1,761.9 434.6,766.9 435.1,766.9 435.6,746 436.1,737.9 436.6,752.8 437.1,759.8 437.6,767.9 438.1,763.4 438.6,769.2 439.1,759.3 439.6,759.4 440.1,762.1 440.6,769.8 441.1,766.1 441.6,763.4 442.1,759.9 442.6,762.2 443.1,754.9 443.6,738.7 444.1,740.8 444.6,753.6 445.1,738.3 445.6,751.5 446.1,771.9 446.6,771.9 447.1,763.1 447.6,747.8 448.1,744.5 448.6,749.8 449.1,744 449.6,740.8 450.1,751.8 450.6,748.2 451.1,757.4 451.6,752.4 452.1,766.4 452.6,760.8 453.1,751.3 453.6,734.5 454.1,736.7 454.6,745 455.1,763.5 455.6,765 456.1,751.7 456.6,756.7 457.1,759.7 457.6,745.9 458.1,764.1 458.6,752.9 459.1,761.5 459.6,761.4 460.1,762.6 460.6,758.8 461.1,759.5 461.6,755.8 462.1,759 462.6,759.7 463.1,768.7 463.6,763.5 464.1,760.5 464.6,758.4 465.1,761.5 465.6,767.7 466.1,767.7 466.6,763.4 467.1,749.8 467.6,755.3 468.1,764.6 468.6,760.6 469.1,762.3 469.6,751.1 470.1,760.2 470.6,762.9 471.1,761.2 471.6,760.2 472.1,771.9 472.6,763.7 473.1,769.7 473.6,764.7 474.1,754.6 474.6,741.1 475.1,751.9 475.6,761.5 476.1,771.9 476.6,765.8 477.1,763.3 477.6,771.9 478.1,771.9 478.6,749.4 479.1,748.7 479.6,756.3 480.1,752.5 480.6,755.2 481.1,748 481.6,771.9 482.1,764.3 482.6,753.8 483.1,758.6 483.6,764.6 484.1,770.7 484.6,757.9 485.1,753.2" fill="none" stroke="#eeac4c" stroke-width="0.7" stroke-opacity="0.75"/>
<polyline points="322.6,764.5 323.1,771.9 323.6,764.4 324.1,730.9 324.6,725.6 325.1,742.8 325.6,730.4 326.1,743.5 326.6,749.2 327.1,755.1 327.6,757 328.1,748.6 328.6,759.8 329.1,746.9 329.6,762.2 330.1,759.5 330.6,764.4 331.1,771.4 331.6,760.9 332.1,771.9 332.6,747.4 333.1,745.5 333.6,753.5 334.1,762.4 334.6,765.4 335.1,758 335.6,767.5 336.1,771.9 336.6,763.6 337.1,745.8 337.6,756.3 338.1,770 338.6,768.9 339.1,771.9 339.6,752.9 340.1,771.4 340.6,764.1 341.1,753.6 341.6,750.7 342.1,760.5 342.6,756.1 343.1,764.8 343.6,753.1 344.1,733.3 344.6,734.4 345.1,714.2 345.6,722.7 346.1,731.4 346.6,748.7 347.1,754.1 347.6,749.3 348.1,756.6 348.6,770.8 349.1,756.6 349.6,759.6 350.1,754.9 350.6,771.9 351.1,753.3 351.6,756.6 352.1,755 352.6,743.9 353.1,748.2 353.6,742.8 354.1,747.9 354.6,767.6 355.1,756.8 355.6,757.5 356.1,754.7 356.6,764 357.1,742.1 357.6,753.4 358.1,762 358.6,762.1 359.1,755.2 359.6,762.7 360.1,760.5 360.6,758.4 361.1,760.8 361.6,754.7 362.1,749.2 362.6,763.3 363.1,762.6 363.6,759.7 364.1,746.5 364.6,754.5 365.1,754 365.6,754.8 366.1,753.3 366.6,740.1 367.1,731.3 367.6,752 368.1,755.4 368.6,753.7 369.1,754.2 369.6,761.2 370.1,756.6 370.6,748.1 371.1,744.4 371.6,747.6 372.1,753 372.6,745 373.1,757.4 373.6,759.9 374.1,753.4 374.6,753.5 375.1,752.1 375.6,755 376.1,764.7 376.6,768.8 377.1,762 377.6,759.4 378.1,746.9 378.6,755.7 379.1,761.8 379.6,769.7 380.1,760.8 380.6,750.3 381.1,762.3 381.6,763.5 382.1,754.3 382.6,752.6 383.1,757.3 383.6,758.7 384.1,767.5 384.6,765 385.1,753.6 385.6,757.4 386.1,747.2 386.6,741.3 387.1,749.4 387.6,758.1 388.1,753.6 388.6,759.4 389.1,761.5 389.6,757.5 390.1,760 390.6,761.6 391.1,751.3 391.6,750.8 392.1,742.2 392.6,743.2 393.1,755.6 393.6,769 394.1,752.2 394.6,756.9 395.1,763 395.6,755.9 396.1,754.3 396.6,762.7 397.1,767.7 397.6,771.9 398.1,756.7 398.6,744.2 399.1,747.5 399.6,759.9 400.1,749.2 400.6,757.6 401.1,753.4 401.6,754.3 402.1,764.3 402.6,754.7 403.1,748.6 403.6,750.1 404.1,740.1 404.6,733.5 405.1,747.6 405.6,768.2 406.1,759.5 406.6,741.7 407.1,757.9 407.6,758.6 408.1,750.3 408.6,768 409.1,762.6 409.6,760.7 410.1,757.9 410.6,737.1 411.1,756.2 411.6,763.5 412.1,751.9 412.6,751.6 413.1,752.8 413.6,744.2 414.1,745.9 414.6,755.7 415.1,767.4 415.6,768.7 416.1,757.3 416.6,761.6 417.1,750.6 417.6,766.1 418.1,751.9 418.6,765.7 419.1,753.4 419.6,755.2 420.1,747.5 420.6,761.2 421.1,760.7 421.6,758.3 422.1,757.1 422.6,752.6 423.1,756.5 423.6,771.9 424.1,767.7 424.6,752.8 425.1,755.6 425.6,769 426.1,753.2 426.6,754 427.1,756.3 427.6,762 428.1,759.2 428.6,753.6 429.1,749.2 429.6,735.4 430.1,735.1 430.6,737.8 431.1,752.2 431.6,753.4 432.1,751.8 432.6,756.3 433.1,762 433.6,759.2 434.1,755.4 434.6,763.5 435.1,756.3 435.6,738.7 436.1,759.8 436.6,747.5 437.1,757.1 437.6,762 438.1,763.1 438.6,761.9 439.1,766.1 439.6,767.9 440.1,759.2 440.6,749.1 441.1,756.4 441.6,753.9 442.1,760 442.6,771.9 443.1,755.6 443.6,749.3 444.1,744.2 444.6,738 445.1,751.4 445.6,749.3 446.1,752 446.6,771.9 447.1,766.5 447.6,750.8 448.1,757.9 448.6,758 449.1,734.5 449.6,750.9 450.1,749.4 450.6,755.8 451.1,757.9 451.6,759.8 452.1,756 452.6,745.4 453.1,741.3 453.6,742.7 454.1,759.1 454.6,745.2 455.1,751.1 455.6,747.2 456.1,753.2 456.6,758.8 457.1,747.8 457.6,755.5 458.1,756.5 458.6,760.9 459.1,763.7 459.6,770.6 460.1,749 460.6,766.8 461.1,758.1 461.6,760.7 462.1,771.9 462.6,754.4 463.1,759.3 463.6,747 464.1,748.2 464.6,766.5 465.1,771.9 465.6,757.5 466.1,753.7 466.6,760.9 467.1,741.3 467.6,751.8 468.1,761.5 468.6,760.9 469.1,759.4 469.6,752.6 470.1,763.3 470.6,758.3 471.1,755.9 471.6,765.1 472.1,760 472.6,754.4 473.1,758.6 473.6,754.8 474.1,755.1 474.6,754.6 475.1,762.8 475.6,765.6 476.1,761 476.6,770.1 477.1,771.7 477.6,769.6 478.1,762.6 478.6,760.5 479.1,747.9 479.6,752.4 480.1,756.8 480.6,765.2 481.1,752.1 481.6,765.6 482.1,759.7 482.6,757.6 483.1,763 483.6,762.1 484.1,763.6 484.6,760.9 485.1,763.3" fill="none" stroke="#eeac4c" stroke-width="0.7" stroke-opacity="0.75"/>
<polyline points="322.6,765.3 323.1,766.9 323.6,741.9 324.1,740.9 324.6,740.3 325.1,755.3 325.6,747.6 326.1,749.4 326.6,744.4 327.1,761.7 327.6,758.4 328.1,769.5 328.6,747.7 329.1,763.9 329.6,771.9 330.1,767 330.6,770.2 331.1,766.7 331.6,767.7 332.1,771.9 332.6,761.9 333.1,739.4 333.6,753 334.1,761.5 334.6,750.5 335.1,759.3 335.6,753.2 336.1,760.5 336.6,754.2 337.1,751 337.6,754.2 338.1,766.8 338.6,752.9 339.1,771.9 339.6,765.5 340.1,764.8 340.6,759.3 341.1,754.5 341.6,737.9 342.1,761.8 342.6,771.9 343.1,757.7 343.6,746.5 344.1,730.4 344.6,724 345.1,709 345.6,732.6 346.1,744.4 346.6,743.6 347.1,759.5 347.6,753.8 348.1,763 348.6,759.6 349.1,751.8 349.6,771.9 350.1,761.2 350.6,771.9 351.1,741.6 351.6,748.1 352.1,749 352.6,744.2 353.1,751.1 353.6,747.4 354.1,755.3 354.6,756.2 355.1,760.9 355.6,751.9 356.1,760.8 356.6,751.3 357.1,753 357.6,759 358.1,766.5 358.6,761.6 359.1,759 359.6,757.8 360.1,771.7 360.6,756.4 361.1,763.7 361.6,747.9 362.1,756.4 362.6,766.3 363.1,766.9 363.6,755.7 364.1,755.4 364.6,751.5 365.1,753.9 365.6,734.5 366.1,743.5 366.6,742.4 367.1,739.3 367.6,733.8 368.1,749.3 368.6,753 369.1,764.5 369.6,749.6 370.1,754.9 370.6,748.3 371.1,735.3 371.6,754.8 372.1,742.2 372.6,748.9 373.1,764.9 373.6,764.3 374.1,760.6 374.6,754.4 375.1,755.3 375.6,763.5 376.1,763.6 376.6,757.8 377.1,758.4 377.6,764.8 378.1,757 378.6,761.7 379.1,755.4 379.6,771.9 380.1,754.8 380.6,750.2 381.1,754.8 381.6,758.3 382.1,755 382.6,766.5 383.1,760.2 383.6,768.5 384.1,761.7 384.6,771.6 385.1,762.8 385.6,771.9 386.1,767.4 386.6,747.1 387.1,751.8 387.6,749.5 388.1,771.9 388.6,771.9 389.1,751.9 389.6,760.4 390.1,770.1 390.6,753.7 391.1,750.6 391.6,746.3 392.1,739 392.6,739.1 393.1,745.7 393.6,757.9 394.1,762 394.6,760.8 395.1,761 395.6,758.1 396.1,756.5 396.6,757.7 397.1,759.3 397.6,766.5 398.1,760.7 398.6,741.6 399.1,745.3 399.6,760.7 400.1,764.4 400.6,749.5 401.1,771.9 401.6,754.4 402.1,753.7 402.6,760 403.1,753.5 403.6,755.4 404.1,733.1 404.6,749.7 405.1,765.5 405.6,764.5 406.1,764.4 406.6,756.9 407.1,756.5 407.6,764.2 408.1,763.1 408.6,771.9 409.1,765.9 409.6,766.5 410.1,742.1 410.6,748.7 411.1,740.7 411.6,748.2 412.1,762.3 412.6,765.7 413.1,748.3 413.6,760.5 414.1,752.5 414.6,769.8 415.1,763 415.6,763.7 416.1,769.8 416.6,760.9 417.1,756.1 417.6,760.2 418.1,755.9 418.6,745.6 419.1,754 419.6,756.1 420.1,759.4 420.6,757.3 421.1,755.8 421.6,749.9 422.1,760.4 422.6,759.7 423.1,771.9 423.6,771.9 424.1,764.6 424.6,771.9 425.1,763.5 425.6,771.9 426.1,758 426.6,756.4 427.1,771.7 427.6,755.7 428.1,761.1 428.6,762.6 429.1,757.5 429.6,746.9 430.1,746.8 430.6,746.6 431.1,754.3 431.6,768.5 432.1,771.1 432.6,752.5 433.1,759.5 433.6,758.2 434.1,757.2 434.6,753.9 435.1,752.6 435.6,747.2 436.1,745.2 436.6,763.3 437.1,755.4 437.6,757.3 438.1,760.3 438.6,771.9 439.1,763.4 439.6,758.7 440.1,762.1 440.6,765.7 441.1,770.7 441.6,765.2 442.1,756.7 442.6,766.8 443.1,746.8 443.6,746.5 444.1,756.1 444.6,738.9 445.1,743.8 445.6,750.7 446.1,766.2 446.6,771.9 447.1,758.9 447.6,758.9 448.1,749.5 448.6,741.9 449.1,734.6 449.6,743.5 450.1,740.2 450.6,750.2 451.1,748 451.6,745.6 452.1,759.1 452.6,758.2 453.1,747.3 453.6,734.5 454.1,747.6 454.6,750.1 455.1,759.2 455.6,771.4 456.1,760.2 456.6,763.9 457.1,766.1 457.6,750.5 458.1,752 458.6,756.8 459.1,759.6 459.6,757.3 460.1,757.4 460.6,748.2 461.1,754.3 461.6,755.8 462.1,771.9 462.6,752.6 463.1,752 463.6,759.9 464.1,771.9 464.6,755 465.1,762.6 465.6,759.8 466.1,762.6 466.6,761.8 467.1,760.7 467.6,750.6 468.1,748.5 468.6,760 469.1,768.9 469.6,762.8 470.1,761.4 470.6,760.7 471.1,758.8 471.6,764.2 472.1,761.2 472.6,760.7 473.1,770.7 473.6,757.7 474.1,745.2 474.6,746.7 475.1,754.8 475.6,744.3 476.1,762.2 476.6,753.4 477.1,771.9 477.6,771.9 478.1,771.9 478.6,765.1 479.1,762.1 479.6,757.3 480.1,757.8 480.6,763.8 481.1,763.9 481.6,771.9 482.1,771.9 482.6,768.8 483.1,763.7 483.6,751.4 484.1,771.9 484.6,762.5 485.1,762.4" fill="none" stroke="#eeac4c" stroke-width="0.7" stroke-opacity="0.75"/>
<polygon points="322.3,774.5 322.6,769.2 323.1,767.8 323.6,771.2 324.1,769.9 324.6,770.2 325.1,769.9 325.6,768.6 326.1,772.5 326.6,773.2 327.1,772.2 327.6,772.5 328.1,772.7 328.6,769.8 329.1,769.5 329.6,773.2 330.1,773.2 330.6,773.2 331.1,771.6 331.6,771.6 332.1,773.2 332.6,771.3 333.1,769.5 333.6,771.4 334.1,770.3 334.6,773.2 335.1,770.4 335.6,772.6 336.1,771.2 336.6,773.2 337.1,773 337.6,773.2 338.1,773.2 338.6,771.2 339.1,771.9 339.6,771.7 340.1,769.1 340.6,770.4 341.1,770.6 341.6,770.1 342.1,771 342.6,769.2 343.1,770.3 343.6,772.1 344.1,771.9 344.6,770.1 345.1,772.9 345.6,771.4 346.1,771.4 346.6,771.9 347.1,771.6 347.6,770.5 348.1,769.2 348.6,767.8 349.1,770.4 349.6,769.9 350.1,769.4 350.6,773.2 351.1,773.2 351.6,769.8 352.1,770.5 352.6,772.4 353.1,769.9 353.6,772.8 354.1,773.2 354.6,770.7 355.1,770.6 355.6,770 356.1,767.8 356.6,772.3 357.1,769.6 357.6,772.5 358.1,771.6 358.6,771.4 359.1,768.2 359.6,771.8 360.1,773.2 360.6,773.2 361.1,768.7 361.6,771.1 362.1,769.1 362.6,772 363.1,773.2 363.6,773 364.1,769.1 364.6,773.1 365.1,770.3 365.6,769.1 366.1,773.2 366.6,768.5 367.1,770.8 367.6,770.8 368.1,771.3 368.6,769.4 369.1,772.2 369.6,769.5 370.1,770.9 370.6,770.3 371.1,772.4 371.6,768.7 372.1,769.9 372.6,772.6 373.1,771.2 373.6,771.9 374.1,770.5 374.6,769.7 375.1,773.2 375.6,770.4 376.1,769.2 376.6,770.4 377.1,771.5 377.6,769.8 378.1,773.2 378.6,772.5 379.1,772.7 379.6,773.2 380.1,770.7 380.6,770.8 381.1,770.5 381.6,769.6 382.1,772.2 382.6,771.3 383.1,773.2 383.6,773.2 384.1,773.2 384.6,769.4 385.1,770.7 385.6,773.2 386.1,772.3 386.6,773.2 387.1,773.2 387.6,769.4 388.1,770.7 388.6,768.2 389.1,771.6 389.6,771.6 390.1,772.6 390.6,772.9 391.1,772.4 391.6,773 392.1,772.1 392.6,770.9 393.1,772.5 393.6,767.8 394.1,772.1 394.6,769.1 395.1,767.8 395.6,772.3 396.1,768.8 396.6,770.2 397.1,773.2 397.6,772.1 398.1,773.2 398.6,772.8 399.1,770.7 399.6,772.8 400.1,771.5 400.6,772 401.1,772.2 401.6,771.7 402.1,772.2 402.6,772.1 403.1,770.1 403.6,767.8 404.1,772.7 404.6,771.4 405.1,772.1 405.6,772.5 406.1,770.6 406.6,771.1 407.1,768.6 407.6,769.1 408.1,772.5 408.6,773.2 409.1,770.8 409.6,769.6 410.1,770.1 410.6,771.1 411.1,771.5 411.6,771.5 412.1,771.9 412.6,771 413.1,770.3 413.6,772.1 414.1,773.2 414.6,770.7 415.1,772.8 415.6,770.9 416.1,772.2 416.6,773.2 417.1,771.8 417.6,771.5 418.1,769.8 418.6,770.2 419.1,770.7 419.6,770.8 420.1,768.9 420.6,773.2 421.1,768 421.6,768.1 422.1,770.9 422.6,772.8 423.1,768.4 423.6,771.9 424.1,770.9 424.6,771.3 425.1,770.8 425.6,772.1 426.1,770.3 426.6,770.9 427.1,771.9 427.6,769.8 428.1,770.3 428.6,772.1 429.1,771.9 429.6,770 430.1,773.2 430.6,770.8 431.1,771 431.6,773.2 432.1,772.2 432.6,768.3 433.1,769.9 433.6,773.2 434.1,771.8 434.6,772 435.1,772.6 435.6,772.8 436.1,771.5 436.6,772.1 437.1,768.1 437.6,767.8 438.1,770.8 438.6,771.7 439.1,773.2 439.6,772.6 440.1,772.6 440.6,770.9 441.1,767.8 441.6,772.1 442.1,768.3 442.6,770.8 443.1,770.6 443.6,771.4 444.1,773.2 444.6,772.9 445.1,771.8 445.6,770.2 446.1,773.1 446.6,772.1 447.1,773.2 447.6,771.9 448.1,772.9 448.6,769.7 449.1,773.1 449.6,773.2 450.1,771.6 450.6,769 451.1,771.3 451.6,771.5 452.1,770.1 452.6,771.2 453.1,769.8 453.6,769.8 454.1,771.2 454.6,773.2 455.1,770.7 455.6,770 456.1,769 456.6,772.8 457.1,773.1 457.6,770.8 458.1,771.4 458.6,771.1 459.1,772.5 459.6,771.5 460.1,771.5 460.6,773.2 461.1,769.2 461.6,772.3 462.1,773.2 462.6,773.2 463.1,771.5 463.6,773.2 464.1,772.2 464.6,773.2 465.1,772.3 465.6,772.5 466.1,767.8 466.6,770.7 467.1,768.8 467.6,773.2 468.1,772 468.6,773.2 469.1,770.3 469.6,768.4 470.1,771.3 470.6,773.2 471.1,771.8 471.6,769.4 472.1,768.4 472.6,772.2 473.1,771.6 473.6,773.2 474.1,773.2 474.6,772.4 475.1,768.9 475.6,773 476.1,770.5 476.6,771 477.1,772.4 477.6,772.9 478.1,773.2 478.6,772.1 479.1,770.5 479.6,770 480.1,771.2 480.6,771.3 481.1,773.2 481.6,773.2 482.1,772.9 482.6,772.4 483.1,773.2 483.6,772.8 484.1,772.1 484.6,771.2 485.1,771.5 485.4,774.5" fill="#6fb5d9"/>
<polyline points="322.6,770 323.1,772.4 323.6,772.4 324.1,770.2 324.6,770.6 325.1,763.7 325.6,765.8 326.1,769 326.6,765.6 327.1,770.2 327.6,772.4 328.1,772.4 328.6,769 329.1,767.4 329.6,765.5 330.1,772.4 330.6,772.4 331.1,769.3 331.6,770.1 332.1,772.4 332.6,769.6 333.1,770.8 333.6,765.9 334.1,772.4 334.6,763.6 335.1,772.4 335.6,763.1 336.1,769.5 336.6,765.9 337.1,770.3 337.6,772.4 338.1,764.6 338.6,770.7 339.1,765.4 339.6,772.4 340.1,772.4 340.6,769.8 341.1,764.5 341.6,771.1 342.1,762.6 342.6,769.1 343.1,763.4 343.6,772.4 344.1,770.4 344.6,765.8 345.1,764.6 345.6,770.5 346.1,762.6 346.6,772.4 347.1,768.1 347.6,763.6 348.1,765.6 348.6,767.8 349.1,764.9 349.6,771.5 350.1,765.7 350.6,772.4 351.1,772.4 351.6,765.2 352.1,765.8 352.6,769.8 353.1,772.4 353.6,769.9 354.1,771.4 354.6,763.4 355.1,762.6 355.6,772.2 356.1,767.7 356.6,767.5 357.1,767 357.6,767.7 358.1,765.8 358.6,772.4 359.1,771 359.6,771.4 360.1,770.5 360.6,772.4 361.1,771.1 361.6,770.7 362.1,767.4 362.6,767.9 363.1,772.4 363.6,772.4 364.1,772.4 364.6,771.3 365.1,771.4 365.6,771.3 366.1,766.5 366.6,768.6 367.1,766.1 367.6,768.1 368.1,767.7 368.6,765.6 369.1,765.5 369.6,762.6 370.1,769.3 370.6,771 371.1,772.4 371.6,765.5 372.1,762.8 372.6,769 373.1,770.4 373.6,772.4 374.1,769.2 374.6,772.4 375.1,766.4 375.6,772.1 376.1,767.4 376.6,762.8 377.1,772.4 377.6,770.6 378.1,772.4 378.6,772.4 379.1,765.8 379.6,765.9 380.1,767.1 380.6,767.4 381.1,770.6 381.6,768.4 382.1,766.2 382.6,766.1 383.1,770.6 383.6,767.5 384.1,771.5 384.6,772.4 385.1,762.6 385.6,769 386.1,769.2 386.6,771.9 387.1,768.8 387.6,771.1 388.1,766.5 388.6,763.8 389.1,771.1 389.6,772.2 390.1,769.4 390.6,768.7 391.1,770.7 391.6,772.4 392.1,768 392.6,768.8 393.1,769.4 393.6,771.4 394.1,769.1 394.6,770 395.1,772.3 395.6,768.9 396.1,770 396.6,767.9 397.1,770 397.6,767.6 398.1,772.4 398.6,769.3 399.1,772.4 399.6,763.4 400.1,769.5 400.6,767.4 401.1,770.3 401.6,768.3 402.1,768.4 402.6,770.4 403.1,772.4 403.6,772.3 404.1,768.3 404.6,766.9 405.1,770.8 405.6,771.9 406.1,769.6 406.6,771.6 407.1,767.6 407.6,772.4 408.1,772.4 408.6,766.1 409.1,768.7 409.6,762.6 410.1,772.4 410.6,764.7 411.1,768.4 411.6,763 412.1,763.6 412.6,772.4 413.1,771.8 413.6,771.1 414.1,762.6 414.6,766.9 415.1,772.4 415.6,772.4 416.1,767.5 416.6,768.1 417.1,770.8 417.6,768.2 418.1,772.4 418.6,768.7 419.1,767.8 419.6,767.7 420.1,771.6 420.6,768.5 421.1,770.7 421.6,772.4 422.1,772.4 422.6,766.2 423.1,772.4 423.6,766.7 424.1,772.4 424.6,767.4 425.1,764.2 425.6,762.6 426.1,770.1 426.6,763 427.1,767.6 427.6,772.4 428.1,772.4 428.6,767.1 429.1,764.6 429.6,770.1 430.1,769.5 430.6,771.9 431.1,772.1 431.6,765 432.1,770 432.6,771.5 433.1,767.1 433.6,771.6 434.1,768.1 434.6,770.9 435.1,767.9 435.6,770.1 436.1,772.4 436.6,765.6 437.1,766.3 437.6,769 438.1,771.1 438.6,764.6 439.1,772.4 439.6,767.9 440.1,767.3 440.6,766.9 441.1,770 441.6,770.7 442.1,762.6 442.6,772.3 443.1,772.4 443.6,772.4 444.1,769.2 444.6,772.3 445.1,766.5 445.6,765.3 446.1,772.4 446.6,772.4 447.1,770.5 447.6,768.7 448.1,772.4 448.6,771.3 449.1,772.4 449.6,767.1 450.1,764.4 450.6,768.6 451.1,767.9 451.6,767.1 452.1,764.8 452.6,765.4 453.1,766.7 453.6,766 454.1,772.4 454.6,767.2 455.1,771.8 455.6,767.3 456.1,768.9 456.6,768.8 457.1,766.9 457.6,768.2 458.1,770.1 458.6,762.6 459.1,768.5 459.6,767.2 460.1,769.9 460.6,771.1 461.1,771.8 461.6,768.7 462.1,769 462.6,766.7 463.1,770.6 463.6,764.5 464.1,765.6 464.6,772.4 465.1,772.4 465.6,770.8 466.1,768.8 466.6,767.3 467.1,767.8 467.6,770.3 468.1,763.2 468.6,772.4 469.1,770.9 469.6,771.8 470.1,768.8 470.6,768 471.1,769.2 471.6,767.6 472.1,769.3 472.6,764.7 473.1,771.3 473.6,771.2 474.1,767.3 474.6,768 475.1,767.7 475.6,769.3 476.1,772.4 476.6,768.2 477.1,771.9 477.6,766.7 478.1,768 478.6,769 479.1,770.9 479.6,765.8 480.1,769.5 480.6,772.4 481.1,765.7 481.6,762.6 482.1,765.9 482.6,768 483.1,772.1 483.6,770.4 484.1,766.5 484.6,766.1 485.1,768.8" fill="none" stroke="#6fb5d9" stroke-width="0.7" stroke-opacity="0.8"/>
<rect x="322.3" y="708.4" width="163.1" height="68.7" fill="none" stroke="#222" stroke-width="0.9"/>
<path d="M322.3 774h-3.2M322.3 748h-3.2M322.3 722h-3.2M403.9 777.1v2.6" stroke="#222" stroke-width="0.9" fill="none"/>
<text x="312.3" y="776.9" font-size="8" text-anchor="end">0</text>
<text x="312.3" y="750.9" font-size="8" text-anchor="end">5</text>
<text x="312.3" y="724.9" font-size="8" text-anchor="end">10</text>
<path d="M424.4 716.1L439.9 716.1" stroke="#eca43c" stroke-width="1.2"/>
<path d="M424.4 725.5L439.9 725.5" stroke="#6cb4d8" stroke-width="1.2"/>
<text x="442.4" y="719" font-size="8.2">DNMT3B</text>
<text x="442.4" y="728.5" font-size="8.2">IgG</text>
<text x="322.3" y="789.2" font-size="8.2">TSS</text>
<text x="403.9" y="789.2" font-size="8.2" text-anchor="middle">center</text>
<text x="485.4" y="789.2" font-size="8.2" text-anchor="end">TES</text>
<polygon points="506.3,774.3 506.6,764 507.1,760.1 507.6,750 508.1,732 508.6,742.3 509.1,738.9 509.6,747.2 510.1,755.6 510.6,766.2 511.1,769.6 511.6,769.7 512,772.7 512.5,764.2 513,767.2 513.5,772.4 514,765.6 514.5,767.1 515,766.5 515.5,772.2 516,772.7 516.5,762.5 517,772.7 517.5,772.7 518,766.3 518.5,769.8 519,771.6 519.5,772.7 520,765.8 520.5,772.2 521,770.5 521.5,759.6 522,751.8 522.5,760.2 523,769.2 523.5,769.5 524,766.2 524.5,762 525,758.2 525.5,763.2 526,761.9 526.5,766.2 527,763.9 527.5,768.3 528,768.3 528.5,770.8 529,765.8 529.5,772.7 530,772.5 530.5,770 531,762.8 531.5,760 532,760.5 532.5,758.8 533,751.4 533.5,759 534,754.8 534.5,757.3 535,765.2 535.5,765.7 536,767.6 536.5,760.5 537,766 537.5,760 538,760.5 538.5,762 539,753.2 539.5,762.3 540,772.1 540.5,772.7 541,772.7 541.5,766.6 542,769.2 542.5,768.7 543,768.9 543.5,766.2 544,770.4 544.5,769.8 545,757.8 545.5,769.4 546,765.6 546.5,768.2 547,770.6 547.5,767.5 548,765 548.5,768.3 549,772.7 549.5,762.9 550,767 550.5,769.1 551,766.9 551.5,770.5 552,762.8 552.5,759.8 553,763.5 553.5,772.7 554,772.7 554.5,772.7 555,766.7 555.5,766.9 556,762.7 556.5,772.7 557,772.6 557.5,771.4 558,764.5 558.5,768.3 559,768.1 559.5,766.5 560,761.5 560.5,758.3 561,757.2 561.5,755.4 562,762.8 562.5,763.9 563,765 563.5,764.6 564,760.4 564.5,769 565,772.7 565.5,770.9 566,772.7 566.5,765 567,768 567.5,769.6 568,770.3 568.5,759.1 569,772.1 569.5,766.8 570,768.2 570.5,760.3 571,766.4 571.5,772.1 572,772.7 572.5,770.5 573,768.9 573.5,759.4 574,763.6 574.5,760.4 575,772.7 575.5,769 576,769.9 576.5,766.6 577,772.4 577.5,770.6 578,771.8 578.5,761.8 579,763.7 579.5,770.2 580,765.8 580.5,767.9 581,772.7 581.5,763.5 582,766.5 582.5,763 583,748.4 583.5,760.9 584,762.4 584.5,764.7 585,763.3 585.5,766.6 586,758.6 586.5,762 587,770.1 587.5,772.7 588,765.4 588.5,763.6 589,770.2 589.5,770.1 590,771.8 590.5,758.1 591,760.7 591.5,758.8 592,761.1 592.5,768.7 593,766.5 593.5,768.2 594,767.4 594.5,772.7 595,763 595.5,763.9 596,765.7 596.5,768.9 597,767.1 597.5,768.1 598,761.1 598.5,762.3 599,765.8 599.5,770.8 600,771 600.5,766.3 601,772.7 601.5,763.7 602,772.5 602.5,765.5 603,772.7 603.5,768.2 604,769.9 604.5,772.7 605,772.6 605.5,771.3 606,769.7 606.5,761.3 607,762.1 607.5,767.4 608,766.9 608.5,767.2 609,767.8 609.5,772.7 610,770.6 610.5,764.3 611,761.3 611.5,768.4 612,766.6 612.5,765.9 613,767.8 613.5,763.8 614,762 614.5,767.3 615,768.8 615.5,768.6 616,760.8 616.5,765.5 617,772.7 617.5,770.1 618,768.3 618.5,772.7 619,772.1 619.5,761.7 620,759.5 620.5,767.4 621,766 621.5,766.9 622,765.6 622.5,772.7 623,770 623.5,772.7 624,772.7 624.5,770.2 625,766 625.5,771.4 626,763.7 626.5,766.7 627,770 627.5,767.5 628,765.4 628.5,768 629,772.7 629.5,771.7 630,772.7 630.5,772.7 631,772.7 631.5,766.8 632,769.3 632.5,772.7 633,765.7 633.5,762.4 634,772.7 634.5,765.6 635,759.4 635.5,768.7 636,770.2 636.5,772.5 637,769.2 637.5,768.6 638,762 638.5,772.4 639,770.5 639.5,772.7 640,766.5 640.5,768.5 641,764.7 641.5,758.4 642,763.6 642.5,770.3 643,769.9 643.5,764.6 644,766.3 644.5,761.1 645,768.1 645.5,767.1 646,769.8 646.5,768.4 647,768.3 647.5,767.7 648,766.5 648.5,772.7 649,772.7 649.5,765.1 650,772.7 650.5,771.9 651,772.7 651.5,767.6 652,764.3 652.5,767.7 653,764 653.5,761.7 654,759.4 654.5,757.9 655,758.9 655.5,764.6 656,759.1 656.5,772.2 657,772.7 657.5,772.7 658,764.6 658.5,770.9 659,767.7 659.5,770.7 660,771.3 660.5,769.4 661,765.7 661.5,765.3 662,771.4 662.5,769.7 663,767.1 663.5,764.1 664,771.4 664.5,767 665,766.5 665.5,769.6 666,766.4 666.5,772.5 667,772.7 667.5,760.9 668,771.3 668.5,768.1 669,765.6 669.7,774.3" fill="#eda63e"/>
<polyline points="506.6,756.2 507.1,749.2 507.6,750 508.1,723.4 508.6,726.1 509.1,737.4 509.6,747.2 510.1,754.5 510.6,755.4 511.1,762.7 511.6,765.6 512,772.7 512.5,758.2 513,767.2 513.5,762.4 514,764.9 514.5,761.5 515,763.5 515.5,767.2 516,763 516.5,761.8 517,772.7 517.5,772.7 518,766.3 518.5,769.8 519,763.4 519.5,767.9 520,761.9 520.5,759.8 521,759.9 521.5,755.4 522,749.8 522.5,760.2 523,769.2 523.5,763 524,766.2 524.5,762 525,757 525.5,760.6 526,761.9 526.5,755.8 527,763 527.5,768.3 528,768.3 528.5,770.8 529,765.5 529.5,769.9 530,765.3 530.5,763.5 531,762.8 531.5,757.9 532,751.5 532.5,750.8 533,751.4 533.5,755.8 534,749.6 534.5,757.3 535,765.2 535.5,765.7 536,765.9 536.5,760.5 537,765.2 537.5,751.4 538,756 538.5,747.7 539,748.9 539.5,762.3 540,772.1 540.5,772.7 541,770.7 541.5,763.4 542,769.2 542.5,768.7 543,768.8 543.5,763.9 544,764.8 544.5,759.9 545,756.9 545.5,761.7 546,765.6 546.5,768.2 547,765.5 547.5,766.8 548,765 548.5,764 549,769.9 549.5,762.4 550,761.4 550.5,769.1 551,763.1 551.5,764.3 552,762.8 552.5,756 553,761.2 553.5,772.7 554,771.6 554.5,772.7 555,766.7 555.5,760.7 556,759.5 556.5,763 557,757.2 557.5,759.9 558,762.6 558.5,764.9 559,768.1 559.5,764.4 560,761.5 560.5,758.1 561,749.3 561.5,755.4 562,762.8 562.5,755.5 563,761.4 563.5,755.6 564,757.7 564.5,769 565,772.7 565.5,770.9 566,772.7 566.5,753.3 567,768 567.5,769.6 568,770.3 568.5,759.1 569,756.1 569.5,756.9 570,768.2 570.5,757.5 571,760.4 571.5,771.4 572,764.1 572.5,770.5 573,761.1 573.5,757.8 574,760 574.5,760.3 575,760.7 575.5,769 576,768.1 576.5,759.5 577,769.1 577.5,761.5 578,771.8 578.5,761.8 579,762.8 579.5,768.4 580,758.2 580.5,766.4 581,772.7 581.5,758.7 582,763.2 582.5,750.3 583,748.4 583.5,743.4 584,762 584.5,757.9 585,763.3 585.5,763.6 586,757 586.5,755.5 587,758.1 587.5,772.7 588,757.1 588.5,761.6 589,770.2 589.5,769.6 590,771.8 590.5,756.6 591,758.1 591.5,756.3 592,761.1 592.5,767.8 593,763.4 593.5,761.9 594,766.4 594.5,767 595,761.3 595.5,754.8 596,762.2 596.5,762.6 597,763.2 597.5,759.4 598,760.7 598.5,760.4 599,763.2 599.5,767.9 600,759.2 600.5,759.1 601,772.7 601.5,763.3 602,772.5 602.5,761.5 603,772.7 603.5,759.1 604,763.7 604.5,772.7 605,767.8 605.5,771.3 606,753 606.5,753.4 607,758.2 607.5,762.5 608,758.7 608.5,762.5 609,759 609.5,756.1 610,761.3 610.5,757.6 611,760.4 611.5,762.9 612,760.6 612.5,764.8 613,763.9 613.5,763.8 614,762 614.5,762 615,768.8 615.5,768.6 616,759.9 616.5,765.4 617,765.2 617.5,768.1 618,767.5 618.5,772.7 619,760.1 619.5,761.7 620,759.5 620.5,757.6 621,766 621.5,751.9 622,761.9 622.5,768 623,764.9 623.5,772.7 624,764.4 624.5,769.7 625,766 625.5,771.4 626,761.8 626.5,766.7 627,770 627.5,764.4 628,758.4 628.5,765.6 629,764.1 629.5,771.7 630,765.8 630.5,757.5 631,766.5 631.5,766.8 632,758.3 632.5,772.7 633,761.6 633.5,759.9 634,772.7 634.5,762.8 635,750.9 635.5,754.1 636,769.1 636.5,763.9 637,769.2 637.5,768.6 638,756.7 638.5,765.4 639,768.6 639.5,764.7 640,766.5 640.5,768.5 641,763.3 641.5,756.1 642,759.4 642.5,756.6 643,761.1 643.5,764.4 644,763.7 644.5,755.5 645,756.9 645.5,761 646,769.8 646.5,768.4 647,764.8 647.5,761 648,766.5 648.5,768.4 649,772.7 649.5,765.1 650,761.1 650.5,762.5 651,763.2 651.5,764.8 652,764.3 652.5,767 653,764 653.5,756.2 654,759.4 654.5,747.6 655,757.1 655.5,763.8 656,754.8 656.5,772.2 657,772.7 657.5,772.7 658,762.9 658.5,766.3 659,765.4 659.5,764.3 660,765.7 660.5,761.7 661,759.9 661.5,749.4 662,763.2 662.5,758.1 663,767.1 663.5,764 664,768.5 664.5,767 665,765 665.5,766.3 666,766.4 666.5,768.1 667,765.5 667.5,760.9 668,771.3 668.5,755.8 669,758.9" fill="none" stroke="#eeac4c" stroke-width="0.7" stroke-opacity="0.75"/>
<polyline points="506.6,755.6 507.1,755.9 507.6,727.7 508.1,723.4 508.6,742.3 509.1,730.6 509.6,737 510.1,755.6 510.6,766.2 511.1,758.5 511.6,761.5 512,762.2 512.5,764.2 513,759.6 513.5,768.2 514,765.6 514.5,767.1 515,763.9 515.5,772.2 516,768 516.5,762.3 517,770.5 517.5,771 518,765.4 518.5,761.6 519,771.6 519.5,772.7 520,764.1 520.5,759.3 521,770.5 521.5,754.6 522,750.5 522.5,745 523,761.4 523.5,762.7 524,766 524.5,751.3 525,756.4 525.5,763.2 526,758.5 526.5,765.7 527,757.3 527.5,763.5 528,768.3 528.5,766.8 529,757.8 529.5,771.8 530,769.5 530.5,770 531,759.9 531.5,760 532,758.6 532.5,758.8 533,738.5 533.5,753.5 534,753.7 534.5,756.4 535,759.3 535.5,758.8 536,765.4 536.5,758.9 537,766 537.5,760 538,751.5 538.5,762 539,748.2 539.5,755.6 540,767.7 540.5,771.7 541,772.7 541.5,766.6 542,756.8 542.5,766.6 543,767.3 543.5,766.2 544,758.8 544.5,769.8 545,753.9 545.5,766.5 546,762.2 546.5,762.5 547,770.6 547.5,767.5 548,763.3 548.5,768.3 549,772.7 549.5,762.9 550,767 550.5,760.5 551,766.9 551.5,770.5 552,751.1 552.5,759.8 553,759.9 553.5,768.8 554,772.7 554.5,772.7 555,765.7 555.5,766.9 556,762.7 556.5,772.7 557,772.6 557.5,763.6 558,763 558.5,757.2 559,762.4 559.5,766.5 560,751.6 560.5,757.4 561,757.2 561.5,750.1 562,757.8 562.5,763.9 563,765 563.5,759 564,760.4 564.5,765.8 565,769.4 565.5,766.1 566,766.9 566.5,765 567,765.3 567.5,766.4 568,761.8 568.5,754.1 569,772.1 569.5,759.2 570,764.5 570.5,759.7 571,766.4 571.5,764.5 572,763.1 572.5,761.1 573,758.8 573.5,759.4 574,763.6 574.5,760.2 575,772.7 575.5,768.1 576,769.9 576.5,766.6 577,770.2 577.5,766.6 578,762.7 578.5,759.8 579,761.3 579.5,763.2 580,757.3 580.5,767.4 581,767.2 581.5,763.5 582,758.4 582.5,755.4 583,746.2 583.5,760.9 584,754.7 584.5,761 585,757.1 585.5,766.6 586,756.9 586.5,756 587,770.1 587.5,765.2 588,765.4 588.5,760.5 589,763.3 589.5,765.5 590,759.3 590.5,757.9 591,755 591.5,758 592,754.3 592.5,768.7 593,762.7 593.5,768.2 594,767.4 594.5,765.5 595,763 595.5,758.5 596,765.7 596.5,761.1 597,767.1 597.5,768.1 598,752.5 598.5,762.3 599,762.6 599.5,764.9 600,771 600.5,764.7 601,766.4 601.5,763.4 602,758.2 602.5,765.5 603,764.3 603.5,768.2 604,769.9 604.5,772.7 605,769.9 605.5,765 606,759.9 606.5,761.3 607,762.1 607.5,761.2 608,766.8 608.5,767.2 609,765.4 609.5,763.8 610,761.9 610.5,759.2 611,761.3 611.5,764.3 612,766.6 612.5,765.9 613,767.8 613.5,757 614,756.8 614.5,759.8 615,768 615.5,757.5 616,752 616.5,765.5 617,758 617.5,770.1 618,765.4 618.5,772.7 619,763 619.5,752 620,757.2 620.5,754.2 621,762.2 621.5,758 622,754.5 622.5,772.7 623,770 623.5,772.7 624,772.7 624.5,770.2 625,760.5 625.5,758.5 626,763.7 626.5,765.4 627,763.8 627.5,767.5 628,763.9 628.5,763.1 629,772.7 629.5,762.7 630,767.3 630.5,772.7 631,764.6 631.5,761.3 632,755 632.5,767.1 633,765.6 633.5,758.6 634,770 634.5,760.7 635,759 635.5,768.7 636,770.2 636.5,772.5 637,761.1 637.5,763.4 638,761.9 638.5,772.4 639,767.4 639.5,772.7 640,761.6 640.5,762.9 641,757.5 641.5,756.5 642,763.6 642.5,764.1 643,769.9 643.5,764.6 644,766.3 644.5,751.3 645,768.1 645.5,767.1 646,764.7 646.5,756.5 647,768.3 647.5,757.5 648,764 648.5,772.7 649,770.7 649.5,757.1 650,772.7 650.5,771.9 651,772.7 651.5,767.6 652,763.2 652.5,767.7 653,762.4 653.5,761.4 654,758.5 654.5,757.9 655,756.8 655.5,764.6 656,755.6 656.5,766.5 657,766.4 657.5,771.7 658,760.8 658.5,761.5 659,767.7 659.5,763.3 660,771.3 660.5,769.4 661,755.8 661.5,765.2 662,771.4 662.5,760.5 663,758.1 663.5,756.3 664,765 664.5,764.1 665,766.5 665.5,769.2 666,763.5 666.5,766.5 667,769.5 667.5,754.9 668,765.6 668.5,768.1 669,765.6" fill="none" stroke="#eeac4c" stroke-width="0.7" stroke-opacity="0.75"/>
<polyline points="506.6,764 507.1,760.1 507.6,734.3 508.1,732 508.6,724.3 509.1,738.9 509.6,738.9 510.1,751.5 510.6,755.7 511.1,769.6 511.6,769.7 512,767.1 512.5,761 513,766.3 513.5,772.4 514,763.5 514.5,761.2 515,766.5 515.5,759.1 516,772.7 516.5,762.5 517,756.4 517.5,761.3 518,765.9 518.5,763.1 519,768.1 519.5,761.5 520,765.8 520.5,772.2 521,756.7 521.5,759.6 522,751.8 522.5,751.3 523,759.3 523.5,769.5 524,759.7 524.5,759.4 525,758.2 525.5,754.9 526,760.8 526.5,766.2 527,763.9 527.5,766.3 528,767.8 528.5,762 529,765.8 529.5,772.7 530,772.5 530.5,769.7 531,757 531.5,756.3 532,760.5 532.5,753.2 533,735.8 533.5,759 534,754.8 534.5,751.5 535,764.2 535.5,761.3 536,767.6 536.5,751.9 537,755.5 537.5,752 538,760.5 538.5,758.5 539,753.2 539.5,756.2 540,771.3 540.5,771.8 541,763.9 541.5,762.7 542,768.7 542.5,763.7 543,768.9 543.5,761.1 544,770.4 544.5,760.1 545,757.8 545.5,769.4 546,760.1 546.5,759.7 547,759.5 547.5,759.3 548,763.4 548.5,764.3 549,769.4 549.5,756.1 550,760.9 550.5,758 551,764.1 551.5,762.8 552,759.2 552.5,755 553,763.5 553.5,772.7 554,763.1 554.5,766 555,766.5 555.5,763.3 556,753.8 556.5,764 557,764.8 557.5,771.4 558,764.5 558.5,768.3 559,763.4 559.5,753.6 560,747.4 560.5,758.3 561,751.4 561.5,742.6 562,757.2 562.5,758.7 563,759.7 563.5,764.6 564,759.8 564.5,764.2 565,767.4 565.5,767.7 566,762.9 566.5,763.5 567,756.4 567.5,761.5 568,760.5 568.5,757.5 569,753.4 569.5,766.8 570,761.8 570.5,760.3 571,761.8 571.5,772.1 572,772.7 572.5,761.8 573,768.9 573.5,756.2 574,758 574.5,760.4 575,761.8 575.5,759.8 576,759.8 576.5,758.6 577,772.4 577.5,770.6 578,759.5 578.5,760.9 579,763.7 579.5,770.2 580,765.8 580.5,767.9 581,762 581.5,758.7 582,766.5 582.5,763 583,747.3 583.5,759.5 584,762.4 584.5,764.7 585,762.8 585.5,759.7 586,758.6 586.5,762 587,763.6 587.5,767.2 588,761.6 588.5,763.6 589,764.2 589.5,770.1 590,763.3 590.5,758.1 591,760.7 591.5,758.8 592,756.2 592.5,764.5 593,766.5 593.5,765.8 594,765.4 594.5,772.7 595,762.8 595.5,763.9 596,755.4 596.5,768.9 597,756.3 597.5,762.3 598,761.1 598.5,760.9 599,765.8 599.5,770.8 600,763.1 600.5,766.3 601,772.7 601.5,763.7 602,765.7 602.5,763.3 603,762.6 603.5,765.1 604,760.2 604.5,770 605,772.6 605.5,760 606,769.7 606.5,758.6 607,759.9 607.5,767.4 608,766.9 608.5,754.2 609,767.8 609.5,772.7 610,770.6 610.5,764.3 611,755.7 611.5,768.4 612,764.9 612.5,765.9 613,764.1 613.5,755.1 614,756.3 614.5,767.3 615,764.3 615.5,766.9 616,760.8 616.5,759.1 617,772.7 617.5,769.2 618,768.3 618.5,772.7 619,772.1 619.5,752.1 620,753.1 620.5,767.4 621,765.9 621.5,766.9 622,765.6 622.5,772.7 623,768.3 623.5,770.5 624,766.3 624.5,766.8 625,755.3 625.5,767 626,763.5 626.5,763.8 627,763.5 627.5,762.2 628,765.4 628.5,768 629,766.4 629.5,763.6 630,772.7 630.5,759.3 631,772.7 631.5,760.6 632,769.3 632.5,761.2 633,765.7 633.5,762.4 634,767.8 634.5,765.6 635,759.4 635.5,761.8 636,766.4 636.5,761.2 637,768.8 637.5,767 638,762 638.5,770 639,770.5 639.5,764.6 640,761.6 640.5,762.8 641,764.7 641.5,758.4 642,756.5 642.5,770.3 643,768 643.5,763 644,762.2 644.5,761.1 645,762.7 645.5,766.8 646,769.4 646.5,763.7 647,766.6 647.5,767.7 648,764.6 648.5,772.7 649,770.7 649.5,765.1 650,772.7 650.5,753.7 651,757.3 651.5,754.9 652,763.6 652.5,762.1 653,759.7 653.5,761.7 654,759.4 654.5,756.5 655,758.9 655.5,755 656,759.1 656.5,765.2 657,772.7 657.5,757.4 658,764.6 658.5,770.9 659,759.4 659.5,770.7 660,757.5 660.5,767.8 661,765.7 661.5,765.3 662,766.2 662.5,769.7 663,761.1 663.5,764.1 664,771.4 664.5,764.6 665,763.6 665.5,769.6 666,764.6 666.5,772.5 667,772.7 667.5,759.3 668,764.6 668.5,758.2 669,762.9" fill="none" stroke="#eeac4c" stroke-width="0.7" stroke-opacity="0.75"/>
<polygon points="506.3,774.8 506.6,773.7 507.1,772.6 507.6,773.1 508.1,771.9 508.6,772.2 509.1,773 509.6,772.7 510.1,772.5 510.6,773.7 511.1,773.7 511.6,773.7 512,773.7 512.5,772.5 513,770.9 513.5,770.3 514,773.4 514.5,771.7 515,773.7 515.5,772.4 516,772.8 516.5,769.6 517,773.1 517.5,773.3 518,773.7 518.5,773.7 519,771.1 519.5,770 520,773.5 520.5,773.7 521,773.5 521.5,773.7 522,772.8 522.5,770 523,773.7 523.5,772.4 524,771.8 524.5,773.7 525,772.7 525.5,773.7 526,771.7 526.5,772.1 527,772.6 527.5,773.7 528,773.6 528.5,772.2 529,773.5 529.5,771.4 530,771.9 530.5,771.6 531,772.3 531.5,771.2 532,773.2 532.5,773 533,771.3 533.5,773.7 534,773.7 534.5,771.4 535,770.7 535.5,771.4 536,769.4 536.5,772.2 537,773.7 537.5,773.2 538,773.7 538.5,772.8 539,772.1 539.5,769.9 540,769.5 540.5,772.1 541,770.1 541.5,771.1 542,773.2 542.5,773.3 543,773.7 543.5,772.8 544,772.8 544.5,773.7 545,772.4 545.5,773.4 546,769.4 546.5,773.7 547,770.7 547.5,773.4 548,773 548.5,771.8 549,773.7 549.5,773.3 550,771.3 550.5,773.7 551,773.7 551.5,773.7 552,773.3 552.5,773.7 553,773.1 553.5,773.5 554,771.9 554.5,770.3 555,773.7 555.5,773.7 556,773.7 556.5,769.9 557,773.1 557.5,773.7 558,773.7 558.5,771.9 559,773.7 559.5,773.7 560,771.3 560.5,772.3 561,772.2 561.5,771.7 562,773.7 562.5,773.7 563,773.2 563.5,773.7 564,771 564.5,771.6 565,772.4 565.5,771.9 566,773.1 566.5,772.8 567,771 567.5,773.7 568,772 568.5,770.6 569,773.7 569.5,772.6 570,772.4 570.5,772.8 571,771.1 571.5,771.9 572,772.3 572.5,772.9 573,773.7 573.5,771.4 574,772.8 574.5,773.5 575,772.9 575.5,769.5 576,773.5 576.5,770.9 577,773.7 577.5,773.7 578,769.8 578.5,773.7 579,772.3 579.5,769.8 580,773.7 580.5,772.7 581,772.1 581.5,773.4 582,771.3 582.5,771.9 583,772.7 583.5,771.6 584,772.8 584.5,773.7 585,771.7 585.5,769.6 586,771.1 586.5,772 587,773.7 587.5,773.5 588,771.2 588.5,772 589,770.4 589.5,773 590,773.7 590.5,773.7 591,771.8 591.5,771.2 592,772.6 592.5,771.8 593,772 593.5,771.1 594,773.7 594.5,773.7 595,773.7 595.5,772.3 596,772.2 596.5,773.7 597,772.2 597.5,771.5 598,773.6 598.5,771.9 599,773.7 599.5,772 600,773.7 600.5,772.2 601,773.7 601.5,773.7 602,771 602.5,772.4 603,773.6 603.5,770.8 604,773.7 604.5,771.2 605,771.8 605.5,773.1 606,772.1 606.5,770.5 607,771.4 607.5,772.3 608,771.8 608.5,770.3 609,773.6 609.5,771.3 610,773.7 610.5,769.9 611,771.4 611.5,773.3 612,771.5 612.5,773.1 613,771.9 613.5,773.7 614,771.2 614.5,771.9 615,772.1 615.5,771.6 616,773 616.5,772 617,771.5 617.5,773.5 618,773.3 618.5,769.5 619,773.3 619.5,772.1 620,773.7 620.5,773.7 621,770.4 621.5,770.6 622,773.7 622.5,773.7 623,773.7 623.5,769.4 624,771.5 624.5,772.2 625,772.8 625.5,772.3 626,772.5 626.5,770.7 627,771.8 627.5,770.4 628,772.9 628.5,769.7 629,772 629.5,773 630,773.7 630.5,773.5 631,771.6 631.5,770.9 632,773.3 632.5,773.4 633,769.4 633.5,772.2 634,771 634.5,772.4 635,773.7 635.5,773.1 636,773.7 636.5,773.3 637,773.7 637.5,773.4 638,773.7 638.5,773.7 639,772.2 639.5,771.7 640,772.1 640.5,770.2 641,770.5 641.5,772.6 642,771.7 642.5,771.7 643,770.8 643.5,773.1 644,769.4 644.5,772.2 645,770.2 645.5,773.6 646,772.8 646.5,773.7 647,772.3 647.5,773 648,773.3 648.5,771 649,773 649.5,771.8 650,773.7 650.5,773.7 651,769.4 651.5,771.3 652,771.6 652.5,773.7 653,771.6 653.5,772.2 654,772.2 654.5,770.4 655,769.8 655.5,771.1 656,773.6 656.5,773.5 657,772 657.5,773.7 658,773.2 658.5,773.7 659,771.4 659.5,770.5 660,772 660.5,770.7 661,772.6 661.5,772.1 662,771.6 662.5,773 663,771.3 663.5,773.2 664,773.7 664.5,771.7 665,770.9 665.5,769.8 666,773.7 666.5,771.4 667,769.8 667.5,771.1 668,772.8 668.5,773.7 669,771.1 669.7,774.8" fill="#6fb5d9"/>
<polyline points="506.6,771.8 507.1,769.7 507.6,772.8 508.1,772.5 508.6,771 509.1,772.3 509.6,771.1 510.1,767.4 510.6,773.1 511.1,772.2 511.6,772.2 512,771.3 512.5,769.2 513,765.8 513.5,766.6 514,765.3 514.5,773.1 515,772.4 515.5,765.3 516,769.8 516.5,769.5 517,770.8 517.5,771.5 518,766.2 518.5,769.9 519,771.9 519.5,769.9 520,770.2 520.5,768.5 521,768.6 521.5,769.2 522,770.6 522.5,769.3 523,770.4 523.5,773.1 524,769.9 524.5,773.1 525,770.1 525.5,772.4 526,765.6 526.5,768.5 527,771.1 527.5,771.2 528,767.5 528.5,772.8 529,765.9 529.5,766.2 530,768.2 530.5,771.3 531,768.2 531.5,770.9 532,773.1 532.5,772.7 533,766.9 533.5,770.6 534,771.6 534.5,766.3 535,768.6 535.5,768 536,769.1 536.5,773.1 537,770.3 537.5,773.1 538,767.1 538.5,772.5 539,765.3 539.5,773.1 540,773.1 540.5,767.4 541,773.1 541.5,770.8 542,769.8 542.5,765.3 543,769.4 543.5,769.2 544,770.6 544.5,770.9 545,772.5 545.5,769.1 546,771.5 546.5,771.2 547,773.1 547.5,768.7 548,770.3 548.5,771.2 549,770.1 549.5,766.5 550,773.1 550.5,767.9 551,771.6 551.5,771.6 552,769 552.5,768.2 553,773.1 553.5,766.9 554,772.4 554.5,766.3 555,770.8 555.5,765.3 556,773.1 556.5,769.8 557,766.1 557.5,772.4 558,769.3 558.5,773.1 559,773.1 559.5,773.1 560,771.5 560.5,773.1 561,769.6 561.5,771.6 562,773.1 562.5,768.9 563,767.3 563.5,768.5 564,768.4 564.5,772 565,771.8 565.5,770.4 566,770.1 566.5,768.3 567,765.3 567.5,767.2 568,771.4 568.5,773.1 569,773.1 569.5,769.9 570,773.1 570.5,765.3 571,772 571.5,771.5 572,769.6 572.5,772.6 573,771.3 573.5,767 574,767.3 574.5,765.4 575,766.3 575.5,766.8 576,773.1 576.5,771 577,772.9 577.5,771 578,769.7 578.5,769 579,768.9 579.5,767.3 580,768.4 580.5,766.7 581,773.1 581.5,773.1 582,770 582.5,768.7 583,773.1 583.5,773.1 584,768.1 584.5,771.5 585,768.8 585.5,768.2 586,769.4 586.5,773 587,768.1 587.5,771.7 588,768.3 588.5,773.1 589,769.3 589.5,770.8 590,771.7 590.5,768.8 591,769.7 591.5,770.3 592,769.6 592.5,773.1 593,769.7 593.5,773.1 594,773.1 594.5,770.4 595,769.9 595.5,773 596,773.1 596.5,773.1 597,772.2 597.5,772.6 598,766 598.5,773.1 599,771.3 599.5,767.7 600,770 600.5,770.7 601,766.5 601.5,767.3 602,767.2 602.5,771.9 603,768.6 603.5,768.7 604,772.5 604.5,768.1 605,769.9 605.5,772.1 606,770.1 606.5,769.8 607,770.4 607.5,771 608,773.1 608.5,771.3 609,770.9 609.5,773.1 610,768.9 610.5,771 611,768.8 611.5,769.8 612,771.5 612.5,773.1 613,771.8 613.5,773.1 614,773 614.5,772.4 615,772.2 615.5,769.4 616,769.1 616.5,770.4 617,773.1 617.5,772.4 618,769.5 618.5,765.7 619,772.6 619.5,772.7 620,772.6 620.5,771.1 621,768.8 621.5,772.8 622,772.3 622.5,772.2 623,766.3 623.5,770.8 624,767.5 624.5,767.5 625,770.9 625.5,769.8 626,771.4 626.5,771.5 627,773.1 627.5,773 628,772.4 628.5,768.7 629,772 629.5,773.1 630,769.7 630.5,772.5 631,771.8 631.5,773.1 632,768.4 632.5,771.9 633,769.9 633.5,773.1 634,772.3 634.5,773.1 635,769.1 635.5,765.3 636,773.1 636.5,766 637,767.1 637.5,768.1 638,771.5 638.5,771.9 639,767.1 639.5,772 640,773.1 640.5,772.6 641,770 641.5,771.1 642,771.3 642.5,770.5 643,765.3 643.5,769.6 644,769.4 644.5,773.1 645,772 645.5,767.7 646,769.3 646.5,769 647,771.3 647.5,773.1 648,771.4 648.5,771.7 649,765.7 649.5,773.1 650,772.5 650.5,765.4 651,771.4 651.5,772.2 652,768.2 652.5,772.5 653,770.8 653.5,771.5 654,768.9 654.5,771.6 655,770 655.5,773.1 656,771.9 656.5,770.5 657,772.7 657.5,769 658,770.9 658.5,773.1 659,765.6 659.5,771.9 660,768.2 660.5,768.9 661,770.5 661.5,769.3 662,769.3 662.5,773.1 663,768.4 663.5,773.1 664,767.3 664.5,772.5 665,769.6 665.5,771.1 666,768.8 666.5,771.7 667,771.7 667.5,771.5 668,769.9 668.5,767.2 669,773.1" fill="none" stroke="#6fb5d9" stroke-width="0.7" stroke-opacity="0.8"/>
<rect x="506.3" y="708.4" width="163.4" height="68.7" fill="none" stroke="#222" stroke-width="0.9"/>
<path d="M506.3 774.3h-3.2M506.3 753.9h-3.2M506.3 733.6h-3.2M506.3 713.2h-3.2M588 777.1v2.6" stroke="#222" stroke-width="0.9" fill="none"/>
<path d="M608.7 716.1L624.2 716.1" stroke="#eca43c" stroke-width="1.2"/>
<path d="M608.7 725.5L624.2 725.5" stroke="#6cb4d8" stroke-width="1.2"/>
<text x="626.7" y="719" font-size="8.2">DNMT3B</text>
<text x="626.7" y="728.5" font-size="8.2">IgG</text>
<text x="506.3" y="789.2" font-size="8.2">TSS</text>
<text x="588" y="789.2" font-size="8.2" text-anchor="middle">center</text>
<text x="669.7" y="789.2" font-size="8.2" text-anchor="end">TES</text>
<text x="300.8" y="747.7" font-size="8.4" text-anchor="middle" transform="rotate(-90 300.8 747.7)">signal</text>
<path d="M289.8 806.8L289.8 865.9" stroke="#555" stroke-width="0.9"/>
<path d="M289.8 869.4L289.8 927.8" stroke="#555" stroke-width="0.9"/>
<text x="288.2" y="839" font-size="8.6" text-anchor="middle" transform="rotate(-90 288.2 839)">PLC/PRF/5</text>
<text x="288.2" y="899.8" font-size="8.6" text-anchor="middle" transform="rotate(-90 288.2 899.8)">HLF</text>
<text x="329" y="834.4" font-size="8.2" text-anchor="end">DNMT3B</text>
<path d="M337.7 832.7v-1.6M338.7 832.7v-4.9M339.7 832.7v-1.6M340.7 832.7v-2.3M341.7 832.7v-1.6M342.7 832.7v-12.1M343.7 832.7v-5.9M344.7 832.7v-10.2M345.7 832.7v-8.6M346.7 832.7v-5.1M347.7 832.7v-2.2M348.7 832.7v-7.4M349.7 832.7v-5.8M350.7 832.7v-3.4M351.7 832.7v-2.3M352.7 832.7v-3.6M353.7 832.7v-3.2M354.7 832.7v-2.2M355.7 832.7v-4.5M356.7 832.7v-3.7M357.7 832.7v-3.1M358.7 832.7v-3.6M359.7 832.7v-3.5M360.7 832.7v-3.2M361.7 832.7v-6.4M362.7 832.7v-8.5M363.7 832.7v-3.6M364.7 832.7v-2.6M365.7 832.7v-1.9M366.7 832.7v-8.1M367.7 832.7v-2.8M368.7 832.7v-2.3M369.7 832.7v-4.5M370.7 832.7v-9.3M371.7 832.7v-1.6M372.7 832.7v-1.6M373.7 832.7v-2.3M374.7 832.7v-2.8M375.7 832.7v-2.3M376.7 832.7v-3.6M377.7 832.7v-3.3M378.7 832.7v-2.9M379.7 832.7v-3.3M380.7 832.7v-1.9M381.7 832.7v-2.6M382.7 832.7v-3.5M383.7 832.7v-1.8M384.7 832.7v-3.2M385.7 832.7v-3.8M386.7 832.7v-3.1M387.7 832.7v-4M388.7 832.7v-2.1M389.7 832.7v-7M390.7 832.7v-1.8M391.7 832.7v-3.4M392.7 832.7v-9M393.7 832.7v-2.5M394.7 832.7v-4.9M395.7 832.7v-1.8M396.7 832.7v-2.7M397.7 832.7v-3.3M398.7 832.7v-1.6M399.7 832.7v-2.8M400.7 832.7v-5.4M401.7 832.7v-3.9M402.7 832.7v-10M403.7 832.7v-2.8M404.7 832.7v-6.6M405.7 832.7v-2.5M406.7 832.7v-4.3M407.7 832.7v-5.3M408.7 832.7v-3.5M409.7 832.7v-2.6M410.7 832.7v-2M411.7 832.7v-2.1M412.7 832.7v-9.3M413.7 832.7v-2.5M414.7 832.7v-2.2M415.7 832.7v-3.6M416.7 832.7v-4.2M417.7 832.7v-2.8M418.7 832.7v-3.7M419.7 832.7v-6.7M420.7 832.7v-4M421.7 832.7v-2.1M422.7 832.7v-3M423.7 832.7v-2.8M424.7 832.7v-9M425.7 832.7v-5.3M426.7 832.7v-2.6M427.7 832.7v-3.3M428.7 832.7v-2.8M429.7 832.7v-2.2M430.7 832.7v-12.2M431.7 832.7v-6.4M432.7 832.7v-3M433.7 832.7v-2.4M434.7 832.7v-2.6M435.7 832.7v-2.6M436.7 832.7v-2.1M437.7 832.7v-2M438.7 832.7v-1.9M439.7 832.7v-3.8M440.7 832.7v-3.4M441.7 832.7v-2.9M442.7 832.7v-2.8M443.7 832.7v-7.3M444.7 832.7v-3.6M445.7 832.7v-2.3M446.7 832.7v-2.5M447.7 832.7v-3M448.7 832.7v-2M449.7 832.7v-2.8M450.7 832.7v-2.8M451.7 832.7v-11.6M452.7 832.7v-2.7M453.7 832.7v-4.5M454.7 832.7v-8.7M455.7 832.7v-15.8M456.7 832.7v-2.6M457.7 832.7v-2.3M458.7 832.7v-5M459.7 832.7v-3.7M460.7 832.7v-4.2M461.7 832.7v-7.2M462.7 832.7v-6.6M463.7 832.7v-2.6M464.7 832.7v-1.8M465.7 832.7v-5.5M466.7 832.7v-4.3M467.7 832.7v-2.3M468.7 832.7v-4.9M469.7 832.7v-2.4M470.7 832.7v-3.1M471.7 832.7v-2.8M472.7 832.7v-8.3M473.7 832.7v-1.6M474.7 832.7v-3.8M475.7 832.7v-3.1M476.7 832.7v-2.6M477.7 832.7v-5.4M478.7 832.7v-3.2M479.7 832.7v-3.6M480.7 832.7v-1.6M481.7 832.7v-5.8M482.7 832.7v-1.6M483.7 832.7v-5.4M484.7 832.7v-2.5M485.7 832.7v-5M486.7 832.7v-2.4M487.7 832.7v-1.9M488.7 832.7v-2M489.7 832.7v-4.9M490.7 832.7v-2.3M491.7 832.7v-2.9M492.7 832.7v-2.5M493.7 832.7v-3.5M494.7 832.7v-2.9M495.7 832.7v-4M496.7 832.7v-3.9M497.7 832.7v-2.2M498.7 832.7v-9.5M499.7 832.7v-1.9M500.7 832.7v-2.9M501.7 832.7v-6M502.7 832.7v-2.2M503.7 832.7v-3.3M504.7 832.7v-3.1M505.7 832.7v-2.7M506.7 832.7v-3.2M507.7 832.7v-5.7M508.7 832.7v-1.9M509.7 832.7v-2.4M510.7 832.7v-1.9M511.7 832.7v-4.7M512.7 832.7v-5.6M513.7 832.7v-3.1M514.7 832.7v-6.9M515.7 832.7v-5.7M516.7 832.7v-3.9M517.7 832.7v-4.3M518.7 832.7v-3M519.7 832.7v-1.7M520.7 832.7v-7.5M521.7 832.7v-3M522.7 832.7v-3.1M523.7 832.7v-3M524.7 832.7v-7.2M525.7 832.7v-8.8M526.7 832.7v-4.6M527.7 832.7v-7.8M528.7 832.7v-3.7M529.7 832.7v-3.3M530.7 832.7v-6.4M531.7 832.7v-7.1M532.7 832.7v-3.1M533.7 832.7v-3M534.7 832.7v-12.7M535.7 832.7v-8.4M536.7 832.7v-2M537.7 832.7v-2.2M538.7 832.7v-2.9M539.7 832.7v-2.9M540.7 832.7v-1.6M541.7 832.7v-1.7M542.7 832.7v-2M543.7 832.7v-6.2M544.7 832.7v-2M545.7 832.7v-3.4M546.7 832.7v-9.5M547.7 832.7v-3.8M548.7 832.7v-3.1M549.7 832.7v-9.1M550.7 832.7v-2.4M551.7 832.7v-3.1M552.7 832.7v-3.4M553.7 832.7v-2M554.7 832.7v-2.8M555.7 832.7v-1.6M556.7 832.7v-1.6M557.7 832.7v-2M558.7 832.7v-3.6M559.7 832.7v-3.5M560.7 832.7v-2.2M561.7 832.7v-6.4M562.7 832.7v-6.2M563.7 832.7v-2M564.7 832.7v-5.8M565.7 832.7v-8.3M566.7 832.7v-6M567.7 832.7v-2.1M568.7 832.7v-2.9M569.7 832.7v-5.1M570.7 832.7v-3.5M571.7 832.7v-2.9M572.7 832.7v-4.8M573.7 832.7v-3M574.7 832.7v-3.5M575.7 832.7v-11.5M576.7 832.7v-2M577.7 832.7v-4.1M578.7 832.7v-2.1M579.7 832.7v-1.6M580.7 832.7v-5.2M581.7 832.7v-3.2M582.7 832.7v-2.9M583.7 832.7v-1.6M584.7 832.7v-10.2M585.7 832.7v-5.2M586.7 832.7v-2.3M587.7 832.7v-2.3M588.7 832.7v-3.3M589.7 832.7v-2.5M590.7 832.7v-2.2M591.7 832.7v-4M592.7 832.7v-3.5M593.7 832.7v-3M594.7 832.7v-3.6M595.7 832.7v-17M596.7 832.7v-2.9M597.7 832.7v-2.7M598.7 832.7v-2.5M599.7 832.7v-3.3M600.7 832.7v-1.6M601.7 832.7v-2.4M602.7 832.7v-7.4M603.7 832.7v-1.9M604.7 832.7v-2.5M605.7 832.7v-2.3M606.7 832.7v-10.3M607.7 832.7v-1.7M608.7 832.7v-12.8M609.7 832.7v-4.8M610.7 832.7v-6.3M611.7 832.7v-1.9M612.7 832.7v-3.2M613.7 832.7v-1.6M614.7 832.7v-15.5M615.7 832.7v-9.8M616.7 832.7v-6.2M617.7 832.7v-1.8M618.7 832.7v-3.2M619.7 832.7v-2.6M620.7 832.7v-2.8M621.7 832.7v-1.6M622.7 832.7v-4.1M623.7 832.7v-12M624.7 832.7v-27.5M625.7 832.7v-16.6M626.7 832.7v-1.6M627.7 832.7v-8.4M628.7 832.7v-1.8M629.7 832.7v-2.5M630.7 832.7v-2.8M631.7 832.7v-2.3M632.7 832.7v-4.1M633.7 832.7v-8.3M634.7 832.7v-8.7M635.7 832.7v-1.9M636.7 832.7v-4.8M637.7 832.7v-2.6M638.7 832.7v-4.1M639.7 832.7v-6.3M640.7 832.7v-8.3M641.7 832.7v-2.5M642.7 832.7v-1.6M643.7 832.7v-3.7M644.7 832.7v-2.3M645.7 832.7v-3.2M646.7 832.7v-12M647.7 832.7v-2.6M648.7 832.7v-5.6M649.7 832.7v-2.3M650.7 832.7v-9M651.7 832.7v-2.6M652.7 832.7v-3M653.7 832.7v-2M654.7 832.7v-2M655.7 832.7v-3.8M656.7 832.7v-3M657.7 832.7v-3.3M658.7 832.7v-3.1M659.7 832.7v-1.9M660.7 832.7v-2.6M661.7 832.7v-1.6M662.7 832.7v-3.4M663.7 832.7v-1.6M664.7 832.7v-2.8M665.7 832.7v-2.1M666.7 832.7v-3.2M667.7 832.7v-2.9" stroke="#e8c246" stroke-width="1.0" fill="none"/>
<text x="329" y="864.8" font-size="8.2" text-anchor="end">IgG</text>
<path d="M337.7 863.3v-2.2M338.7 863.3v-2.8M339.7 863.3v-1.9M340.7 863.3v-2.1M341.7 863.3v-2M342.7 863.3v-1.7M343.7 863.3v-1.7M344.7 863.3v-5.1M345.7 863.3v-1.9M346.7 863.3v-3.4M347.7 863.3v-1.7M348.7 863.3v-1.6M349.7 863.3v-1.4M350.7 863.3v-1.9M351.7 863.3v-2.6M352.7 863.3v-2M353.7 863.3v-1.5M354.7 863.3v-2.2M355.7 863.3v-2.1M356.7 863.3v-2M357.7 863.3v-1.4M358.7 863.3v-1.9M359.7 863.3v-2.4M360.7 863.3v-1.9M361.7 863.3v-2.6M362.7 863.3v-2.1M363.7 863.3v-1.8M364.7 863.3v-1.9M365.7 863.3v-2.5M366.7 863.3v-1.4M367.7 863.3v-1.6M368.7 863.3v-1.4M369.7 863.3v-3.4M370.7 863.3v-2.2M371.7 863.3v-1.9M372.7 863.3v-1.6M373.7 863.3v-2.1M374.7 863.3v-1.4M375.7 863.3v-6.2M376.7 863.3v-5.1M377.7 863.3v-2.6M378.7 863.3v-1.7M379.7 863.3v-2.7M380.7 863.3v-2.4M381.7 863.3v-3.1M382.7 863.3v-1.4M383.7 863.3v-2.5M384.7 863.3v-2.2M385.7 863.3v-1.6M386.7 863.3v-3.5M387.7 863.3v-1.6M388.7 863.3v-2.7M389.7 863.3v-2.8M390.7 863.3v-1.9M391.7 863.3v-1.6M392.7 863.3v-1.8M393.7 863.3v-2.3M394.7 863.3v-1.4M395.7 863.3v-3.8M396.7 863.3v-2M397.7 863.3v-1.9M398.7 863.3v-2.1M399.7 863.3v-1.4M400.7 863.3v-4.1M401.7 863.3v-2.2M402.7 863.3v-2.5M403.7 863.3v-2.4M404.7 863.3v-2.4M405.7 863.3v-1.8M406.7 863.3v-2.2M407.7 863.3v-1.6M408.7 863.3v-5.9M409.7 863.3v-1.5M410.7 863.3v-2.3M411.7 863.3v-2.4M412.7 863.3v-1.6M413.7 863.3v-1.8M414.7 863.3v-1.7M415.7 863.3v-1.4M416.7 863.3v-2.5M417.7 863.3v-1.4M418.7 863.3v-1.5M419.7 863.3v-1.5M420.7 863.3v-2M421.7 863.3v-2.2M422.7 863.3v-3.8M423.7 863.3v-2.8M424.7 863.3v-2.2M425.7 863.3v-2.5M426.7 863.3v-1.4M427.7 863.3v-2.7M428.7 863.3v-2.2M429.7 863.3v-1.8M430.7 863.3v-1.9M431.7 863.3v-1.7M432.7 863.3v-2M433.7 863.3v-2.8M434.7 863.3v-1.4M435.7 863.3v-1.9M436.7 863.3v-1.8M437.7 863.3v-1.4M438.7 863.3v-2.7M439.7 863.3v-1.8M440.7 863.3v-2.6M441.7 863.3v-1.8M442.7 863.3v-2.3M443.7 863.3v-1.8M444.7 863.3v-1.8M445.7 863.3v-2.2M446.7 863.3v-1.6M447.7 863.3v-1.9M448.7 863.3v-1.9M449.7 863.3v-1.7M450.7 863.3v-1.9M451.7 863.3v-2.8M452.7 863.3v-1.6M453.7 863.3v-1.5M454.7 863.3v-3.2M455.7 863.3v-4.4M456.7 863.3v-2.2M457.7 863.3v-1.6M458.7 863.3v-2.1M459.7 863.3v-2.2M460.7 863.3v-1.7M461.7 863.3v-2M462.7 863.3v-1.4M463.7 863.3v-2.3M464.7 863.3v-2.1M465.7 863.3v-3.2M466.7 863.3v-1.8M467.7 863.3v-2.4M468.7 863.3v-2M469.7 863.3v-1.7M470.7 863.3v-2.3M471.7 863.3v-1.4M472.7 863.3v-2.2M473.7 863.3v-2.2M474.7 863.3v-1.6M475.7 863.3v-1.4M476.7 863.3v-1.4M477.7 863.3v-1.9M478.7 863.3v-3.6M479.7 863.3v-1.5M480.7 863.3v-2M481.7 863.3v-1.9M482.7 863.3v-1.4M483.7 863.3v-1.9M484.7 863.3v-1.4M485.7 863.3v-1.7M486.7 863.3v-2.1M487.7 863.3v-1.4M488.7 863.3v-1.4M489.7 863.3v-2M490.7 863.3v-2.1M491.7 863.3v-2.7M492.7 863.3v-1.7M493.7 863.3v-5.8M494.7 863.3v-1.4M495.7 863.3v-5.4M496.7 863.3v-2.4M497.7 863.3v-1.7M498.7 863.3v-2M499.7 863.3v-2.4M500.7 863.3v-1.9M501.7 863.3v-2.5M502.7 863.3v-2.4M503.7 863.3v-1.8M504.7 863.3v-1.7M505.7 863.3v-2.8M506.7 863.3v-1.5M507.7 863.3v-2.6M508.7 863.3v-1.7M509.7 863.3v-1.6M510.7 863.3v-1.4M511.7 863.3v-2.4M512.7 863.3v-2.2M513.7 863.3v-2.4M514.7 863.3v-1.4M515.7 863.3v-2M516.7 863.3v-2.1M517.7 863.3v-2.2M518.7 863.3v-2.4M519.7 863.3v-2.1M520.7 863.3v-2.8M521.7 863.3v-1.6M522.7 863.3v-2.4M523.7 863.3v-1.6M524.7 863.3v-9.2M525.7 863.3v-2.6M526.7 863.3v-2.3M527.7 863.3v-2M528.7 863.3v-2.4M529.7 863.3v-1.4M530.7 863.3v-5.5M531.7 863.3v-3.1M532.7 863.3v-1.4M533.7 863.3v-2.1M534.7 863.3v-1.4M535.7 863.3v-2.4M536.7 863.3v-2.9M537.7 863.3v-2.1M538.7 863.3v-1.6M539.7 863.3v-1.7M540.7 863.3v-2M541.7 863.3v-1.4M542.7 863.3v-4M543.7 863.3v-2.1M544.7 863.3v-2.5M545.7 863.3v-4.1M546.7 863.3v-1.9M547.7 863.3v-1.4M548.7 863.3v-4.5M549.7 863.3v-2.3M550.7 863.3v-1.9M551.7 863.3v-1.8M552.7 863.3v-1.7M553.7 863.3v-1.6M554.7 863.3v-1.9M555.7 863.3v-1.4M556.7 863.3v-2.2M557.7 863.3v-1.8M558.7 863.3v-2.1M559.7 863.3v-1.8M560.7 863.3v-1.9M561.7 863.3v-1.4M562.7 863.3v-2.7M563.7 863.3v-2.3M564.7 863.3v-5M565.7 863.3v-1.5M566.7 863.3v-2.7M567.7 863.3v-2.5M568.7 863.3v-1.8M569.7 863.3v-1.6M570.7 863.3v-1.9M571.7 863.3v-2.4M572.7 863.3v-1.6M573.7 863.3v-1.9M574.7 863.3v-1.9M575.7 863.3v-2.1M576.7 863.3v-2.3M577.7 863.3v-2.3M578.7 863.3v-2M579.7 863.3v-2M580.7 863.3v-1.6M581.7 863.3v-1.9M582.7 863.3v-1.4M583.7 863.3v-2M584.7 863.3v-3M585.7 863.3v-2M586.7 863.3v-1.6M587.7 863.3v-2.8M588.7 863.3v-3.5M589.7 863.3v-1.8M590.7 863.3v-1.5M591.7 863.3v-1.9M592.7 863.3v-1.8M593.7 863.3v-1.9M594.7 863.3v-2.3M595.7 863.3v-10.5M596.7 863.3v-3M597.7 863.3v-1.9M598.7 863.3v-1.4M599.7 863.3v-2.8M600.7 863.3v-2.3M601.7 863.3v-2M602.7 863.3v-2.3M603.7 863.3v-2M604.7 863.3v-1.9M605.7 863.3v-2.1M606.7 863.3v-1.9M607.7 863.3v-4.9M608.7 863.3v-1.9M609.7 863.3v-3.7M610.7 863.3v-2.6M611.7 863.3v-2.2M612.7 863.3v-2M613.7 863.3v-1.4M614.7 863.3v-1.7M615.7 863.3v-1.5M616.7 863.3v-1.9M617.7 863.3v-2.3M618.7 863.3v-1.4M619.7 863.3v-2M620.7 863.3v-1.4M621.7 863.3v-1.7M622.7 863.3v-2.2M623.7 863.3v-1.7M624.7 863.3v-2.4M625.7 863.3v-2M626.7 863.3v-1.8M627.7 863.3v-1.9M628.7 863.3v-1.9M629.7 863.3v-2M630.7 863.3v-1.4M631.7 863.3v-1.8M632.7 863.3v-1.6M633.7 863.3v-1.9M634.7 863.3v-1.6M635.7 863.3v-5.2M636.7 863.3v-2.7M637.7 863.3v-3.4M638.7 863.3v-1.8M639.7 863.3v-1.9M640.7 863.3v-2.2M641.7 863.3v-1.7M642.7 863.3v-3.5M643.7 863.3v-1.7M644.7 863.3v-2.2M645.7 863.3v-1.5M646.7 863.3v-2.7M647.7 863.3v-1.5M648.7 863.3v-1.9M649.7 863.3v-2.5M650.7 863.3v-2.1M651.7 863.3v-1.4M652.7 863.3v-2.2M653.7 863.3v-1.9M654.7 863.3v-2.1M655.7 863.3v-1.4M656.7 863.3v-2.8M657.7 863.3v-2.4M658.7 863.3v-2.4M659.7 863.3v-1.4M660.7 863.3v-1.4M661.7 863.3v-2.3M662.7 863.3v-3.8M663.7 863.3v-2.9M664.7 863.3v-2.5M665.7 863.3v-2.1M666.7 863.3v-1.7M667.7 863.3v-1.7" stroke="#44dd33" stroke-width="1.0" fill="none"/>
<text x="329" y="895.1" font-size="8.2" text-anchor="end">DNMT3B</text>
<path d="M337.7 894.6v-6.2M338.7 894.6v-5.4M339.7 894.6v-2M340.7 894.6v-2M341.7 894.6v-2.6M342.7 894.6v-4.8M343.7 894.6v-2.7M344.7 894.6v-9.5M345.7 894.6v-3.4M346.7 894.6v-2.2M347.7 894.6v-8.2M348.7 894.6v-8.8M349.7 894.6v-7.9M350.7 894.6v-7.1M351.7 894.6v-3.2M352.7 894.6v-3.8M353.7 894.6v-5.6M354.7 894.6v-1.6M355.7 894.6v-2.9M356.7 894.6v-3.2M357.7 894.6v-7.1M358.7 894.6v-6.1M359.7 894.6v-2.6M360.7 894.6v-2.5M361.7 894.6v-2.5M362.7 894.6v-2.9M363.7 894.6v-1.6M364.7 894.6v-2.5M365.7 894.6v-5.4M366.7 894.6v-4.8M367.7 894.6v-2.8M368.7 894.6v-5.7M369.7 894.6v-3M370.7 894.6v-2.9M371.7 894.6v-1.7M372.7 894.6v-8.2M373.7 894.6v-4.3M374.7 894.6v-2.3M375.7 894.6v-3.5M376.7 894.6v-4M377.7 894.6v-2.1M378.7 894.6v-1.8M379.7 894.6v-1.9M380.7 894.6v-2.4M381.7 894.6v-17M382.7 894.6v-2.9M383.7 894.6v-3.8M384.7 894.6v-1.6M385.7 894.6v-2.5M386.7 894.6v-1.6M387.7 894.6v-12M388.7 894.6v-3.8M389.7 894.6v-1.6M390.7 894.6v-3.4M391.7 894.6v-1.7M392.7 894.6v-5M393.7 894.6v-5.6M394.7 894.6v-2.7M395.7 894.6v-1.8M396.7 894.6v-9.5M397.7 894.6v-3.5M398.7 894.6v-2.3M399.7 894.6v-2M400.7 894.6v-8.8M401.7 894.6v-1.6M402.7 894.6v-6.8M403.7 894.6v-1.6M404.7 894.6v-8.7M405.7 894.6v-2.7M406.7 894.6v-1.6M407.7 894.6v-5.2M408.7 894.6v-7.3M409.7 894.6v-5.7M410.7 894.6v-6.3M411.7 894.6v-2.2M412.7 894.6v-3.8M413.7 894.6v-2.5M414.7 894.6v-16.2M415.7 894.6v-7.8M416.7 894.6v-2.3M417.7 894.6v-9M418.7 894.6v-3.4M419.7 894.6v-2M420.7 894.6v-6.2M421.7 894.6v-2.2M422.7 894.6v-7.7M423.7 894.6v-3M424.7 894.6v-3.7M425.7 894.6v-2.8M426.7 894.6v-8.6M427.7 894.6v-3.9M428.7 894.6v-2.1M429.7 894.6v-2M430.7 894.6v-2.3M431.7 894.6v-3.3M432.7 894.6v-1.6M433.7 894.6v-12.9M434.7 894.6v-2.3M435.7 894.6v-3.1M436.7 894.6v-3.9M437.7 894.6v-3.7M438.7 894.6v-1.6M439.7 894.6v-3M440.7 894.6v-2.1M441.7 894.6v-2.5M442.7 894.6v-2.5M443.7 894.6v-2.5M444.7 894.6v-4.3M445.7 894.6v-1.6M446.7 894.6v-2.8M447.7 894.6v-1.8M448.7 894.6v-2.8M449.7 894.6v-1.9M450.7 894.6v-2.1M451.7 894.6v-3.3M452.7 894.6v-17.7M453.7 894.6v-8.3M454.7 894.6v-8.1M455.7 894.6v-7.6M456.7 894.6v-1.8M457.7 894.6v-2.2M458.7 894.6v-3.7M459.7 894.6v-6M460.7 894.6v-1.7M461.7 894.6v-2.8M462.7 894.6v-4.9M463.7 894.6v-8.5M464.7 894.6v-4.5M465.7 894.6v-3.7M466.7 894.6v-4.8M467.7 894.6v-9.5M468.7 894.6v-8.5M469.7 894.6v-2.9M470.7 894.6v-10.2M471.7 894.6v-3.1M472.7 894.6v-3.2M473.7 894.6v-14.3M474.7 894.6v-4.9M475.7 894.6v-1.6M476.7 894.6v-3M477.7 894.6v-2.6M478.7 894.6v-4.2M479.7 894.6v-3.4M480.7 894.6v-4.1M481.7 894.6v-1.7M482.7 894.6v-3M483.7 894.6v-1.7M484.7 894.6v-1.6M485.7 894.6v-13.8M486.7 894.6v-1.8M487.7 894.6v-2.4M488.7 894.6v-6M489.7 894.6v-2.4M490.7 894.6v-2.7M491.7 894.6v-1.6M492.7 894.6v-4.4M493.7 894.6v-1.6M494.7 894.6v-2.6M495.7 894.6v-2M496.7 894.6v-7.3M497.7 894.6v-2.6M498.7 894.6v-1.6M499.7 894.6v-2.7M500.7 894.6v-8.1M501.7 894.6v-3.1M502.7 894.6v-3.5M503.7 894.6v-2.4M504.7 894.6v-4.5M505.7 894.6v-2.4M506.7 894.6v-1.9M507.7 894.6v-4.6M508.7 894.6v-3M509.7 894.6v-2.1M510.7 894.6v-4.9M511.7 894.6v-3.2M512.7 894.6v-1.6M513.7 894.6v-1.6M514.7 894.6v-7.9M515.7 894.6v-5.8M516.7 894.6v-1.6M517.7 894.6v-2.7M518.7 894.6v-4.5M519.7 894.6v-2M520.7 894.6v-5.3M521.7 894.6v-2.6M522.7 894.6v-1.6M523.7 894.6v-5.2M524.7 894.6v-3.4M525.7 894.6v-4.8M526.7 894.6v-2.6M527.7 894.6v-4.3M528.7 894.6v-1.6M529.7 894.6v-3.9M530.7 894.6v-7.6M531.7 894.6v-4M532.7 894.6v-2.7M533.7 894.6v-3M534.7 894.6v-1.6M535.7 894.6v-7.4M536.7 894.6v-3.8M537.7 894.6v-5.9M538.7 894.6v-2.5M539.7 894.6v-3.4M540.7 894.6v-6.2M541.7 894.6v-2.2M542.7 894.6v-2.1M543.7 894.6v-2.7M544.7 894.6v-6.9M545.7 894.6v-2.7M546.7 894.6v-1.7M547.7 894.6v-1.6M548.7 894.6v-3.2M549.7 894.6v-4M550.7 894.6v-3.2M551.7 894.6v-4M552.7 894.6v-1.9M553.7 894.6v-2.7M554.7 894.6v-4.1M555.7 894.6v-4.8M556.7 894.6v-2.7M557.7 894.6v-1.7M558.7 894.6v-1.6M559.7 894.6v-1.8M560.7 894.6v-7.2M561.7 894.6v-4.1M562.7 894.6v-2.9M563.7 894.6v-5.1M564.7 894.6v-2.5M565.7 894.6v-2.4M566.7 894.6v-10M567.7 894.6v-3.8M568.7 894.6v-3.3M569.7 894.6v-1.6M570.7 894.6v-2.4M571.7 894.6v-7.2M572.7 894.6v-8.9M573.7 894.6v-3.1M574.7 894.6v-3.2M575.7 894.6v-7.7M576.7 894.6v-5.1M577.7 894.6v-7.1M578.7 894.6v-1.8M579.7 894.6v-5.3M580.7 894.6v-12.7M581.7 894.6v-10.8M582.7 894.6v-3.7M583.7 894.6v-4.9M584.7 894.6v-2.8M585.7 894.6v-3.2M586.7 894.6v-3.6M587.7 894.6v-5.4M588.7 894.6v-2.8M589.7 894.6v-1.8M590.7 894.6v-5.9M591.7 894.6v-1.7M592.7 894.6v-2.8M593.7 894.6v-2.7M594.7 894.6v-4.7M595.7 894.6v-28M596.7 894.6v-2.3M597.7 894.6v-2M598.7 894.6v-9M599.7 894.6v-3.9M600.7 894.6v-2.7M601.7 894.6v-1.6M602.7 894.6v-1.7M603.7 894.6v-4M604.7 894.6v-2.6M605.7 894.6v-1.6M606.7 894.6v-2.7M607.7 894.6v-4.8M608.7 894.6v-4M609.7 894.6v-2.5M610.7 894.6v-2.7M611.7 894.6v-1.8M612.7 894.6v-2.7M613.7 894.6v-7.3M614.7 894.6v-1.9M615.7 894.6v-3.4M616.7 894.6v-2.7M617.7 894.6v-3.1M618.7 894.6v-5.6M619.7 894.6v-2.5M620.7 894.6v-4.8M621.7 894.6v-7.9M622.7 894.6v-3.2M623.7 894.6v-4.6M624.7 894.6v-27M625.7 894.6v-15.8M626.7 894.6v-1.7M627.7 894.6v-8M628.7 894.6v-5.5M629.7 894.6v-2.4M630.7 894.6v-2.2M631.7 894.6v-9.1M632.7 894.6v-5.1M633.7 894.6v-2.8M634.7 894.6v-1.8M635.7 894.6v-2.2M636.7 894.6v-6M637.7 894.6v-6.9M638.7 894.6v-2.1M639.7 894.6v-8.8M640.7 894.6v-7.2M641.7 894.6v-9.9M642.7 894.6v-3.5M643.7 894.6v-1.6M644.7 894.6v-9.4M645.7 894.6v-2.4M646.7 894.6v-9.8M647.7 894.6v-1.6M648.7 894.6v-2.1M649.7 894.6v-1.6M650.7 894.6v-13.8M651.7 894.6v-2.2M652.7 894.6v-3M653.7 894.6v-1.7M654.7 894.6v-1.8M655.7 894.6v-2.7M656.7 894.6v-1.8M657.7 894.6v-1.8M658.7 894.6v-3.2M659.7 894.6v-2M660.7 894.6v-3.1M661.7 894.6v-1.6M662.7 894.6v-2.7M663.7 894.6v-2.9M664.7 894.6v-1.6M665.7 894.6v-4M666.7 894.6v-10.4M667.7 894.6v-3.7" stroke="#e8c246" stroke-width="1.0" fill="none"/>
<text x="329" y="925.5" font-size="8.2" text-anchor="end">IgG</text>
<path d="M337.7 925.7v-2M338.7 925.7v-1.8M339.7 925.7v-1.6M340.7 925.7v-2.9M341.7 925.7v-3.4M342.7 925.7v-2.2M343.7 925.7v-2M344.7 925.7v-2M345.7 925.7v-2.3M346.7 925.7v-2.8M347.7 925.7v-3.5M348.7 925.7v-2.5M349.7 925.7v-3.4M350.7 925.7v-2M351.7 925.7v-2.5M352.7 925.7v-6.6M353.7 925.7v-1.4M354.7 925.7v-1.9M355.7 925.7v-1.4M356.7 925.7v-2.1M357.7 925.7v-1.9M358.7 925.7v-2M359.7 925.7v-2.3M360.7 925.7v-3.1M361.7 925.7v-1.7M362.7 925.7v-2M363.7 925.7v-2.2M364.7 925.7v-1.7M365.7 925.7v-1.4M366.7 925.7v-1.4M367.7 925.7v-1.9M368.7 925.7v-2.6M369.7 925.7v-2.6M370.7 925.7v-2.8M371.7 925.7v-2.3M372.7 925.7v-1.9M373.7 925.7v-1.4M374.7 925.7v-2.1M375.7 925.7v-1.7M376.7 925.7v-3.8M377.7 925.7v-1.4M378.7 925.7v-1.5M379.7 925.7v-2.3M380.7 925.7v-1.7M381.7 925.7v-1.8M382.7 925.7v-2.1M383.7 925.7v-2.4M384.7 925.7v-1.5M385.7 925.7v-2.7M386.7 925.7v-1.9M387.7 925.7v-3.1M388.7 925.7v-2.1M389.7 925.7v-1.4M390.7 925.7v-3.9M391.7 925.7v-2M392.7 925.7v-5.6M393.7 925.7v-1.6M394.7 925.7v-2.1M395.7 925.7v-2M396.7 925.7v-1.7M397.7 925.7v-1.7M398.7 925.7v-1.8M399.7 925.7v-1.7M400.7 925.7v-6.9M401.7 925.7v-2.2M402.7 925.7v-1.5M403.7 925.7v-4.4M404.7 925.7v-3.2M405.7 925.7v-4M406.7 925.7v-2.1M407.7 925.7v-1.9M408.7 925.7v-1.9M409.7 925.7v-2.1M410.7 925.7v-2M411.7 925.7v-3.8M412.7 925.7v-1.9M413.7 925.7v-2.3M414.7 925.7v-2.7M415.7 925.7v-1.4M416.7 925.7v-1.6M417.7 925.7v-1.4M418.7 925.7v-3.5M419.7 925.7v-3.1M420.7 925.7v-2.1M421.7 925.7v-1.4M422.7 925.7v-1.9M423.7 925.7v-1.8M424.7 925.7v-5M425.7 925.7v-6.8M426.7 925.7v-2.1M427.7 925.7v-2.5M428.7 925.7v-2.1M429.7 925.7v-2.1M430.7 925.7v-2.2M431.7 925.7v-1.5M432.7 925.7v-1.4M433.7 925.7v-2.5M434.7 925.7v-2M435.7 925.7v-2.1M436.7 925.7v-2.1M437.7 925.7v-2.6M438.7 925.7v-1.8M439.7 925.7v-3.6M440.7 925.7v-1.5M441.7 925.7v-2.5M442.7 925.7v-1.8M443.7 925.7v-1.4M444.7 925.7v-1.7M445.7 925.7v-1.4M446.7 925.7v-1.5M447.7 925.7v-1.8M448.7 925.7v-1.7M449.7 925.7v-1.9M450.7 925.7v-1.8M451.7 925.7v-1.5M452.7 925.7v-2.3M453.7 925.7v-1.4M454.7 925.7v-1.8M455.7 925.7v-1.7M456.7 925.7v-2.1M457.7 925.7v-6M458.7 925.7v-5.5M459.7 925.7v-1.7M460.7 925.7v-2.3M461.7 925.7v-2.5M462.7 925.7v-1.9M463.7 925.7v-1.6M464.7 925.7v-2M465.7 925.7v-2.6M466.7 925.7v-1.7M467.7 925.7v-2.6M468.7 925.7v-1.5M469.7 925.7v-1.9M470.7 925.7v-2.2M471.7 925.7v-2M472.7 925.7v-4.6M473.7 925.7v-1.8M474.7 925.7v-1.8M475.7 925.7v-2.1M476.7 925.7v-1.5M477.7 925.7v-1.9M478.7 925.7v-2.4M479.7 925.7v-2.4M480.7 925.7v-2.1M481.7 925.7v-2.4M482.7 925.7v-2.1M483.7 925.7v-2.2M484.7 925.7v-2.7M485.7 925.7v-3.9M486.7 925.7v-2.2M487.7 925.7v-1.4M488.7 925.7v-1.6M489.7 925.7v-1.9M490.7 925.7v-1.9M491.7 925.7v-2.5M492.7 925.7v-2M493.7 925.7v-2.6M494.7 925.7v-1.6M495.7 925.7v-1.9M496.7 925.7v-3.4M497.7 925.7v-1.4M498.7 925.7v-1.8M499.7 925.7v-2M500.7 925.7v-3.5M501.7 925.7v-1.6M502.7 925.7v-2M503.7 925.7v-1.5M504.7 925.7v-1.7M505.7 925.7v-1.4M506.7 925.7v-2M507.7 925.7v-1.8M508.7 925.7v-1.4M509.7 925.7v-6.9M510.7 925.7v-2.1M511.7 925.7v-2.5M512.7 925.7v-1.4M513.7 925.7v-1.8M514.7 925.7v-1.4M515.7 925.7v-2M516.7 925.7v-5.1M517.7 925.7v-2M518.7 925.7v-1.5M519.7 925.7v-2.1M520.7 925.7v-2.4M521.7 925.7v-1.5M522.7 925.7v-2.3M523.7 925.7v-3.5M524.7 925.7v-2.1M525.7 925.7v-2.2M526.7 925.7v-3.5M527.7 925.7v-1.4M528.7 925.7v-2.8M529.7 925.7v-2.6M530.7 925.7v-2.5M531.7 925.7v-2.1M532.7 925.7v-2M533.7 925.7v-5.6M534.7 925.7v-1.8M535.7 925.7v-1.9M536.7 925.7v-2.1M537.7 925.7v-2.1M538.7 925.7v-3.9M539.7 925.7v-1.7M540.7 925.7v-3.8M541.7 925.7v-1.8M542.7 925.7v-1.6M543.7 925.7v-2M544.7 925.7v-1.7M545.7 925.7v-1.4M546.7 925.7v-1.4M547.7 925.7v-2.6M548.7 925.7v-1.4M549.7 925.7v-2.3M550.7 925.7v-1.8M551.7 925.7v-3.7M552.7 925.7v-1.6M553.7 925.7v-2.4M554.7 925.7v-1.4M555.7 925.7v-7M556.7 925.7v-2M557.7 925.7v-7.9M558.7 925.7v-1.7M559.7 925.7v-2.6M560.7 925.7v-1.9M561.7 925.7v-1.7M562.7 925.7v-1.5M563.7 925.7v-2.2M564.7 925.7v-2M565.7 925.7v-1.4M566.7 925.7v-2M567.7 925.7v-1.7M568.7 925.7v-1.7M569.7 925.7v-1.8M570.7 925.7v-2M571.7 925.7v-1.8M572.7 925.7v-4.9M573.7 925.7v-1.5M574.7 925.7v-2.9M575.7 925.7v-2.4M576.7 925.7v-2.2M577.7 925.7v-2.1M578.7 925.7v-1.8M579.7 925.7v-1.5M580.7 925.7v-4.9M581.7 925.7v-1.6M582.7 925.7v-5.6M583.7 925.7v-2.4M584.7 925.7v-1.4M585.7 925.7v-2.1M586.7 925.7v-2.7M587.7 925.7v-2.6M588.7 925.7v-1.5M589.7 925.7v-5.5M590.7 925.7v-1.4M591.7 925.7v-2.1M592.7 925.7v-2.5M593.7 925.7v-1.7M594.7 925.7v-2M595.7 925.7v-2.3M596.7 925.7v-1.6M597.7 925.7v-1.5M598.7 925.7v-1.4M599.7 925.7v-2.8M600.7 925.7v-1.5M601.7 925.7v-2.6M602.7 925.7v-1.9M603.7 925.7v-2.3M604.7 925.7v-3.9M605.7 925.7v-3M606.7 925.7v-2.4M607.7 925.7v-1.8M608.7 925.7v-2.3M609.7 925.7v-3.6M610.7 925.7v-2.4M611.7 925.7v-1.5M612.7 925.7v-2.2M613.7 925.7v-2.2M614.7 925.7v-2.3M615.7 925.7v-2.3M616.7 925.7v-1.4M617.7 925.7v-1.5M618.7 925.7v-1.4M619.7 925.7v-1.6M620.7 925.7v-1.6M621.7 925.7v-2.1M622.7 925.7v-2.2M623.7 925.7v-1.8M624.7 925.7v-2.3M625.7 925.7v-2.4M626.7 925.7v-1.4M627.7 925.7v-3.8M628.7 925.7v-1.8M629.7 925.7v-5.7M630.7 925.7v-2.2M631.7 925.7v-3M632.7 925.7v-1.6M633.7 925.7v-2.1M634.7 925.7v-2.9M635.7 925.7v-1.8M636.7 925.7v-1.5M637.7 925.7v-2.3M638.7 925.7v-1.4M639.7 925.7v-2.9M640.7 925.7v-2.3M641.7 925.7v-1.5M642.7 925.7v-1.8M643.7 925.7v-1.4M644.7 925.7v-3.9M645.7 925.7v-2M646.7 925.7v-2.1M647.7 925.7v-3.3M648.7 925.7v-5M649.7 925.7v-4.6M650.7 925.7v-1.9M651.7 925.7v-2.1M652.7 925.7v-1.4M653.7 925.7v-2M654.7 925.7v-2.4M655.7 925.7v-1.7M656.7 925.7v-1.8M657.7 925.7v-1.7M658.7 925.7v-2.1M659.7 925.7v-2.4M660.7 925.7v-1.4M661.7 925.7v-2.2M662.7 925.7v-1.7M663.7 925.7v-1.9M664.7 925.7v-1.7M665.7 925.7v-1.6M666.7 925.7v-2M667.7 925.7v-7" stroke="#44dd33" stroke-width="1.0" fill="none"/>
<text x="337" y="816.5" font-size="8.6">0 - 50</text>
<text x="337" y="847.3" font-size="8.6">0 - 50</text>
<text x="337" y="877.7" font-size="8.6">0 - 50</text>
<text x="337" y="908.3" font-size="8.6">0 - 50</text>
<path d="M380.4 937.8H643" stroke="#5b86c8" stroke-width="1.0" fill="none"/>
<rect x="380.4" y="935.4" width="5.6" height="4.8" fill="#5b86c8"/>
<rect x="388" y="935.4" width="3.5" height="4.8" fill="#5b86c8"/>
<rect x="398" y="935.4" width="1" height="4.8" fill="#5b86c8"/>
<rect x="411" y="935.4" width="1" height="4.8" fill="#5b86c8"/>
<rect x="428" y="935.4" width="2" height="4.8" fill="#5b86c8"/>
<rect x="432" y="935.4" width="2" height="4.8" fill="#5b86c8"/>
<rect x="439" y="935.4" width="12" height="4.8" fill="#5b86c8"/>
<rect x="463" y="935.4" width="8" height="4.8" fill="#5b86c8"/>
<rect x="481" y="935.4" width="3" height="4.8" fill="#5b86c8"/>
<rect x="490" y="935.4" width="2" height="4.8" fill="#5b86c8"/>
<rect x="496" y="935.4" width="4" height="4.8" fill="#5b86c8"/>
<rect x="506" y="935.4" width="4" height="4.8" fill="#5b86c8"/>
<rect x="512" y="935.4" width="1.5" height="4.8" fill="#5b86c8"/>
<rect x="524" y="935.4" width="2" height="4.8" fill="#5b86c8"/>
<rect x="540" y="935.4" width="1.5" height="4.8" fill="#5b86c8"/>
<rect x="550" y="935.4" width="3" height="4.8" fill="#5b86c8"/>
<rect x="560" y="935.4" width="1.5" height="4.8" fill="#5b86c8"/>
<rect x="567" y="935.4" width="2.5" height="4.8" fill="#5b86c8"/>
<rect x="576" y="935.4" width="1" height="4.8" fill="#5b86c8"/>
<rect x="595" y="935.4" width="2" height="4.8" fill="#5b86c8"/>
<rect x="607" y="935.4" width="2" height="4.8" fill="#5b86c8"/>
<rect x="621" y="935.4" width="3" height="4.8" fill="#5b86c8"/>
<rect x="630" y="935.4" width="1" height="4.8" fill="#5b86c8"/>
<circle cx="642" cy="937.8" r="2" fill="#5b86c8"/>
<text x="387" y="954" font-size="8.2" text-anchor="middle">TSS</text>
<text x="510.6" y="954" font-size="8.2" text-anchor="middle">SPAK</text>
<text x="622.2" y="954" font-size="8.2" text-anchor="middle">TES</text>
</svg></body></html>
